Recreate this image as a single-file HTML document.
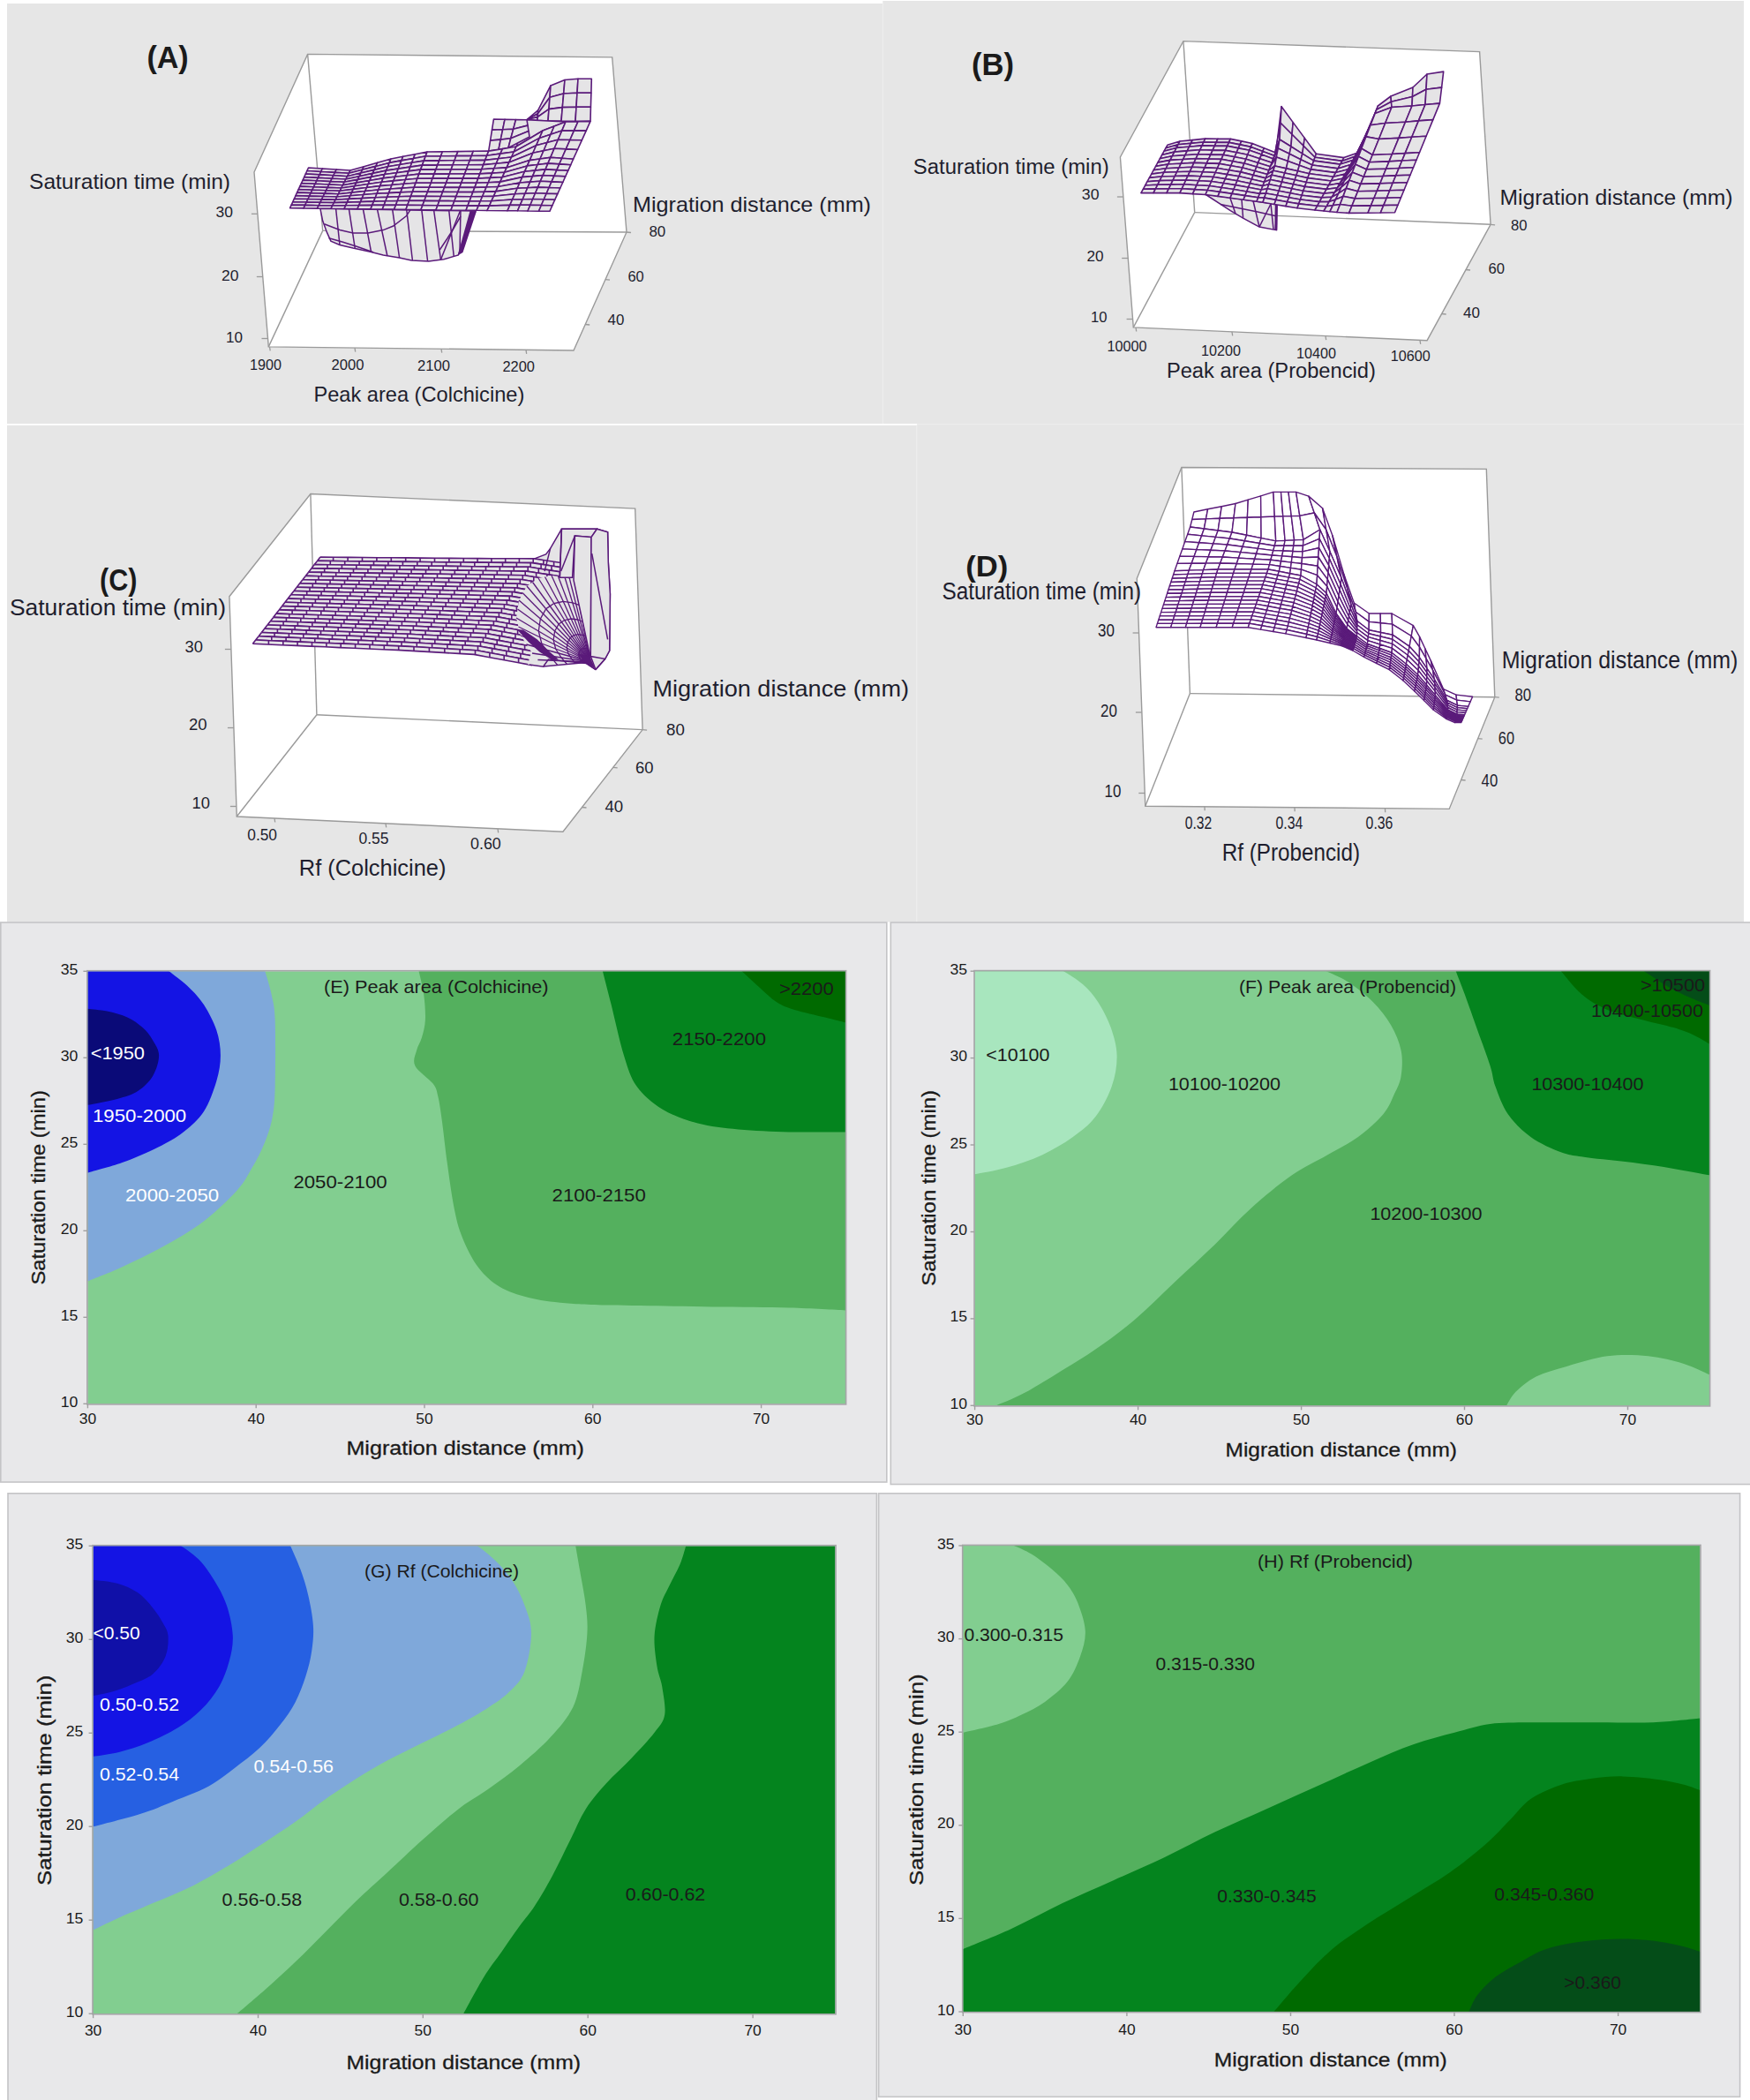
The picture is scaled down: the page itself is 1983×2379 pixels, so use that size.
<!DOCTYPE html><html><head><meta charset="utf-8"><title>Figure</title><style>html,body{margin:0;padding:0;background:#fff}svg{display:block}text{font-family:"Liberation Sans",sans-serif}</style></head><body><svg width="1983" height="2379" viewBox="0 0 1983 2379"><rect x="0" y="0" width="1983" height="2379" fill="#ffffff"/>
<rect x="8" y="4" width="993" height="476.5" fill="#e6e6e6"/>
<rect x="1001" y="1" width="975" height="480" fill="#e6e6e6"/>
<line x1="1000.5" y1="1" x2="1000.5" y2="480" stroke="#eeeeee" stroke-width="1"/>
<rect x="8" y="481.5" width="1031" height="563" fill="#e6e6e6"/>
<rect x="1039" y="481" width="937" height="563.5" fill="#e6e6e6"/>
<line x1="1038.8" y1="481" x2="1038.8" y2="1044" stroke="#eeeeee" stroke-width="1"/>
<line x1="8" y1="480.8" x2="1039" y2="480.8" stroke="#ffffff" stroke-width="1.6"/>
<line x1="1039" y1="480.6" x2="1976" y2="480.6" stroke="#eeeeee" stroke-width="1"/>
<polygon points="288,195 348.6,61.4 693.7,64.9 710,263 650,397 304.3,392.9" fill="#ffffff" stroke="#9a9a9a" stroke-width="1.4"/>
<line x1="348.6" y1="61.4" x2="365.7" y2="261.4" stroke="#9a9a9a" stroke-width="1.4"/>
<line x1="365.7" y1="261.4" x2="710" y2="263" stroke="#9a9a9a" stroke-width="1.4"/>
<line x1="365.7" y1="261.4" x2="304.3" y2="392.9" stroke="#9a9a9a" stroke-width="1.4"/>
<line x1="291.9" y1="242.3" x2="284.9" y2="242.3" stroke="#9a9a9a" stroke-width="1.3"/>
<line x1="297.8" y1="313.5" x2="290.8" y2="313.5" stroke="#9a9a9a" stroke-width="1.3"/>
<line x1="303.5" y1="383.5" x2="296.5" y2="383.5" stroke="#9a9a9a" stroke-width="1.3"/>
<line x1="305.5" y1="392.9" x2="306.2" y2="397.4" stroke="#9a9a9a" stroke-width="1.3"/>
<line x1="402" y1="394.1" x2="402.7" y2="398.6" stroke="#9a9a9a" stroke-width="1.3"/>
<line x1="500" y1="395.2" x2="500.7" y2="399.7" stroke="#9a9a9a" stroke-width="1.3"/>
<line x1="596" y1="396.4" x2="596.7" y2="400.9" stroke="#9a9a9a" stroke-width="1.3"/>
<line x1="710" y1="263" x2="715" y2="263.5" stroke="#9a9a9a" stroke-width="1.3"/>
<line x1="686" y1="316.6" x2="691" y2="317.1" stroke="#9a9a9a" stroke-width="1.3"/>
<line x1="663.2" y1="367.5" x2="668.2" y2="368" stroke="#9a9a9a" stroke-width="1.3"/>
<g fill="#e5e4e6" stroke="#5a1a7a" stroke-width="1.6" stroke-linejoin="round"><polygon points="597,135.7 609.5,128.7 609.7,124.9 597,135.7"/><polygon points="609.5,128.7 623,110.3 624,96.9 609.7,124.9"/><polygon points="623,110.3 638.7,106 640,90.5 624,96.9"/><polygon points="638.7,106 654,105.3 655,89.3 640,90.5"/><polygon points="654,105.3 669.9,105.3 670.3,89.2 655,89.3"/><polygon points="597,135.7 609.2,132.5 609.5,128.7 597,135.7"/><polygon points="609.2,132.5 622,123.6 623,110.3 609.5,128.7"/><polygon points="622,123.6 637.3,121.6 638.7,106 623,110.3"/><polygon points="637.3,121.6 653,121.2 654,105.3 638.7,106"/><polygon points="653,121.2 669.4,121.3 669.9,105.3 654,105.3"/><polygon points="597,135.7 609,136.3 609.2,132.5 597,135.7"/><polygon points="609,136.3 621,137 622,123.6 609.2,132.5"/><polygon points="621,137 636,137.1 637.3,121.6 622,123.6"/><polygon points="636,137.1 652,137.2 653,121.2 637.3,121.6"/><polygon points="652,137.2 669,137.4 669.4,121.3 653,121.2"/></g>
<polygon points="597,135.7 585,166 615,148 641,138 621,137" fill="#e5e4e6" stroke="#5a1a7a" stroke-width="1.5"/>
<g fill="#e5e4e6" stroke="#5a1a7a" stroke-width="1.6" stroke-linejoin="round"><polygon points="557.5,147.1 569.7,146.7 572,135.3 559.4,135.1"/><polygon points="569.7,146.7 581.7,146.2 584.5,135.5 572,135.3"/><polygon points="581.7,146.2 598,142.1 597,135.7 584.5,135.5"/><polygon points="555.6,159.1 567.3,158.1 569.7,146.7 557.5,147.1"/><polygon points="567.3,158.1 578.8,156.8 581.7,146.2 569.7,146.7"/><polygon points="578.8,156.8 599,148.6 598,142.1 581.7,146.2"/><polygon points="553.7,171.1 565,169.5 567.3,158.1 555.6,159.1"/><polygon points="565,169.5 576,167.5 578.8,156.8 567.3,158.1"/><polygon points="576,167.5 600,155 599,148.6 578.8,156.8"/></g>
<polygon points="362.9,236.3 365.7,250.3 370.3,262.9 374.9,273.1 385,277.5 400,281.1 420.6,285.5 434.3,289.1 452.6,292 466.3,294.9 485.7,296 502.9,293.7 519.4,289 531.4,257.1 538.9,239.1" fill="#e5e4e6" stroke="#5a1a7a" stroke-width="1.5"/>
<line x1="380.6" y1="236.6" x2="385" y2="277.5" stroke="#5a1a7a" stroke-width="1.5"/>
<line x1="395.4" y1="236.6" x2="402.3" y2="281.5" stroke="#5a1a7a" stroke-width="1.5"/>
<line x1="411.4" y1="236.6" x2="420.6" y2="285.5" stroke="#5a1a7a" stroke-width="1.5"/>
<line x1="427.4" y1="236.6" x2="438.9" y2="290" stroke="#5a1a7a" stroke-width="1.5"/>
<line x1="444.6" y1="236.6" x2="452.6" y2="292" stroke="#5a1a7a" stroke-width="1.5"/>
<line x1="460.6" y1="236.6" x2="467.4" y2="295" stroke="#5a1a7a" stroke-width="1.5"/>
<line x1="477.7" y1="236.6" x2="484.6" y2="296" stroke="#5a1a7a" stroke-width="1.5"/>
<line x1="491.4" y1="236.6" x2="499.4" y2="294.2" stroke="#5a1a7a" stroke-width="1.5"/>
<line x1="508.6" y1="237" x2="514.3" y2="291" stroke="#5a1a7a" stroke-width="1.5"/>
<line x1="522" y1="237.5" x2="499.4" y2="294.2" stroke="#5a1a7a" stroke-width="1.5"/>
<line x1="522" y1="237.5" x2="521" y2="284" stroke="#5a1a7a" stroke-width="1.5"/>
<polyline points="367.4,253.7 385,260.5 400,264 417,264 434.3,260.6 445.7,256 460.6,244.6 465,237.7" fill="none" stroke="#5a1a7a" stroke-width="1.5"/>
<polyline points="372.6,269.7 388.6,274.3 405,279.5 422.9,285.7" fill="none" stroke="#5a1a7a" stroke-width="1.5"/>
<polyline points="498.3,283 507,270 514.3,258.3 522,245" fill="none" stroke="#5a1a7a" stroke-width="1.5"/>
<polygon points="532.5,239 540,239.2 524.5,286 518.5,289.5" fill="#5a1a7a"/>
<g fill="#e5e4e6" stroke="#5a1a7a" stroke-width="1.6" stroke-linejoin="round"><polygon points="347.9,193.5 363.7,194.5 365.3,191 349.5,190"/><polygon points="363.7,194.5 379.5,195.4 381.2,192 365.3,191"/><polygon points="379.5,195.4 395.3,196.3 397,193 381.2,192"/><polygon points="395.3,196.3 410.6,192.3 412.3,188.7 397,193"/><polygon points="410.6,192.3 425.9,188.4 427.7,184.3 412.3,188.7"/><polygon points="425.9,188.4 441.2,184.4 443,180 427.7,184.3"/><polygon points="441.2,184.4 454.9,181.9 456.7,177.3 443,180"/><polygon points="454.9,181.9 468.5,179.5 470.3,174.7 456.7,177.3"/><polygon points="468.5,179.5 482.2,177 484,172 470.3,174.7"/><polygon points="482.2,177 499.5,176.8 501.4,171.8 484,172"/><polygon points="499.5,176.8 516.9,176.6 518.9,171.6 501.4,171.8"/><polygon points="516.9,176.6 534.3,176.5 536.3,171.3 518.9,171.6"/><polygon points="534.3,176.5 551.7,176.3 553.7,171.1 536.3,171.3"/><polygon points="551.7,176.3 567,174.1 569.4,168.6 553.7,171.1"/><polygon points="567,174.1 582.3,172 585,166 569.4,168.6"/><polygon points="582.3,172 611.3,156.4 615,148 585,166"/><polygon points="611.3,156.4 624,152.2 628,143 615,148"/><polygon points="624,152.2 636.7,148.1 641,138 628,143"/><polygon points="636.7,148.1 650.4,148.1 655,137.7 641,138"/><polygon points="650.4,148.1 664.2,148.1 669,137.4 655,137.7"/><polygon points="346.3,197 362.1,197.9 363.7,194.5 347.9,193.5"/><polygon points="362.1,197.9 377.8,198.8 379.5,195.4 363.7,194.5"/><polygon points="377.8,198.8 393.6,199.7 395.3,196.3 379.5,195.4"/><polygon points="393.6,199.7 408.9,196 410.6,192.3 395.3,196.3"/><polygon points="408.9,196 424.2,192.4 425.9,188.4 410.6,192.3"/><polygon points="424.2,192.4 439.5,188.7 441.2,184.4 425.9,188.4"/><polygon points="439.5,188.7 453.1,186.5 454.9,181.9 441.2,184.4"/><polygon points="453.1,186.5 466.7,184.3 468.5,179.5 454.9,181.9"/><polygon points="466.7,184.3 480.3,182.1 482.2,177 468.5,179.5"/><polygon points="480.3,182.1 497.7,181.9 499.5,176.8 482.2,177"/><polygon points="497.7,181.9 515,181.7 516.9,176.6 499.5,176.8"/><polygon points="515,181.7 532.4,181.6 534.3,176.5 516.9,176.6"/><polygon points="532.4,181.6 549.7,181.4 551.7,176.3 534.3,176.5"/><polygon points="549.7,181.4 564.6,179.7 567,174.1 551.7,176.3"/><polygon points="564.6,179.7 579.6,178 582.3,172 567,174.1"/><polygon points="579.6,178 607.6,164.8 611.3,156.4 582.3,172"/><polygon points="607.6,164.8 620,161.5 624,152.2 611.3,156.4"/><polygon points="620,161.5 632.4,158.2 636.7,148.1 624,152.2"/><polygon points="632.4,158.2 645.9,158.5 650.4,148.1 636.7,148.1"/><polygon points="645.9,158.5 659.3,158.8 664.2,148.1 650.4,148.1"/><polygon points="344.7,200.6 360.4,201.4 362.1,197.9 346.3,197"/><polygon points="360.4,201.4 376.2,202.2 377.8,198.8 362.1,197.9"/><polygon points="376.2,202.2 391.9,203 393.6,199.7 377.8,198.8"/><polygon points="391.9,203 407.2,199.7 408.9,196 393.6,199.7"/><polygon points="407.2,199.7 422.4,196.4 424.2,192.4 408.9,196"/><polygon points="422.4,196.4 437.7,193.1 439.5,188.7 424.2,192.4"/><polygon points="437.7,193.1 451.3,191.1 453.1,186.5 439.5,188.7"/><polygon points="451.3,191.1 464.9,189.1 466.7,184.3 453.1,186.5"/><polygon points="464.9,189.1 478.5,187.1 480.3,182.1 466.7,184.3"/><polygon points="478.5,187.1 495.8,187 497.7,181.9 480.3,182.1"/><polygon points="495.8,187 513.1,186.8 515,181.7 497.7,181.9"/><polygon points="513.1,186.8 530.4,186.7 532.4,181.6 515,181.7"/><polygon points="530.4,186.7 547.8,186.6 549.7,181.4 532.4,181.6"/><polygon points="547.8,186.6 562.3,185.3 564.6,179.7 549.7,181.4"/><polygon points="562.3,185.3 576.8,183.9 579.6,178 564.6,179.7"/><polygon points="576.8,183.9 603.9,173.2 607.6,164.8 579.6,178"/><polygon points="603.9,173.2 616,170.7 620,161.5 607.6,164.8"/><polygon points="616,170.7 628.1,168.3 632.4,158.2 620,161.5"/><polygon points="628.1,168.3 641.3,168.9 645.9,158.5 632.4,158.2"/><polygon points="641.3,168.9 654.5,169.5 659.3,158.8 645.9,158.5"/><polygon points="343.1,204.1 358.8,204.8 360.4,201.4 344.7,200.6"/><polygon points="358.8,204.8 374.5,205.6 376.2,202.2 360.4,201.4"/><polygon points="374.5,205.6 390.2,206.3 391.9,203 376.2,202.2"/><polygon points="390.2,206.3 405.5,203.4 407.2,199.7 391.9,203"/><polygon points="405.5,203.4 420.7,200.4 422.4,196.4 407.2,199.7"/><polygon points="420.7,200.4 435.9,197.5 437.7,193.1 422.4,196.4"/><polygon points="435.9,197.5 449.5,195.7 451.3,191.1 437.7,193.1"/><polygon points="449.5,195.7 463,193.9 464.9,189.1 451.3,191.1"/><polygon points="463,193.9 476.6,192.1 478.5,187.1 464.9,189.1"/><polygon points="476.6,192.1 493.9,192 495.8,187 478.5,187.1"/><polygon points="493.9,192 511.2,191.9 513.1,186.8 495.8,187"/><polygon points="511.2,191.9 528.5,191.9 530.4,186.7 513.1,186.8"/><polygon points="528.5,191.9 545.8,191.8 547.8,186.6 530.4,186.7"/><polygon points="545.8,191.8 559.9,190.8 562.3,185.3 547.8,186.6"/><polygon points="559.9,190.8 574.1,189.9 576.8,183.9 562.3,185.3"/><polygon points="574.1,189.9 600.2,181.6 603.9,173.2 576.8,183.9"/><polygon points="600.2,181.6 612,180 616,170.7 603.9,173.2"/><polygon points="612,180 623.8,178.4 628.1,168.3 616,170.7"/><polygon points="623.8,178.4 636.7,179.3 641.3,168.9 628.1,168.3"/><polygon points="636.7,179.3 649.6,180.2 654.5,169.5 641.3,168.9"/><polygon points="341.5,207.6 357.1,208.3 358.8,204.8 343.1,204.1"/><polygon points="357.1,208.3 372.8,209 374.5,205.6 358.8,204.8"/><polygon points="372.8,209 388.5,209.7 390.2,206.3 374.5,205.6"/><polygon points="388.5,209.7 403.7,207.1 405.5,203.4 390.2,206.3"/><polygon points="403.7,207.1 418.9,204.5 420.7,200.4 405.5,203.4"/><polygon points="418.9,204.5 434.1,201.9 435.9,197.5 420.7,200.4"/><polygon points="434.1,201.9 447.7,200.3 449.5,195.7 435.9,197.5"/><polygon points="447.7,200.3 461.2,198.7 463,193.9 449.5,195.7"/><polygon points="461.2,198.7 474.8,197.1 476.6,192.1 463,193.9"/><polygon points="474.8,197.1 492,197.1 493.9,192 476.6,192.1"/><polygon points="492,197.1 509.3,197 511.2,191.9 493.9,192"/><polygon points="509.3,197 526.5,197 528.5,191.9 511.2,191.9"/><polygon points="526.5,197 543.8,196.9 545.8,191.8 528.5,191.9"/><polygon points="543.8,196.9 557.7,196.1 559.9,190.8 545.8,191.8"/><polygon points="557.7,196.1 571.7,195.3 574.1,189.9 559.9,190.8"/><polygon points="571.7,195.3 597.4,187.9 600.2,181.6 574.1,189.9"/><polygon points="597.4,187.9 609.2,186.5 612,180 600.2,181.6"/><polygon points="609.2,186.5 620.9,185.1 623.8,178.4 612,180"/><polygon points="620.9,185.1 633.8,185.9 636.7,179.3 623.8,178.4"/><polygon points="633.8,185.9 646.7,186.8 649.6,180.2 636.7,179.3"/><polygon points="339.8,211.1 355.5,211.7 357.1,208.3 341.5,207.6"/><polygon points="355.5,211.7 371.2,212.4 372.8,209 357.1,208.3"/><polygon points="371.2,212.4 386.8,213 388.5,209.7 372.8,209"/><polygon points="386.8,213 402,210.7 403.7,207.1 388.5,209.7"/><polygon points="402,210.7 417.2,208.5 418.9,204.5 403.7,207.1"/><polygon points="417.2,208.5 432.4,206.2 434.1,201.9 418.9,204.5"/><polygon points="432.4,206.2 445.9,204.9 447.7,200.3 434.1,201.9"/><polygon points="445.9,204.9 459.4,203.5 461.2,198.7 447.7,200.3"/><polygon points="459.4,203.5 472.9,202.2 474.8,197.1 461.2,198.7"/><polygon points="472.9,202.2 490.1,202.1 492,197.1 474.8,197.1"/><polygon points="490.1,202.1 507.4,202.1 509.3,197 492,197.1"/><polygon points="507.4,202.1 524.6,202.1 526.5,197 509.3,197"/><polygon points="524.6,202.1 541.8,202.1 543.8,196.9 526.5,197"/><polygon points="541.8,202.1 555.5,201.4 557.7,196.1 543.8,196.9"/><polygon points="555.5,201.4 569.2,200.7 571.7,195.3 557.7,196.1"/><polygon points="569.2,200.7 594.6,194.3 597.4,187.9 571.7,195.3"/><polygon points="594.6,194.3 606.3,193.1 609.2,186.5 597.4,187.9"/><polygon points="606.3,193.1 618.1,191.9 620.9,185.1 609.2,186.5"/><polygon points="618.1,191.9 630.9,192.6 633.8,185.9 620.9,185.1"/><polygon points="630.9,192.6 643.7,193.3 646.7,186.8 633.8,185.9"/><polygon points="338.2,214.6 353.9,215.2 355.5,211.7 339.8,211.1"/><polygon points="353.9,215.2 369.5,215.8 371.2,212.4 355.5,211.7"/><polygon points="369.5,215.8 385.1,216.3 386.8,213 371.2,212.4"/><polygon points="385.1,216.3 400.3,214.4 402,210.7 386.8,213"/><polygon points="400.3,214.4 415.5,212.5 417.2,208.5 402,210.7"/><polygon points="415.5,212.5 430.6,210.6 432.4,206.2 417.2,208.5"/><polygon points="430.6,210.6 444.1,209.5 445.9,204.9 432.4,206.2"/><polygon points="444.1,209.5 457.6,208.3 459.4,203.5 445.9,204.9"/><polygon points="457.6,208.3 471.1,207.2 472.9,202.2 459.4,203.5"/><polygon points="471.1,207.2 488.3,207.2 490.1,202.1 472.9,202.2"/><polygon points="488.3,207.2 505.5,207.2 507.4,202.1 490.1,202.1"/><polygon points="505.5,207.2 522.7,207.2 524.6,202.1 507.4,202.1"/><polygon points="522.7,207.2 539.9,207.2 541.8,202.1 524.6,202.1"/><polygon points="539.9,207.2 553.3,206.7 555.5,201.4 541.8,202.1"/><polygon points="553.3,206.7 566.7,206.1 569.2,200.7 555.5,201.4"/><polygon points="566.7,206.1 591.8,200.6 594.6,194.3 569.2,200.7"/><polygon points="591.8,200.6 603.5,199.6 606.3,193.1 594.6,194.3"/><polygon points="603.5,199.6 615.2,198.6 618.1,191.9 606.3,193.1"/><polygon points="615.2,198.6 628,199.2 630.9,192.6 618.1,191.9"/><polygon points="628,199.2 640.7,199.9 643.7,193.3 630.9,192.6"/><polygon points="336.6,218.1 352.2,218.6 353.9,215.2 338.2,214.6"/><polygon points="352.2,218.6 367.9,219.1 369.5,215.8 353.9,215.2"/><polygon points="367.9,219.1 383.5,219.7 385.1,216.3 369.5,215.8"/><polygon points="383.5,219.7 398.6,218.1 400.3,214.4 385.1,216.3"/><polygon points="398.6,218.1 413.7,216.5 415.5,212.5 400.3,214.4"/><polygon points="413.7,216.5 428.8,215 430.6,210.6 415.5,212.5"/><polygon points="428.8,215 442.3,214 444.1,209.5 430.6,210.6"/><polygon points="442.3,214 455.8,213.1 457.6,208.3 444.1,209.5"/><polygon points="455.8,213.1 469.2,212.2 471.1,207.2 457.6,208.3"/><polygon points="469.2,212.2 486.4,212.2 488.3,207.2 471.1,207.2"/><polygon points="486.4,212.2 503.6,212.3 505.5,207.2 488.3,207.2"/><polygon points="503.6,212.3 520.7,212.4 522.7,207.2 505.5,207.2"/><polygon points="520.7,212.4 537.9,212.4 539.9,207.2 522.7,207.2"/><polygon points="537.9,212.4 551.1,212 553.3,206.7 539.9,207.2"/><polygon points="551.1,212 564.3,211.5 566.7,206.1 553.3,206.7"/><polygon points="564.3,211.5 589,207 591.8,200.6 566.7,206.1"/><polygon points="589,207 600.7,206.1 603.5,199.6 591.8,200.6"/><polygon points="600.7,206.1 612.3,205.3 615.2,198.6 603.5,199.6"/><polygon points="612.3,205.3 625,205.9 628,199.2 615.2,198.6"/><polygon points="625,205.9 637.8,206.5 640.7,199.9 628,199.2"/><polygon points="335,221.6 350.6,222.1 352.2,218.6 336.6,218.1"/><polygon points="350.6,222.1 366.2,222.5 367.9,219.1 352.2,218.6"/><polygon points="366.2,222.5 381.8,223 383.5,219.7 367.9,219.1"/><polygon points="381.8,223 396.9,221.8 398.6,218.1 383.5,219.7"/><polygon points="396.9,221.8 412,220.5 413.7,216.5 398.6,218.1"/><polygon points="412,220.5 427.1,219.3 428.8,215 413.7,216.5"/><polygon points="427.1,219.3 440.5,218.6 442.3,214 428.8,215"/><polygon points="440.5,218.6 453.9,217.9 455.8,213.1 442.3,214"/><polygon points="453.9,217.9 467.4,217.2 469.2,212.2 455.8,213.1"/><polygon points="467.4,217.2 484.5,217.3 486.4,212.2 469.2,212.2"/><polygon points="484.5,217.3 501.6,217.4 503.6,212.3 486.4,212.2"/><polygon points="501.6,217.4 518.8,217.5 520.7,212.4 503.6,212.3"/><polygon points="518.8,217.5 535.9,217.6 537.9,212.4 520.7,212.4"/><polygon points="535.9,217.6 548.9,217.2 551.1,212 537.9,212.4"/><polygon points="548.9,217.2 561.8,216.9 564.3,211.5 551.1,212"/><polygon points="561.8,216.9 586.2,213.3 589,207 564.3,211.5"/><polygon points="586.2,213.3 597.8,212.7 600.7,206.1 589,207"/><polygon points="597.8,212.7 609.5,212.1 612.3,205.3 600.7,206.1"/><polygon points="609.5,212.1 622.1,212.5 625,205.9 612.3,205.3"/><polygon points="622.1,212.5 634.8,213 637.8,206.5 625,205.9"/><polygon points="333.4,225.2 349,225.5 350.6,222.1 335,221.6"/><polygon points="349,225.5 364.5,225.9 366.2,222.5 350.6,222.1"/><polygon points="364.5,225.9 380.1,226.3 381.8,223 366.2,222.5"/><polygon points="380.1,226.3 395.2,225.4 396.9,221.8 381.8,223"/><polygon points="395.2,225.4 410.2,224.6 412,220.5 396.9,221.8"/><polygon points="410.2,224.6 425.3,223.7 427.1,219.3 412,220.5"/><polygon points="425.3,223.7 438.7,223.2 440.5,218.6 427.1,219.3"/><polygon points="438.7,223.2 452.1,222.7 453.9,217.9 440.5,218.6"/><polygon points="452.1,222.7 465.5,222.2 467.4,217.2 453.9,217.9"/><polygon points="465.5,222.2 482.6,222.4 484.5,217.3 467.4,217.2"/><polygon points="482.6,222.4 499.7,222.5 501.6,217.4 484.5,217.3"/><polygon points="499.7,222.5 516.8,222.6 518.8,217.5 501.6,217.4"/><polygon points="516.8,222.6 533.9,222.7 535.9,217.6 518.8,217.5"/><polygon points="533.9,222.7 546.6,222.5 548.9,217.2 535.9,217.6"/><polygon points="546.6,222.5 559.4,222.3 561.8,216.9 548.9,217.2"/><polygon points="559.4,222.3 583.4,219.7 586.2,213.3 561.8,216.9"/><polygon points="583.4,219.7 595,219.2 597.8,212.7 586.2,213.3"/><polygon points="595,219.2 606.6,218.8 609.5,212.1 597.8,212.7"/><polygon points="606.6,218.8 619.2,219.2 622.1,212.5 609.5,212.1"/><polygon points="619.2,219.2 631.8,219.6 634.8,213 622.1,212.5"/><polygon points="331.8,228.7 347.3,229 349,225.5 333.4,225.2"/><polygon points="347.3,229 362.9,229.3 364.5,225.9 349,225.5"/><polygon points="362.9,229.3 378.4,229.6 380.1,226.3 364.5,225.9"/><polygon points="378.4,229.6 393.4,229.1 395.2,225.4 380.1,226.3"/><polygon points="393.4,229.1 408.5,228.6 410.2,224.6 395.2,225.4"/><polygon points="408.5,228.6 423.5,228.1 425.3,223.7 410.2,224.6"/><polygon points="423.5,228.1 436.9,227.8 438.7,223.2 425.3,223.7"/><polygon points="436.9,227.8 450.3,227.5 452.1,222.7 438.7,223.2"/><polygon points="450.3,227.5 463.7,227.3 465.5,222.2 452.1,222.7"/><polygon points="463.7,227.3 480.8,227.4 482.6,222.4 465.5,222.2"/><polygon points="480.8,227.4 497.8,227.6 499.7,222.5 482.6,222.4"/><polygon points="497.8,227.6 514.9,227.7 516.8,222.6 499.7,222.5"/><polygon points="514.9,227.7 532,227.9 533.9,222.7 516.8,222.6"/><polygon points="532,227.9 544.4,227.8 546.6,222.5 533.9,222.7"/><polygon points="544.4,227.8 556.9,227.7 559.4,222.3 546.6,222.5"/><polygon points="556.9,227.7 580.6,226 583.4,219.7 559.4,222.3"/><polygon points="580.6,226 592.2,225.8 595,219.2 583.4,219.7"/><polygon points="592.2,225.8 603.7,225.5 606.6,218.8 595,219.2"/><polygon points="603.7,225.5 616.3,225.8 619.2,219.2 606.6,218.8"/><polygon points="616.3,225.8 628.8,226.2 631.8,219.6 619.2,219.2"/><polygon points="330.2,232.2 345.7,232.4 347.3,229 331.8,228.7"/><polygon points="345.7,232.4 361.2,232.7 362.9,229.3 347.3,229"/><polygon points="361.2,232.7 376.7,233 378.4,229.6 362.9,229.3"/><polygon points="376.7,233 391.7,232.8 393.4,229.1 378.4,229.6"/><polygon points="391.7,232.8 406.7,232.6 408.5,228.6 393.4,229.1"/><polygon points="406.7,232.6 421.8,232.4 423.5,228.1 408.5,228.6"/><polygon points="421.8,232.4 435.1,232.4 436.9,227.8 423.5,228.1"/><polygon points="435.1,232.4 448.5,232.3 450.3,227.5 436.9,227.8"/><polygon points="448.5,232.3 461.8,232.3 463.7,227.3 450.3,227.5"/><polygon points="461.8,232.3 478.9,232.5 480.8,227.4 463.7,227.3"/><polygon points="478.9,232.5 495.9,232.7 497.8,227.6 480.8,227.4"/><polygon points="495.9,232.7 512.9,232.9 514.9,227.7 497.8,227.6"/><polygon points="512.9,232.9 530,233 532,227.9 514.9,227.7"/><polygon points="530,233 542.2,233.1 544.4,227.8 532,227.9"/><polygon points="542.2,233.1 554.5,233.1 556.9,227.7 544.4,227.8"/><polygon points="554.5,233.1 577.8,232.4 580.6,226 556.9,227.7"/><polygon points="577.8,232.4 589.3,232.3 592.2,225.8 580.6,226"/><polygon points="589.3,232.3 600.9,232.3 603.7,225.5 592.2,225.8"/><polygon points="600.9,232.3 613.4,232.5 616.3,225.8 603.7,225.5"/><polygon points="613.4,232.5 625.9,232.7 628.8,226.2 616.3,225.8"/><polygon points="328.6,235.7 344.1,235.9 345.7,232.4 330.2,232.2"/><polygon points="344.1,235.9 359.5,236.1 361.2,232.7 345.7,232.4"/><polygon points="359.5,236.1 375,236.3 376.7,233 361.2,232.7"/><polygon points="375,236.3 390,236.5 391.7,232.8 376.7,233"/><polygon points="390,236.5 405,236.6 406.7,232.6 391.7,232.8"/><polygon points="405,236.6 420,236.8 421.8,232.4 406.7,232.6"/><polygon points="420,236.8 433.3,237 435.1,232.4 421.8,232.4"/><polygon points="433.3,237 446.7,237.1 448.5,232.3 435.1,232.4"/><polygon points="446.7,237.1 460,237.3 461.8,232.3 448.5,232.3"/><polygon points="460,237.3 477,237.5 478.9,232.5 461.8,232.3"/><polygon points="477,237.5 494,237.8 495.9,232.7 478.9,232.5"/><polygon points="494,237.8 511,238 512.9,232.9 495.9,232.7"/><polygon points="511,238 528,238.2 530,233 512.9,232.9"/><polygon points="528,238.2 540,238.3 542.2,233.1 530,233"/><polygon points="540,238.3 552,238.5 554.5,233.1 542.2,233.1"/><polygon points="552,238.5 575,238.7 577.8,232.4 554.5,233.1"/><polygon points="575,238.7 586.5,238.8 589.3,232.3 577.8,232.4"/><polygon points="586.5,238.8 598,239 600.9,232.3 589.3,232.3"/><polygon points="598,239 610.5,239.2 613.4,232.5 600.9,232.3"/><polygon points="610.5,239.2 622.9,239.3 625.9,232.7 613.4,232.5"/></g>
<text font-weight="bold" x="166.4" y="76.8" font-size="35.5" fill="#1a1a1a" textLength="47.3" lengthAdjust="spacingAndGlyphs">(A)</text>
<text x="33" y="213.7" font-size="23.4" fill="#1e1e2e" textLength="228" lengthAdjust="spacingAndGlyphs">Saturation time (min)</text>
<text x="244.6" y="246" font-size="16.6" fill="#1e1e2e" textLength="19.4" lengthAdjust="spacingAndGlyphs">30</text>
<text x="251" y="317.9" font-size="16.6" fill="#1e1e2e" textLength="19.5" lengthAdjust="spacingAndGlyphs">20</text>
<text x="256" y="387.6" font-size="16.6" fill="#1e1e2e" textLength="19" lengthAdjust="spacingAndGlyphs">10</text>
<text x="283" y="419" font-size="16.6" fill="#1e1e2e" textLength="36" lengthAdjust="spacingAndGlyphs">1900</text>
<text x="375.5" y="419.2" font-size="16.6" fill="#1e1e2e" textLength="37" lengthAdjust="spacingAndGlyphs">2000</text>
<text x="473" y="419.6" font-size="16.6" fill="#1e1e2e" textLength="37" lengthAdjust="spacingAndGlyphs">2100</text>
<text x="569.5" y="421.3" font-size="16.6" fill="#1e1e2e" textLength="36.5" lengthAdjust="spacingAndGlyphs">2200</text>
<text x="355.4" y="455.4" font-size="23.4" fill="#1e1e2e" textLength="238.9" lengthAdjust="spacingAndGlyphs">Peak area (Colchicine)</text>
<text x="717" y="240" font-size="23.4" fill="#1e1e2e" textLength="270" lengthAdjust="spacingAndGlyphs">Migration distance (mm)</text>
<text x="735.4" y="267.6" font-size="16.6" fill="#1e1e2e" textLength="18.9" lengthAdjust="spacingAndGlyphs">80</text>
<text x="711.4" y="319" font-size="16.6" fill="#1e1e2e" textLength="18.3" lengthAdjust="spacingAndGlyphs">60</text>
<text x="688.6" y="367.6" font-size="16.6" fill="#1e1e2e" textLength="18.8" lengthAdjust="spacingAndGlyphs">40</text>
<polygon points="1269.4,178 1340.9,46.6 1676.6,58.6 1689.1,254.3 1617.1,385.7 1284.3,370.9" fill="#ffffff" stroke="#9a9a9a" stroke-width="1.4"/>
<line x1="1340.9" y1="46.6" x2="1353.7" y2="240.6" stroke="#9a9a9a" stroke-width="1.4"/>
<line x1="1353.7" y1="240.6" x2="1689.1" y2="254.3" stroke="#9a9a9a" stroke-width="1.4"/>
<line x1="1353.7" y1="240.6" x2="1284.3" y2="370.9" stroke="#9a9a9a" stroke-width="1.4"/>
<line x1="1272.9" y1="223" x2="1265.9" y2="223" stroke="#9a9a9a" stroke-width="1.3"/>
<line x1="1278.2" y1="292.5" x2="1271.2" y2="292.5" stroke="#9a9a9a" stroke-width="1.3"/>
<line x1="1283.6" y1="361.5" x2="1276.6" y2="361.5" stroke="#9a9a9a" stroke-width="1.3"/>
<line x1="1287" y1="371" x2="1287.7" y2="375.5" stroke="#9a9a9a" stroke-width="1.3"/>
<line x1="1396" y1="375.9" x2="1396.7" y2="380.4" stroke="#9a9a9a" stroke-width="1.3"/>
<line x1="1502" y1="380.6" x2="1502.7" y2="385.1" stroke="#9a9a9a" stroke-width="1.3"/>
<line x1="1609" y1="385.3" x2="1609.7" y2="389.8" stroke="#9a9a9a" stroke-width="1.3"/>
<line x1="1689.1" y1="254.3" x2="1694.1" y2="254.8" stroke="#9a9a9a" stroke-width="1.3"/>
<line x1="1661" y1="305.5" x2="1666" y2="306" stroke="#9a9a9a" stroke-width="1.3"/>
<line x1="1633.7" y1="355.5" x2="1638.7" y2="356" stroke="#9a9a9a" stroke-width="1.3"/>
<polygon points="1365.7,220 1394.3,238.6 1408.6,247.1 1427,257.1 1446.4,260.7 1447,231.4" fill="#e5e4e6" stroke="#5a1a7a" stroke-width="1.5"/>
<line x1="1394" y1="224.5" x2="1400" y2="242" stroke="#5a1a7a" stroke-width="1.5"/>
<line x1="1407" y1="226" x2="1408.6" y2="247.1" stroke="#5a1a7a" stroke-width="1.5"/>
<line x1="1420" y1="227.5" x2="1427" y2="257.1" stroke="#5a1a7a" stroke-width="1.5"/>
<line x1="1440" y1="231" x2="1427" y2="257.1" stroke="#5a1a7a" stroke-width="1.5"/>
<line x1="1440" y1="231" x2="1443" y2="260" stroke="#5a1a7a" stroke-width="1.5"/>
<polyline points="1383,231.5 1405,236 1425,240 1447,245" fill="none" stroke="#5a1a7a" stroke-width="1.5"/>
<line x1="1446.3" y1="231.4" x2="1445.8" y2="260.7" stroke="#5a1a7a" stroke-width="3"/>
<g fill="#e5e4e6" stroke="#5a1a7a" stroke-width="1.6" stroke-linejoin="round"><polygon points="1321,167.7 1335.1,163.7 1337,160 1322.9,164.3"/><polygon points="1335.1,163.7 1349.5,162.4 1351.3,158.6 1337,160"/><polygon points="1349.5,162.4 1363.9,161 1365.7,157.1 1351.3,158.6"/><polygon points="1363.9,161 1378.2,161.2 1380,157.2 1365.7,157.1"/><polygon points="1378.2,161.2 1392.5,161.4 1394.3,157.4 1380,157.2"/><polygon points="1392.5,161.4 1405,163.9 1406.7,159.9 1394.3,157.4"/><polygon points="1405,163.9 1417.4,166.4 1419,162.5 1406.7,159.9"/><polygon points="1417.4,166.4 1430.9,171.4 1432.3,167.7 1419,162.5"/><polygon points="1430.9,171.4 1444.3,176.4 1445.7,172.9 1432.3,167.7"/><polygon points="1444.3,176.4 1451,139.3 1452.1,120.7 1445.7,172.9"/><polygon points="1451,139.3 1464,152.3 1465.2,138.6 1452.1,120.7"/><polygon points="1464,152.3 1477,165.3 1478.3,156.4 1465.2,138.6"/><polygon points="1477,165.3 1490,178.2 1491.4,174.3 1478.3,156.4"/><polygon points="1490,178.2 1520.8,182.4 1522.9,178.6 1491.4,174.3"/><polygon points="1520.8,182.4 1536.1,177.1 1538.6,172.9 1522.9,178.6"/><polygon points="1536.1,177.1 1548.5,151.2 1550,148 1538.6,172.9"/><polygon points="1548.5,151.2 1559.8,124.2 1561.4,120 1550,148"/><polygon points="1559.8,124.2 1576.5,115.2 1576,109 1561.4,120"/><polygon points="1576.5,115.2 1600.5,109.5 1601,99 1576,109"/><polygon points="1600.5,109.5 1616,101.2 1617,84 1601,99"/><polygon points="1616,101.2 1633.6,99.1 1635.7,81.1 1617,84"/><polygon points="1319.1,171.2 1333.2,167.4 1335.1,163.7 1321,167.7"/><polygon points="1333.2,167.4 1347.6,166.2 1349.5,162.4 1335.1,163.7"/><polygon points="1347.6,166.2 1362.1,164.9 1363.9,161 1349.5,162.4"/><polygon points="1362.1,164.9 1376.4,165.2 1378.2,161.2 1363.9,161"/><polygon points="1376.4,165.2 1390.7,165.4 1392.5,161.4 1378.2,161.2"/><polygon points="1390.7,165.4 1403.3,167.9 1405,163.9 1392.5,161.4"/><polygon points="1403.3,167.9 1415.8,170.3 1417.4,166.4 1405,163.9"/><polygon points="1415.8,170.3 1429.4,175.1 1430.9,171.4 1417.4,166.4"/><polygon points="1429.4,175.1 1442.9,179.9 1444.3,176.4 1430.9,171.4"/><polygon points="1442.9,179.9 1450,158 1451,139.3 1444.3,176.4"/><polygon points="1450,158 1462.9,166 1464,152.3 1451,139.3"/><polygon points="1462.9,166 1475.8,174.1 1477,165.3 1464,152.3"/><polygon points="1475.8,174.1 1488.7,182.1 1490,178.2 1477,165.3"/><polygon points="1488.7,182.1 1518.7,186.1 1520.8,182.4 1490,178.2"/><polygon points="1518.7,186.1 1533.7,181.3 1536.1,177.1 1520.8,182.4"/><polygon points="1533.7,181.3 1547,154.4 1548.5,151.2 1536.1,177.1"/><polygon points="1547,154.4 1558.2,128.4 1559.8,124.2 1548.5,151.2"/><polygon points="1558.2,128.4 1577,121.5 1576.5,115.2 1559.8,124.2"/><polygon points="1577,121.5 1600,120 1600.5,109.5 1576.5,115.2"/><polygon points="1600,120 1615,118.5 1616,101.2 1600.5,109.5"/><polygon points="1615,118.5 1631.4,117.1 1633.6,99.1 1616,101.2"/><polygon points="1316.7,175.5 1330.8,172.1 1333.2,167.4 1319.1,171.2"/><polygon points="1330.8,172.1 1345.3,170.9 1347.6,166.2 1333.2,167.4"/><polygon points="1345.3,170.9 1359.8,169.8 1362.1,164.9 1347.6,166.2"/><polygon points="1359.8,169.8 1374.1,170.1 1376.4,165.2 1362.1,164.9"/><polygon points="1374.1,170.1 1388.5,170.4 1390.7,165.4 1376.4,165.2"/><polygon points="1388.5,170.4 1401.2,172.8 1403.3,167.9 1390.7,165.4"/><polygon points="1401.2,172.8 1413.8,175.3 1415.8,170.3 1403.3,167.9"/><polygon points="1413.8,175.3 1427.5,179.8 1429.4,175.1 1415.8,170.3"/><polygon points="1427.5,179.8 1441.2,184.3 1442.9,179.9 1429.4,175.1"/><polygon points="1441.2,184.3 1448.2,168 1450,158 1442.9,179.9"/><polygon points="1448.2,168 1461.1,174.3 1462.9,166 1450,158"/><polygon points="1461.1,174.3 1474,180.7 1475.8,174.1 1462.9,166"/><polygon points="1474,180.7 1487,187 1488.7,182.1 1475.8,174.1"/><polygon points="1487,187 1516.1,190.9 1518.7,186.1 1488.7,182.1"/><polygon points="1516.1,190.9 1530.6,186.5 1533.7,181.3 1518.7,186.1"/><polygon points="1530.6,186.5 1542.3,164.5 1547,154.4 1533.7,181.3"/><polygon points="1542.3,164.5 1553,141.7 1558.2,128.4 1547,154.4"/><polygon points="1553,141.7 1569.7,139.5 1577,121.5 1558.2,128.4"/><polygon points="1569.7,139.5 1592.5,138.2 1600,120 1577,121.5"/><polygon points="1592.5,138.2 1607.4,136.9 1615,118.5 1600,120"/><polygon points="1607.4,136.9 1623.8,135.6 1631.4,117.1 1615,118.5"/><polygon points="1314.3,179.8 1328.4,176.7 1330.8,172.1 1316.7,175.5"/><polygon points="1328.4,176.7 1343,175.7 1345.3,170.9 1330.8,172.1"/><polygon points="1343,175.7 1357.5,174.7 1359.8,169.8 1345.3,170.9"/><polygon points="1357.5,174.7 1371.9,175.1 1374.1,170.1 1359.8,169.8"/><polygon points="1371.9,175.1 1386.2,175.4 1388.5,170.4 1374.1,170.1"/><polygon points="1386.2,175.4 1399,177.8 1401.2,172.8 1388.5,170.4"/><polygon points="1399,177.8 1411.9,180.2 1413.8,175.3 1401.2,172.8"/><polygon points="1411.9,180.2 1425.7,184.4 1427.5,179.8 1413.8,175.3"/><polygon points="1425.7,184.4 1439.5,188.7 1441.2,184.3 1427.5,179.8"/><polygon points="1439.5,188.7 1446.3,178 1448.2,168 1441.2,184.3"/><polygon points="1446.3,178 1459.3,182.6 1461.1,174.3 1448.2,168"/><polygon points="1459.3,182.6 1472.3,187.2 1474,180.7 1461.1,174.3"/><polygon points="1472.3,187.2 1485.3,191.9 1487,187 1474,180.7"/><polygon points="1485.3,191.9 1513.5,195.6 1516.1,190.9 1487,187"/><polygon points="1513.5,195.6 1527.6,191.8 1530.6,186.5 1516.1,190.9"/><polygon points="1527.6,191.8 1537.5,174.6 1542.3,164.5 1530.6,186.5"/><polygon points="1537.5,174.6 1547.9,154.9 1553,141.7 1542.3,164.5"/><polygon points="1547.9,154.9 1562.5,157.5 1569.7,139.5 1553,141.7"/><polygon points="1562.5,157.5 1585,156.4 1592.5,138.2 1569.7,139.5"/><polygon points="1585,156.4 1599.8,155.2 1607.4,136.9 1592.5,138.2"/><polygon points="1599.8,155.2 1616.1,154.2 1623.8,135.6 1607.4,136.9"/><polygon points="1311.9,184.1 1326,181.4 1328.4,176.7 1314.3,179.8"/><polygon points="1326,181.4 1340.6,180.5 1343,175.7 1328.4,176.7"/><polygon points="1340.6,180.5 1355.2,179.6 1357.5,174.7 1343,175.7"/><polygon points="1355.2,179.6 1369.6,180 1371.9,175.1 1357.5,174.7"/><polygon points="1369.6,180 1384,180.4 1386.2,175.4 1371.9,175.1"/><polygon points="1384,180.4 1396.9,182.7 1399,177.8 1386.2,175.4"/><polygon points="1396.9,182.7 1409.9,185.1 1411.9,180.2 1399,177.8"/><polygon points="1409.9,185.1 1423.8,189.1 1425.7,184.4 1411.9,180.2"/><polygon points="1423.8,189.1 1437.8,193.1 1439.5,188.7 1425.7,184.4"/><polygon points="1437.8,193.1 1444.5,188 1446.3,178 1439.5,188.7"/><polygon points="1444.5,188 1457.5,190.9 1459.3,182.6 1446.3,178"/><polygon points="1457.5,190.9 1470.6,193.8 1472.3,187.2 1459.3,182.6"/><polygon points="1470.6,193.8 1483.6,196.8 1485.3,191.9 1472.3,187.2"/><polygon points="1483.6,196.8 1510.9,200.3 1513.5,195.6 1485.3,191.9"/><polygon points="1510.9,200.3 1524.5,197 1527.6,191.8 1513.5,195.6"/><polygon points="1524.5,197 1532.8,184.7 1537.5,174.6 1527.6,191.8"/><polygon points="1532.8,184.7 1542.8,168.2 1547.9,154.9 1537.5,174.6"/><polygon points="1542.8,168.2 1555.2,175.5 1562.5,157.5 1547.9,154.9"/><polygon points="1555.2,175.5 1577.5,174.5 1585,156.4 1562.5,157.5"/><polygon points="1577.5,174.5 1592.2,173.6 1599.8,155.2 1585,156.4"/><polygon points="1592.2,173.6 1608.5,172.7 1616.1,154.2 1599.8,155.2"/><polygon points="1309.6,188.4 1323.7,186 1326,181.4 1311.9,184.1"/><polygon points="1323.7,186 1338.3,185.2 1340.6,180.5 1326,181.4"/><polygon points="1338.3,185.2 1352.9,184.4 1355.2,179.6 1340.6,180.5"/><polygon points="1352.9,184.4 1367.3,184.9 1369.6,180 1355.2,179.6"/><polygon points="1367.3,184.9 1381.7,185.4 1384,180.4 1369.6,180"/><polygon points="1381.7,185.4 1394.8,187.7 1396.9,182.7 1384,180.4"/><polygon points="1394.8,187.7 1407.9,190 1409.9,185.1 1396.9,182.7"/><polygon points="1407.9,190 1422,193.7 1423.8,189.1 1409.9,185.1"/><polygon points="1422,193.7 1436.1,197.5 1437.8,193.1 1423.8,189.1"/><polygon points="1436.1,197.5 1442.8,193.2 1444.5,188 1437.8,193.1"/><polygon points="1442.8,193.2 1455.8,196 1457.5,190.9 1444.5,188"/><polygon points="1455.8,196 1468.9,198.8 1470.6,193.8 1457.5,190.9"/><polygon points="1468.9,198.8 1481.9,201.6 1483.6,196.8 1470.6,193.8"/><polygon points="1481.9,201.6 1508.3,205 1510.9,200.3 1483.6,196.8"/><polygon points="1508.3,205 1521.4,202.3 1524.5,197 1510.9,200.3"/><polygon points="1521.4,202.3 1529.6,191.6 1532.8,184.7 1524.5,197"/><polygon points="1529.6,191.6 1539.4,177.2 1542.8,168.2 1532.8,184.7"/><polygon points="1539.4,177.2 1551.9,183.7 1555.2,175.5 1542.8,168.2"/><polygon points="1551.9,183.7 1574.1,182.9 1577.5,174.5 1555.2,175.5"/><polygon points="1574.1,182.9 1588.7,182 1592.2,173.6 1577.5,174.5"/><polygon points="1588.7,182 1605,181.2 1608.5,172.7 1592.2,173.6"/><polygon points="1307.2,192.7 1321.3,190.7 1323.7,186 1309.6,188.4"/><polygon points="1321.3,190.7 1336,190 1338.3,185.2 1323.7,186"/><polygon points="1336,190 1350.7,189.3 1352.9,184.4 1338.3,185.2"/><polygon points="1350.7,189.3 1365.1,189.9 1367.3,184.9 1352.9,184.4"/><polygon points="1365.1,189.9 1379.5,190.5 1381.7,185.4 1367.3,184.9"/><polygon points="1379.5,190.5 1392.7,192.7 1394.8,187.7 1381.7,185.4"/><polygon points="1392.7,192.7 1405.9,194.9 1407.9,190 1394.8,187.7"/><polygon points="1405.9,194.9 1420.1,198.4 1422,193.7 1407.9,190"/><polygon points="1420.1,198.4 1434.3,201.9 1436.1,197.5 1422,193.7"/><polygon points="1434.3,201.9 1441.1,198.3 1442.8,193.2 1436.1,197.5"/><polygon points="1441.1,198.3 1454.1,201.1 1455.8,196 1442.8,193.2"/><polygon points="1454.1,201.1 1467.2,203.8 1468.9,198.8 1455.8,196"/><polygon points="1467.2,203.8 1480.2,206.5 1481.9,201.6 1468.9,198.8"/><polygon points="1480.2,206.5 1505.7,209.7 1508.3,205 1481.9,201.6"/><polygon points="1505.7,209.7 1518.4,207.5 1521.4,202.3 1508.3,205"/><polygon points="1518.4,207.5 1526.3,198.4 1529.6,191.6 1521.4,202.3"/><polygon points="1526.3,198.4 1535.9,186.3 1539.4,177.2 1529.6,191.6"/><polygon points="1535.9,186.3 1548.6,191.9 1551.9,183.7 1539.4,177.2"/><polygon points="1548.6,191.9 1570.6,191.2 1574.1,182.9 1551.9,183.7"/><polygon points="1570.6,191.2 1585.2,190.5 1588.7,182 1574.1,182.9"/><polygon points="1585.2,190.5 1601.5,189.7 1605,181.2 1588.7,182"/><polygon points="1304.8,197.1 1318.9,195.3 1321.3,190.7 1307.2,192.7"/><polygon points="1318.9,195.3 1333.6,194.8 1336,190 1321.3,190.7"/><polygon points="1333.6,194.8 1348.4,194.2 1350.7,189.3 1336,190"/><polygon points="1348.4,194.2 1362.8,194.8 1365.1,189.9 1350.7,189.3"/><polygon points="1362.8,194.8 1377.2,195.5 1379.5,190.5 1365.1,189.9"/><polygon points="1377.2,195.5 1390.6,197.6 1392.7,192.7 1379.5,190.5"/><polygon points="1390.6,197.6 1403.9,199.8 1405.9,194.9 1392.7,192.7"/><polygon points="1403.9,199.8 1418.3,203 1420.1,198.4 1405.9,194.9"/><polygon points="1418.3,203 1432.6,206.3 1434.3,201.9 1420.1,198.4"/><polygon points="1432.6,206.3 1439.4,203.5 1441.1,198.3 1434.3,201.9"/><polygon points="1439.4,203.5 1452.5,206.1 1454.1,201.1 1441.1,198.3"/><polygon points="1452.5,206.1 1465.5,208.8 1467.2,203.8 1454.1,201.1"/><polygon points="1465.5,208.8 1478.5,211.4 1480.2,206.5 1467.2,203.8"/><polygon points="1478.5,211.4 1503.1,214.4 1505.7,209.7 1480.2,206.5"/><polygon points="1503.1,214.4 1515.3,212.8 1518.4,207.5 1505.7,209.7"/><polygon points="1515.3,212.8 1523.1,205.3 1526.3,198.4 1518.4,207.5"/><polygon points="1523.1,205.3 1532.4,195.3 1535.9,186.3 1526.3,198.4"/><polygon points="1532.4,195.3 1545.2,200.2 1548.6,191.9 1535.9,186.3"/><polygon points="1545.2,200.2 1567.2,199.5 1570.6,191.2 1548.6,191.9"/><polygon points="1567.2,199.5 1581.7,198.9 1585.2,190.5 1570.6,191.2"/><polygon points="1581.7,198.9 1598,198.2 1601.5,189.7 1585.2,190.5"/><polygon points="1302.4,201.4 1316.5,200 1318.9,195.3 1304.8,197.1"/><polygon points="1316.5,200 1331.3,199.5 1333.6,194.8 1318.9,195.3"/><polygon points="1331.3,199.5 1346.1,199.1 1348.4,194.2 1333.6,194.8"/><polygon points="1346.1,199.1 1360.5,199.8 1362.8,194.8 1348.4,194.2"/><polygon points="1360.5,199.8 1375,200.5 1377.2,195.5 1362.8,194.8"/><polygon points="1375,200.5 1388.5,202.6 1390.6,197.6 1377.2,195.5"/><polygon points="1388.5,202.6 1401.9,204.7 1403.9,199.8 1390.6,197.6"/><polygon points="1401.9,204.7 1416.4,207.7 1418.3,203 1403.9,199.8"/><polygon points="1416.4,207.7 1430.9,210.6 1432.6,206.3 1418.3,203"/><polygon points="1430.9,210.6 1437.8,208.7 1439.4,203.5 1432.6,206.3"/><polygon points="1437.8,208.7 1450.8,211.2 1452.5,206.1 1439.4,203.5"/><polygon points="1450.8,211.2 1463.8,213.7 1465.5,208.8 1452.5,206.1"/><polygon points="1463.8,213.7 1476.8,216.3 1478.5,211.4 1465.5,208.8"/><polygon points="1476.8,216.3 1500.4,219.1 1503.1,214.4 1478.5,211.4"/><polygon points="1500.4,219.1 1512.3,218 1515.3,212.8 1503.1,214.4"/><polygon points="1512.3,218 1519.9,212.2 1523.1,205.3 1515.3,212.8"/><polygon points="1519.9,212.2 1528.9,204.3 1532.4,195.3 1523.1,205.3"/><polygon points="1528.9,204.3 1541.9,208.4 1545.2,200.2 1532.4,195.3"/><polygon points="1541.9,208.4 1563.8,207.9 1567.2,199.5 1545.2,200.2"/><polygon points="1563.8,207.9 1578.2,207.3 1581.7,198.9 1567.2,199.5"/><polygon points="1578.2,207.3 1594.5,206.7 1598,198.2 1581.7,198.9"/><polygon points="1300,205.7 1314.1,204.6 1316.5,200 1302.4,201.4"/><polygon points="1314.1,204.6 1329,204.3 1331.3,199.5 1316.5,200"/><polygon points="1329,204.3 1343.8,204 1346.1,199.1 1331.3,199.5"/><polygon points="1343.8,204 1358.3,204.7 1360.5,199.8 1346.1,199.1"/><polygon points="1358.3,204.7 1372.7,205.5 1375,200.5 1360.5,199.8"/><polygon points="1372.7,205.5 1386.3,207.5 1388.5,202.6 1375,200.5"/><polygon points="1386.3,207.5 1400,209.6 1401.9,204.7 1388.5,202.6"/><polygon points="1400,209.6 1414.6,212.3 1416.4,207.7 1401.9,204.7"/><polygon points="1414.6,212.3 1429.2,215 1430.9,210.6 1416.4,207.7"/><polygon points="1429.2,215 1436.1,213.8 1437.8,208.7 1430.9,210.6"/><polygon points="1436.1,213.8 1449.1,216.3 1450.8,211.2 1437.8,208.7"/><polygon points="1449.1,216.3 1462.1,218.7 1463.8,213.7 1450.8,211.2"/><polygon points="1462.1,218.7 1475.1,221.2 1476.8,216.3 1463.8,213.7"/><polygon points="1475.1,221.2 1497.8,223.9 1500.4,219.1 1476.8,216.3"/><polygon points="1497.8,223.9 1509.2,223.3 1512.3,218 1500.4,219.1"/><polygon points="1509.2,223.3 1516.7,219.1 1519.9,212.2 1512.3,218"/><polygon points="1516.7,219.1 1525.4,213.4 1528.9,204.3 1519.9,212.2"/><polygon points="1525.4,213.4 1538.6,216.7 1541.9,208.4 1528.9,204.3"/><polygon points="1538.6,216.7 1560.3,216.2 1563.8,207.9 1541.9,208.4"/><polygon points="1560.3,216.2 1574.8,215.7 1578.2,207.3 1563.8,207.9"/><polygon points="1574.8,215.7 1591,215.2 1594.5,206.7 1578.2,207.3"/><polygon points="1297.7,210 1311.8,209.3 1314.1,204.6 1300,205.7"/><polygon points="1311.8,209.3 1326.7,209.1 1329,204.3 1314.1,204.6"/><polygon points="1326.7,209.1 1341.6,208.8 1343.8,204 1329,204.3"/><polygon points="1341.6,208.8 1356,209.7 1358.3,204.7 1343.8,204"/><polygon points="1356,209.7 1370.5,210.5 1372.7,205.5 1358.3,204.7"/><polygon points="1370.5,210.5 1384.2,212.5 1386.3,207.5 1372.7,205.5"/><polygon points="1384.2,212.5 1398,214.5 1400,209.6 1386.3,207.5"/><polygon points="1398,214.5 1412.7,217 1414.6,212.3 1400,209.6"/><polygon points="1412.7,217 1427.4,219.4 1429.2,215 1414.6,212.3"/><polygon points="1427.4,219.4 1434.4,219 1436.1,213.8 1429.2,215"/><polygon points="1434.4,219 1447.4,221.3 1449.1,216.3 1436.1,213.8"/><polygon points="1447.4,221.3 1460.4,223.7 1462.1,218.7 1449.1,216.3"/><polygon points="1460.4,223.7 1473.4,226 1475.1,221.2 1462.1,218.7"/><polygon points="1473.4,226 1495.2,228.6 1497.8,223.9 1475.1,221.2"/><polygon points="1495.2,228.6 1506.1,228.5 1509.2,223.3 1497.8,223.9"/><polygon points="1506.1,228.5 1513.5,225.9 1516.7,219.1 1509.2,223.3"/><polygon points="1513.5,225.9 1522,222.4 1525.4,213.4 1516.7,219.1"/><polygon points="1522,222.4 1535.3,224.9 1538.6,216.7 1525.4,213.4"/><polygon points="1535.3,224.9 1556.9,224.5 1560.3,216.2 1538.6,216.7"/><polygon points="1556.9,224.5 1571.3,224.2 1574.8,215.7 1560.3,216.2"/><polygon points="1571.3,224.2 1587.5,223.7 1591,215.2 1574.8,215.7"/><polygon points="1295.3,214.3 1309.4,213.9 1311.8,209.3 1297.7,210"/><polygon points="1309.4,213.9 1324.3,213.8 1326.7,209.1 1311.8,209.3"/><polygon points="1324.3,213.8 1339.3,213.7 1341.6,208.8 1326.7,209.1"/><polygon points="1339.3,213.7 1353.8,214.6 1356,209.7 1341.6,208.8"/><polygon points="1353.8,214.6 1368.2,215.5 1370.5,210.5 1356,209.7"/><polygon points="1368.2,215.5 1382.1,217.4 1384.2,212.5 1370.5,210.5"/><polygon points="1382.1,217.4 1396,219.4 1398,214.5 1384.2,212.5"/><polygon points="1396,219.4 1410.9,221.6 1412.7,217 1398,214.5"/><polygon points="1410.9,221.6 1425.7,223.8 1427.4,219.4 1412.7,217"/><polygon points="1425.7,223.8 1432.7,224.1 1434.4,219 1427.4,219.4"/><polygon points="1432.7,224.1 1445.7,226.4 1447.4,221.3 1434.4,219"/><polygon points="1445.7,226.4 1458.7,228.7 1460.4,223.7 1447.4,221.3"/><polygon points="1458.7,228.7 1471.7,230.9 1473.4,226 1460.4,223.7"/><polygon points="1471.7,230.9 1492.6,233.3 1495.2,228.6 1473.4,226"/><polygon points="1492.6,233.3 1503.1,233.8 1506.1,228.5 1495.2,228.6"/><polygon points="1503.1,233.8 1510.2,232.8 1513.5,225.9 1506.1,228.5"/><polygon points="1510.2,232.8 1518.5,231.5 1522,222.4 1513.5,225.9"/><polygon points="1518.5,231.5 1531.9,233.2 1535.3,224.9 1522,222.4"/><polygon points="1531.9,233.2 1553.4,232.9 1556.9,224.5 1535.3,224.9"/><polygon points="1553.4,232.9 1567.8,232.6 1571.3,224.2 1556.9,224.5"/><polygon points="1567.8,232.6 1584,232.2 1587.5,223.7 1571.3,224.2"/><polygon points="1292.9,218.6 1307,218.6 1309.4,213.9 1295.3,214.3"/><polygon points="1307,218.6 1322,218.6 1324.3,213.8 1309.4,213.9"/><polygon points="1322,218.6 1337,218.6 1339.3,213.7 1324.3,213.8"/><polygon points="1337,218.6 1351.5,219.6 1353.8,214.6 1339.3,213.7"/><polygon points="1351.5,219.6 1366,220.5 1368.2,215.5 1353.8,214.6"/><polygon points="1366,220.5 1380,222.4 1382.1,217.4 1368.2,215.5"/><polygon points="1380,222.4 1394,224.3 1396,219.4 1382.1,217.4"/><polygon points="1394,224.3 1409,226.2 1410.9,221.6 1396,219.4"/><polygon points="1409,226.2 1424,228.2 1425.7,223.8 1410.9,221.6"/><polygon points="1424,228.2 1431,229.3 1432.7,224.1 1425.7,223.8"/><polygon points="1431,229.3 1444,231.5 1445.7,226.4 1432.7,224.1"/><polygon points="1444,231.5 1457,233.6 1458.7,228.7 1445.7,226.4"/><polygon points="1457,233.6 1470,235.8 1471.7,230.9 1458.7,228.7"/><polygon points="1470,235.8 1490,238 1492.6,233.3 1471.7,230.9"/><polygon points="1490,238 1500,239 1503.1,233.8 1492.6,233.3"/><polygon points="1500,239 1507,239.7 1510.2,232.8 1503.1,233.8"/><polygon points="1507,239.7 1515,240.5 1518.5,231.5 1510.2,232.8"/><polygon points="1515,240.5 1528.6,241.4 1531.9,233.2 1518.5,231.5"/><polygon points="1528.6,241.4 1550,241.2 1553.4,232.9 1531.9,233.2"/><polygon points="1550,241.2 1564.3,241 1567.8,232.6 1553.4,232.9"/><polygon points="1564.3,241 1580.5,240.7 1584,232.2 1567.8,232.6"/></g>
<text font-weight="bold" x="1101" y="85.4" font-size="35.5" fill="#1a1a1a" textLength="48" lengthAdjust="spacingAndGlyphs">(B)</text>
<text x="1034.8" y="196.6" font-size="23" fill="#1e1e2e" textLength="221.9" lengthAdjust="spacingAndGlyphs">Saturation time (min)</text>
<text x="1225.8" y="226.4" font-size="16.6" fill="#1e1e2e" textLength="19.7" lengthAdjust="spacingAndGlyphs">30</text>
<text x="1231.4" y="296" font-size="16.6" fill="#1e1e2e" textLength="19.1" lengthAdjust="spacingAndGlyphs">20</text>
<text x="1236" y="365" font-size="16.6" fill="#1e1e2e" textLength="18.5" lengthAdjust="spacingAndGlyphs">10</text>
<text x="1254.4" y="397.7" font-size="16.6" fill="#1e1e2e" textLength="45" lengthAdjust="spacingAndGlyphs">10000</text>
<text x="1361" y="402.7" font-size="16.6" fill="#1e1e2e" textLength="45" lengthAdjust="spacingAndGlyphs">10200</text>
<text x="1469" y="405.5" font-size="16.6" fill="#1e1e2e" textLength="45" lengthAdjust="spacingAndGlyphs">10400</text>
<text x="1575.7" y="409" font-size="16.6" fill="#1e1e2e" textLength="45" lengthAdjust="spacingAndGlyphs">10600</text>
<text x="1321.9" y="428" font-size="23" fill="#1e1e2e" textLength="237" lengthAdjust="spacingAndGlyphs">Peak area (Probencid)</text>
<text x="1699.5" y="232" font-size="23" fill="#1e1e2e" textLength="264" lengthAdjust="spacingAndGlyphs">Migration distance (mm)</text>
<text x="1712" y="261.2" font-size="16.6" fill="#1e1e2e" textLength="18.5" lengthAdjust="spacingAndGlyphs">80</text>
<text x="1686.4" y="310" font-size="16.6" fill="#1e1e2e" textLength="18.5" lengthAdjust="spacingAndGlyphs">60</text>
<text x="1658" y="359.5" font-size="16.6" fill="#1e1e2e" textLength="19" lengthAdjust="spacingAndGlyphs">40</text>
<polygon points="259.9,675.8 351.9,559.5 719.7,576.1 728.1,826.6 637.9,942.3 268.3,925" fill="#ffffff" stroke="#9a9a9a" stroke-width="1.4"/>
<line x1="351.9" y1="559.5" x2="358.9" y2="809.7" stroke="#9a9a9a" stroke-width="1.4"/>
<line x1="358.9" y1="809.7" x2="728.1" y2="826.6" stroke="#9a9a9a" stroke-width="1.4"/>
<line x1="358.9" y1="809.7" x2="268.3" y2="925" stroke="#9a9a9a" stroke-width="1.4"/>
<line x1="261.9" y1="735.5" x2="254.9" y2="735.5" stroke="#9a9a9a" stroke-width="1.3"/>
<line x1="264.9" y1="824.5" x2="257.9" y2="824.5" stroke="#9a9a9a" stroke-width="1.3"/>
<line x1="267.9" y1="913.5" x2="260.9" y2="913.5" stroke="#9a9a9a" stroke-width="1.3"/>
<line x1="311" y1="927" x2="311.7" y2="931.5" stroke="#9a9a9a" stroke-width="1.3"/>
<line x1="437" y1="932.9" x2="437.7" y2="937.4" stroke="#9a9a9a" stroke-width="1.3"/>
<line x1="564" y1="938.8" x2="564.7" y2="943.3" stroke="#9a9a9a" stroke-width="1.3"/>
<line x1="728.1" y1="826.6" x2="733.1" y2="827.1" stroke="#9a9a9a" stroke-width="1.3"/>
<line x1="694.7" y1="869.4" x2="699.7" y2="869.9" stroke="#9a9a9a" stroke-width="1.3"/>
<line x1="659.5" y1="914.5" x2="664.5" y2="915" stroke="#9a9a9a" stroke-width="1.3"/>
<polygon points="605.7,632.9 618.6,627.9 623.6,621.4 636.4,599.3 676.4,599.3 688.6,602.9 689.3,637.1 691.4,672.9 690.7,737.1 685.7,746.4 675,758.6 664.3,751.4 642.9,708.6 628.6,665.7" fill="#e5e4e6" stroke="#5a1a7a" stroke-width="1.5"/>
<g fill="#e5e4e6" stroke="#5a1a7a" stroke-width="1.6" stroke-linejoin="round"><polygon points="359.6,635.4 376,635.5 392.4,635.7 408.8,635.9 425.2,636 441.6,636.2 458,636.4 474.4,636.5 490.8,636.7 507.2,636.9 523.7,637 539.5,637.1 555.3,637.3 571.1,637.4 586.9,637.5 602.7,637.6 614.5,639.4 626.3,641.3 638.1,643.1 649.9,644.9 652,640 640.4,638.2 628.9,636.5 617.3,634.7 605.7,632.9 590,632.8 574.2,632.7 558.5,632.7 542.7,632.6 527,632.5 510.6,632.4 494.2,632.2 477.8,632.1 461.4,631.9 444.9,631.8 428.5,631.7 412.1,631.5 395.7,631.4 379.3,631.2 362.9,631.1" stroke="none"/><polyline points="359.6,635.4 376,635.5 392.4,635.7 408.8,635.9 425.2,636 441.6,636.2 458,636.4 474.4,636.5 490.8,636.7 507.2,636.9 523.7,637 539.5,637.1 555.3,637.3 571.1,637.4 586.9,637.5 602.7,637.6 614.5,639.4 626.3,641.3 638.1,643.1 649.9,644.9" fill="none"/><polyline points="362.9,631.1 379.3,631.2 395.7,631.4 412.1,631.5 428.5,631.7 444.9,631.8 461.4,631.9 477.8,632.1 494.2,632.2 510.6,632.4 527,632.5 542.7,632.6 558.5,632.7 574.2,632.7 590,632.8 605.7,632.9 617.3,634.7 628.9,636.5 640.4,638.2 652,640" fill="none"/><path d="M359.6 635.4L362.9 631.1M377.6 635.5L377.6 631.2M394.1 635.7L394.1 631.4M410.5 635.9L410.5 631.5M426.9 636L426.9 631.7M443.3 636.2L443.3 631.8M459.7 636.4L459.7 631.9M476.1 636.5L476.1 632.1M492.5 636.7L492.5 632.2M508.9 636.9L508.9 632.4M525.3 637L525.3 632.5M541.1 637.1L541.1 632.6M556.9 637.3L556.9 632.7M572.7 637.4L572.7 632.7M588.4 637.5L588.4 632.8M604.2 637.6L604.2 632.9M615.9 639.4L615.9 634.7M627.6 641.3L627.6 636.5M639.3 643.1L639.3 638.2M649.9 644.9L652 640" fill="none"/><polygon points="356.2,639.6 372.7,639.8 389.1,640 405.5,640.2 421.9,640.4 438.3,640.6 454.7,640.8 471.1,641 487.5,641.2 503.9,641.3 520.3,641.5 536.2,641.7 552.1,641.9 568,642 583.8,642.2 599.7,642.3 611.7,644.2 623.7,646.1 635.7,648 647.7,649.9 649.9,644.9 638.1,643.1 626.3,641.3 614.5,639.4 602.7,637.6 586.9,637.5 571.1,637.4 555.3,637.3 539.5,637.1 523.7,637 507.2,636.9 490.8,636.7 474.4,636.5 458,636.4 441.6,636.2 425.2,636 408.8,635.9 392.4,635.7 376,635.5 359.6,635.4" stroke="none"/><polyline points="356.2,639.6 372.7,639.8 389.1,640 405.5,640.2 421.9,640.4 438.3,640.6 454.7,640.8 471.1,641 487.5,641.2 503.9,641.3 520.3,641.5 536.2,641.7 552.1,641.9 568,642 583.8,642.2 599.7,642.3 611.7,644.2 623.7,646.1 635.7,648 647.7,649.9" fill="none"/><polyline points="359.6,635.4 376,635.5 392.4,635.7 408.8,635.9 425.2,636 441.6,636.2 458,636.4 474.4,636.5 490.8,636.7 507.2,636.9 523.7,637 539.5,637.1 555.3,637.3 571.1,637.4 586.9,637.5 602.7,637.6 614.5,639.4 626.3,641.3 638.1,643.1 649.9,644.9" fill="none"/><path d="M356.2 639.6L359.6 635.4M374.3 639.8L374.3 635.5M390.7 640L390.7 635.7M407.1 640.2L407.1 635.9M423.5 640.4L423.5 636M439.9 640.6L439.9 636.2M456.4 640.8L456.4 636.4M472.8 641L472.8 636.5M489.2 641.2L489.2 636.7M505.6 641.3L505.6 636.9M522 641.5L522 637M537.8 641.7L537.8 637.1M553.7 641.9L553.7 637.3M569.5 642L569.5 637.4M585.4 642.2L585.4 637.5M601.2 642.3L601.2 637.6M613.1 644.2L613.1 639.4M625 646.1L625 641.3M636.9 648L636.9 643.1M647.7 649.9L649.9 644.9" fill="none"/><polygon points="352.9,643.9 369.3,644.1 385.7,644.3 402.1,644.6 418.5,644.8 434.9,645 451.3,645.2 467.7,645.4 484.1,645.6 500.6,645.8 517,646.1 532.9,646.3 548.9,646.5 564.8,646.7 580.8,646.9 596.7,647.1 609,649 621.2,650.9 633.4,652.9 645.6,654.8 647.7,649.9 635.7,648 623.7,646.1 611.7,644.2 599.7,642.3 583.8,642.2 568,642 552.1,641.9 536.2,641.7 520.3,641.5 503.9,641.3 487.5,641.2 471.1,641 454.7,640.8 438.3,640.6 421.9,640.4 405.5,640.2 389.1,640 372.7,639.8 356.2,639.6" stroke="none"/><polyline points="352.9,643.9 369.3,644.1 385.7,644.3 402.1,644.6 418.5,644.8 434.9,645 451.3,645.2 467.7,645.4 484.1,645.6 500.6,645.8 517,646.1 532.9,646.3 548.9,646.5 564.8,646.7 580.8,646.9 596.7,647.1 609,649 621.2,650.9 633.4,652.9 645.6,654.8" fill="none"/><polyline points="356.2,639.6 372.7,639.8 389.1,640 405.5,640.2 421.9,640.4 438.3,640.6 454.7,640.8 471.1,641 487.5,641.2 503.9,641.3 520.3,641.5 536.2,641.7 552.1,641.9 568,642 583.8,642.2 599.7,642.3 611.7,644.2 623.7,646.1 635.7,648 647.7,649.9" fill="none"/><path d="M352.9 643.9L356.2 639.6M371 644.1L371 639.8M387.4 644.3L387.4 640M403.8 644.6L403.8 640.2M420.2 644.8L420.2 640.4M436.6 645L436.6 640.6M453 645.2L453 640.8M469.4 645.4L469.4 641M485.8 645.6L485.8 641.2M502.2 645.8L502.2 641.3M518.6 646.1L518.6 641.5M534.6 646.3L534.6 641.7M550.5 646.5L550.5 641.9M566.4 646.7L566.4 642M582.3 646.9L582.3 642.2M598.2 647.1L598.2 642.3M610.3 649L610.3 644.2M622.4 650.9L622.4 646.1M634.6 652.9L634.6 648M645.6 654.8L647.7 649.9" fill="none"/><polygon points="349.6,648.2 366,648.4 382.4,648.7 398.8,648.9 415.2,649.1 431.6,649.4 448,649.6 464.4,649.9 480.8,650.1 497.2,650.3 513.6,650.6 529.6,650.8 545.7,651 561.7,651.3 577.7,651.5 593.8,651.8 606.2,653.8 618.6,655.8 631,657.8 643.5,659.8 645.6,654.8 633.4,652.9 621.2,650.9 609,649 596.7,647.1 580.8,646.9 564.8,646.7 548.9,646.5 532.9,646.3 517,646.1 500.6,645.8 484.1,645.6 467.7,645.4 451.3,645.2 434.9,645 418.5,644.8 402.1,644.6 385.7,644.3 369.3,644.1 352.9,643.9" stroke="none"/><polyline points="349.6,648.2 366,648.4 382.4,648.7 398.8,648.9 415.2,649.1 431.6,649.4 448,649.6 464.4,649.9 480.8,650.1 497.2,650.3 513.6,650.6 529.6,650.8 545.7,651 561.7,651.3 577.7,651.5 593.8,651.8 606.2,653.8 618.6,655.8 631,657.8 643.5,659.8" fill="none"/><polyline points="352.9,643.9 369.3,644.1 385.7,644.3 402.1,644.6 418.5,644.8 434.9,645 451.3,645.2 467.7,645.4 484.1,645.6 500.6,645.8 517,646.1 532.9,646.3 548.9,646.5 564.8,646.7 580.8,646.9 596.7,647.1 609,649 621.2,650.9 633.4,652.9 645.6,654.8" fill="none"/><path d="M349.6 648.2L352.9 643.9M367.7 648.4L367.7 644.1M384.1 648.7L384.1 644.3M400.5 648.9L400.5 644.6M416.9 649.1L416.9 644.8M433.3 649.4L433.3 645M449.7 649.6L449.7 645.2M466.1 649.9L466.1 645.4M482.5 650.1L482.5 645.6M498.9 650.3L498.9 645.8M515.3 650.6L515.3 646.1M531.3 650.8L531.3 646.3M547.3 651L547.3 646.5M563.3 651.3L563.3 646.7M579.3 651.5L579.3 646.9M595.2 651.8L595.2 647.1M607.6 653.8L607.6 649M619.9 655.8L619.9 650.9M632.2 657.8L632.2 652.9M643.5 659.8L645.6 654.8" fill="none"/><polygon points="346.3,652.4 362.7,652.7 379.1,653 395.5,653.2 411.9,653.5 428.3,653.8 444.7,654 461.1,654.3 477.5,654.6 493.9,654.8 510.3,655.1 526.4,655.4 542.5,655.6 558.6,655.9 574.7,656.2 590.8,656.5 603.4,658.5 616,660.6 628.7,662.6 641.3,664.7 643.5,659.8 631,657.8 618.6,655.8 606.2,653.8 593.8,651.8 577.7,651.5 561.7,651.3 545.7,651 529.6,650.8 513.6,650.6 497.2,650.3 480.8,650.1 464.4,649.9 448,649.6 431.6,649.4 415.2,649.1 398.8,648.9 382.4,648.7 366,648.4 349.6,648.2" stroke="none"/><polyline points="346.3,652.4 362.7,652.7 379.1,653 395.5,653.2 411.9,653.5 428.3,653.8 444.7,654 461.1,654.3 477.5,654.6 493.9,654.8 510.3,655.1 526.4,655.4 542.5,655.6 558.6,655.9 574.7,656.2 590.8,656.5 603.4,658.5 616,660.6 628.7,662.6 641.3,664.7" fill="none"/><polyline points="349.6,648.2 366,648.4 382.4,648.7 398.8,648.9 415.2,649.1 431.6,649.4 448,649.6 464.4,649.9 480.8,650.1 497.2,650.3 513.6,650.6 529.6,650.8 545.7,651 561.7,651.3 577.7,651.5 593.8,651.8 606.2,653.8 618.6,655.8 631,657.8 643.5,659.8" fill="none"/><path d="M346.3 652.4L349.6 648.2M364.3 652.7L364.3 648.4M380.7 653L380.7 648.7M397.1 653.2L397.1 648.9M413.5 653.5L413.5 649.1M429.9 653.8L429.9 649.4M446.3 654L446.3 649.6M462.7 654.3L462.7 649.9M479.1 654.6L479.1 650.1M495.5 654.8L495.5 650.3M511.9 655.1L511.9 650.6M528 655.4L528 650.8M544.1 655.6L544.1 651M560.1 655.9L560.1 651.3M576.2 656.2L576.2 651.5M592.3 656.5L592.3 651.8M604.8 658.5L604.8 653.8M617.3 660.6L617.3 655.8M629.9 662.6L629.9 657.8M641.3 664.7L643.5 659.8" fill="none"/><polygon points="342.9,656.7 359.3,657 375.7,657.3 392.1,657.6 408.5,657.9 424.9,658.2 441.3,658.4 457.7,658.7 474.1,659 490.5,659.3 506.9,659.6 523.1,659.9 539.3,660.2 555.4,660.6 571.6,660.9 587.8,661.2 600.6,663.3 613.5,665.4 626.3,667.5 639.2,669.6 641.3,664.7 628.7,662.6 616,660.6 603.4,658.5 590.8,656.5 574.7,656.2 558.6,655.9 542.5,655.6 526.4,655.4 510.3,655.1 493.9,654.8 477.5,654.6 461.1,654.3 444.7,654 428.3,653.8 411.9,653.5 395.5,653.2 379.1,653 362.7,652.7 346.3,652.4" stroke="none"/><polyline points="342.9,656.7 359.3,657 375.7,657.3 392.1,657.6 408.5,657.9 424.9,658.2 441.3,658.4 457.7,658.7 474.1,659 490.5,659.3 506.9,659.6 523.1,659.9 539.3,660.2 555.4,660.6 571.6,660.9 587.8,661.2 600.6,663.3 613.5,665.4 626.3,667.5 639.2,669.6" fill="none"/><polyline points="346.3,652.4 362.7,652.7 379.1,653 395.5,653.2 411.9,653.5 428.3,653.8 444.7,654 461.1,654.3 477.5,654.6 493.9,654.8 510.3,655.1 526.4,655.4 542.5,655.6 558.6,655.9 574.7,656.2 590.8,656.5 603.4,658.5 616,660.6 628.7,662.6 641.3,664.7" fill="none"/><path d="M342.9 656.7L346.3 652.4M361 657L361 652.7M377.4 657.3L377.4 653M393.8 657.6L393.8 653.2M410.2 657.9L410.2 653.5M426.6 658.2L426.6 653.8M443 658.4L443 654M459.4 658.7L459.4 654.3M475.8 659L475.8 654.6M492.2 659.3L492.2 654.8M508.6 659.6L508.6 655.1M524.7 659.9L524.7 655.4M540.9 660.2L540.9 655.6M557 660.6L557 655.9M573.1 660.9L573.1 656.2M589.3 661.2L589.3 656.5M602 663.3L602 658.5M614.8 665.4L614.8 660.6M627.5 667.5L627.5 662.6M639.2 669.6L641.3 664.7" fill="none"/><polygon points="339.6,661 356,661.3 372.4,661.6 388.8,661.9 405.2,662.2 421.6,662.6 438,662.9 454.4,663.2 470.8,663.5 487.2,663.8 503.6,664.1 519.8,664.5 536.1,664.8 552.3,665.2 568.5,665.6 584.8,665.9 597.9,668.1 610.9,670.2 624,672.4 637.1,674.6 639.2,669.6 626.3,667.5 613.5,665.4 600.6,663.3 587.8,661.2 571.6,660.9 555.4,660.6 539.3,660.2 523.1,659.9 506.9,659.6 490.5,659.3 474.1,659 457.7,658.7 441.3,658.4 424.9,658.2 408.5,657.9 392.1,657.6 375.7,657.3 359.3,657 342.9,656.7" stroke="none"/><polyline points="339.6,661 356,661.3 372.4,661.6 388.8,661.9 405.2,662.2 421.6,662.6 438,662.9 454.4,663.2 470.8,663.5 487.2,663.8 503.6,664.1 519.8,664.5 536.1,664.8 552.3,665.2 568.5,665.6 584.8,665.9 597.9,668.1 610.9,670.2 624,672.4 637.1,674.6" fill="none"/><polyline points="342.9,656.7 359.3,657 375.7,657.3 392.1,657.6 408.5,657.9 424.9,658.2 441.3,658.4 457.7,658.7 474.1,659 490.5,659.3 506.9,659.6 523.1,659.9 539.3,660.2 555.4,660.6 571.6,660.9 587.8,661.2 600.6,663.3 613.5,665.4 626.3,667.5 639.2,669.6" fill="none"/><path d="M339.6 661L342.9 656.7M357.7 661.3L357.7 657M374.1 661.6L374.1 657.3M390.5 661.9L390.5 657.6M406.9 662.2L406.9 657.9M423.3 662.6L423.3 658.2M439.7 662.9L439.7 658.4M456.1 663.2L456.1 658.7M472.4 663.5L472.4 659M488.8 663.8L488.8 659.3M505.2 664.1L505.2 659.6M521.4 664.5L521.4 659.9M537.7 664.8L537.7 660.2M553.9 665.2L553.9 660.6M570.1 665.6L570.1 660.9M586.3 665.9L586.3 661.2M599.2 668.1L599.2 663.3M612.2 670.2L612.2 665.4M625.2 672.4L625.2 667.5M637.1 674.6L639.2 669.6" fill="none"/><polygon points="336.3,665.3 352.7,665.6 369.1,665.9 385.5,666.3 401.9,666.6 418.3,666.9 434.6,667.3 451,667.6 467.4,668 483.8,668.3 500.2,668.6 516.5,669 532.9,669.4 549.2,669.8 565.5,670.2 581.8,670.6 595.1,672.9 608.4,675.1 621.6,677.3 634.9,679.5 637.1,674.6 624,672.4 610.9,670.2 597.9,668.1 584.8,665.9 568.5,665.6 552.3,665.2 536.1,664.8 519.8,664.5 503.6,664.1 487.2,663.8 470.8,663.5 454.4,663.2 438,662.9 421.6,662.6 405.2,662.2 388.8,661.9 372.4,661.6 356,661.3 339.6,661" stroke="none"/><polyline points="336.3,665.3 352.7,665.6 369.1,665.9 385.5,666.3 401.9,666.6 418.3,666.9 434.6,667.3 451,667.6 467.4,668 483.8,668.3 500.2,668.6 516.5,669 532.9,669.4 549.2,669.8 565.5,670.2 581.8,670.6 595.1,672.9 608.4,675.1 621.6,677.3 634.9,679.5" fill="none"/><polyline points="339.6,661 356,661.3 372.4,661.6 388.8,661.9 405.2,662.2 421.6,662.6 438,662.9 454.4,663.2 470.8,663.5 487.2,663.8 503.6,664.1 519.8,664.5 536.1,664.8 552.3,665.2 568.5,665.6 584.8,665.9 597.9,668.1 610.9,670.2 624,672.4 637.1,674.6" fill="none"/><path d="M336.3 665.3L339.6 661M354.3 665.6L354.3 661.3M370.7 665.9L370.7 661.6M387.1 666.3L387.1 661.9M403.5 666.6L403.5 662.2M419.9 666.9L419.9 662.6M436.3 667.3L436.3 662.9M452.7 667.6L452.7 663.2M469.1 668L469.1 663.5M485.5 668.3L485.5 663.8M501.9 668.6L501.9 664.1M518.2 669L518.2 664.5M534.5 669.4L534.5 664.8M550.7 669.8L550.7 665.2M567 670.2L567 665.6M583.3 670.6L583.3 665.9M596.5 672.9L596.5 668.1M609.6 675.1L609.6 670.2M622.8 677.3L622.8 672.4M634.9 679.5L637.1 674.6" fill="none"/><polygon points="333,669.5 349.4,669.9 365.7,670.3 382.1,670.6 398.5,671 414.9,671.3 431.3,671.7 447.7,672.1 464.1,672.4 480.5,672.8 496.9,673.2 513.3,673.6 529.6,674 546,674.5 562.4,674.9 578.8,675.4 592.3,677.6 605.8,679.9 619.3,682.2 632.8,684.5 634.9,679.5 621.6,677.3 608.4,675.1 595.1,672.9 581.8,670.6 565.5,670.2 549.2,669.8 532.9,669.4 516.5,669 500.2,668.6 483.8,668.3 467.4,668 451,667.6 434.6,667.3 418.3,666.9 401.9,666.6 385.5,666.3 369.1,665.9 352.7,665.6 336.3,665.3" stroke="none"/><polyline points="333,669.5 349.4,669.9 365.7,670.3 382.1,670.6 398.5,671 414.9,671.3 431.3,671.7 447.7,672.1 464.1,672.4 480.5,672.8 496.9,673.2 513.3,673.6 529.6,674 546,674.5 562.4,674.9 578.8,675.4 592.3,677.6 605.8,679.9 619.3,682.2 632.8,684.5" fill="none"/><polyline points="336.3,665.3 352.7,665.6 369.1,665.9 385.5,666.3 401.9,666.6 418.3,666.9 434.6,667.3 451,667.6 467.4,668 483.8,668.3 500.2,668.6 516.5,669 532.9,669.4 549.2,669.8 565.5,670.2 581.8,670.6 595.1,672.9 608.4,675.1 621.6,677.3 634.9,679.5" fill="none"/><path d="M333 669.5L336.3 665.3M351 669.9L351 665.6M367.4 670.3L367.4 665.9M383.8 670.6L383.8 666.3M400.2 671L400.2 666.6M416.6 671.3L416.6 666.9M433 671.7L433 667.3M449.4 672.1L449.4 667.6M465.8 672.4L465.8 668M482.2 672.8L482.2 668.3M498.5 673.2L498.5 668.6M514.9 673.6L514.9 669M531.3 674L531.3 669.4M547.6 674.5L547.6 669.8M564 674.9L564 670.2M580.3 675.4L580.3 670.6M593.7 677.6L593.7 672.9M607.1 679.9L607.1 675.1M620.5 682.2L620.5 677.3M632.8 684.5L634.9 679.5" fill="none"/><polygon points="329.6,673.8 346,674.2 362.4,674.6 378.8,675 395.2,675.3 411.6,675.7 428,676.1 444.4,676.5 460.7,676.9 477.1,677.3 493.5,677.7 510,678.2 526.4,678.6 542.9,679.1 559.4,679.6 575.8,680.1 589.5,682.4 603.2,684.7 616.9,687.1 630.7,689.4 632.8,684.5 619.3,682.2 605.8,679.9 592.3,677.6 578.8,675.4 562.4,674.9 546,674.5 529.6,674 513.3,673.6 496.9,673.2 480.5,672.8 464.1,672.4 447.7,672.1 431.3,671.7 414.9,671.3 398.5,671 382.1,670.6 365.7,670.3 349.4,669.9 333,669.5" stroke="none"/><polyline points="329.6,673.8 346,674.2 362.4,674.6 378.8,675 395.2,675.3 411.6,675.7 428,676.1 444.4,676.5 460.7,676.9 477.1,677.3 493.5,677.7 510,678.2 526.4,678.6 542.9,679.1 559.4,679.6 575.8,680.1 589.5,682.4 603.2,684.7 616.9,687.1 630.7,689.4" fill="none"/><polyline points="333,669.5 349.4,669.9 365.7,670.3 382.1,670.6 398.5,671 414.9,671.3 431.3,671.7 447.7,672.1 464.1,672.4 480.5,672.8 496.9,673.2 513.3,673.6 529.6,674 546,674.5 562.4,674.9 578.8,675.4 592.3,677.6 605.8,679.9 619.3,682.2 632.8,684.5" fill="none"/><path d="M329.6 673.8L333 669.5M347.7 674.2L347.7 669.9M364.1 674.6L364.1 670.3M380.5 675L380.5 670.6M396.9 675.3L396.9 671M413.2 675.7L413.2 671.3M429.6 676.1L429.6 671.7M446 676.5L446 672.1M462.4 676.9L462.4 672.4M478.8 677.3L478.8 672.8M495.2 677.7L495.2 673.2M511.6 678.2L511.6 673.6M528 678.6L528 674M544.5 679.1L544.5 674.5M560.9 679.6L560.9 674.9M577.3 680.1L577.3 675.4M590.9 682.4L590.9 677.6M604.5 684.7L604.5 679.9M618.1 687.1L618.1 682.2M630.7 689.4L632.8 684.5" fill="none"/><polygon points="326.3,678.1 342.7,678.5 359.1,678.9 375.5,679.3 391.9,679.7 408.2,680.1 424.6,680.5 441,681 457.4,681.4 473.8,681.8 490.2,682.2 506.7,682.7 523.2,683.2 539.8,683.8 556.3,684.3 572.8,684.8 586.8,687.2 600.7,689.6 614.6,691.9 628.5,694.3 630.7,689.4 616.9,687.1 603.2,684.7 589.5,682.4 575.8,680.1 559.4,679.6 542.9,679.1 526.4,678.6 510,678.2 493.5,677.7 477.1,677.3 460.7,676.9 444.4,676.5 428,676.1 411.6,675.7 395.2,675.3 378.8,675 362.4,674.6 346,674.2 329.6,673.8" stroke="none"/><polyline points="326.3,678.1 342.7,678.5 359.1,678.9 375.5,679.3 391.9,679.7 408.2,680.1 424.6,680.5 441,681 457.4,681.4 473.8,681.8 490.2,682.2 506.7,682.7 523.2,683.2 539.8,683.8 556.3,684.3 572.8,684.8 586.8,687.2 600.7,689.6 614.6,691.9 628.5,694.3" fill="none"/><polyline points="329.6,673.8 346,674.2 362.4,674.6 378.8,675 395.2,675.3 411.6,675.7 428,676.1 444.4,676.5 460.7,676.9 477.1,677.3 493.5,677.7 510,678.2 526.4,678.6 542.9,679.1 559.4,679.6 575.8,680.1 589.5,682.4 603.2,684.7 616.9,687.1 630.7,689.4" fill="none"/><path d="M326.3 678.1L329.6 673.8M344.4 678.5L344.4 674.2M360.8 678.9L360.8 674.6M377.1 679.3L377.1 675M393.5 679.7L393.5 675.3M409.9 680.1L409.9 675.7M426.3 680.5L426.3 676.1M442.7 681L442.7 676.5M459.1 681.4L459.1 676.9M475.5 681.8L475.5 677.3M491.8 682.2L491.8 677.7M508.3 682.7L508.3 678.2M524.8 683.2L524.8 678.6M541.3 683.8L541.3 679.1M557.8 684.3L557.8 679.6M574.3 684.8L574.3 680.1M588.1 687.2L588.1 682.4M602 689.6L602 684.7M615.8 691.9L615.8 687.1M628.5 694.3L630.7 689.4" fill="none"/><polygon points="323,682.3 339.4,682.8 355.8,683.2 372.1,683.6 388.5,684.1 404.9,684.5 421.3,685 437.7,685.4 454.1,685.8 470.4,686.3 486.8,686.7 503.4,687.3 520,687.8 536.6,688.4 553.3,688.9 569.9,689.5 584,691.9 598.1,694.4 612.3,696.8 626.4,699.3 628.5,694.3 614.6,691.9 600.7,689.6 586.8,687.2 572.8,684.8 556.3,684.3 539.8,683.8 523.2,683.2 506.7,682.7 490.2,682.2 473.8,681.8 457.4,681.4 441,681 424.6,680.5 408.2,680.1 391.9,679.7 375.5,679.3 359.1,678.9 342.7,678.5 326.3,678.1" stroke="none"/><polyline points="323,682.3 339.4,682.8 355.8,683.2 372.1,683.6 388.5,684.1 404.9,684.5 421.3,685 437.7,685.4 454.1,685.8 470.4,686.3 486.8,686.7 503.4,687.3 520,687.8 536.6,688.4 553.3,688.9 569.9,689.5 584,691.9 598.1,694.4 612.3,696.8 626.4,699.3" fill="none"/><polyline points="326.3,678.1 342.7,678.5 359.1,678.9 375.5,679.3 391.9,679.7 408.2,680.1 424.6,680.5 441,681 457.4,681.4 473.8,681.8 490.2,682.2 506.7,682.7 523.2,683.2 539.8,683.8 556.3,684.3 572.8,684.8 586.8,687.2 600.7,689.6 614.6,691.9 628.5,694.3" fill="none"/><path d="M323 682.3L326.3 678.1M341 682.8L341 678.5M357.4 683.2L357.4 678.9M373.8 683.6L373.8 679.3M390.2 684.1L390.2 679.7M406.6 684.5L406.6 680.1M423 685L423 680.5M439.3 685.4L439.3 681M455.7 685.8L455.7 681.4M472.1 686.3L472.1 681.8M488.5 686.7L488.5 682.2M505.1 687.3L505.1 682.7M521.6 687.8L521.6 683.2M538.2 688.4L538.2 683.8M554.8 688.9L554.8 684.3M571.4 689.5L571.4 684.8M585.4 691.9L585.4 687.2M599.4 694.4L599.4 689.6M613.4 696.8L613.4 691.9M626.4 699.3L628.5 694.3" fill="none"/><polygon points="319.7,686.6 336,687.1 352.4,687.5 368.8,688 385.2,688.5 401.6,688.9 418,689.4 434.3,689.8 450.7,690.3 467.1,690.8 483.5,691.2 500.2,691.8 516.8,692.4 533.5,693 550.2,693.6 566.9,694.2 581.2,696.7 595.6,699.2 609.9,701.7 624.2,704.2 626.4,699.3 612.3,696.8 598.1,694.4 584,691.9 569.9,689.5 553.3,688.9 536.6,688.4 520,687.8 503.4,687.3 486.8,686.7 470.4,686.3 454.1,685.8 437.7,685.4 421.3,685 404.9,684.5 388.5,684.1 372.1,683.6 355.8,683.2 339.4,682.8 323,682.3" stroke="none"/><polyline points="319.7,686.6 336,687.1 352.4,687.5 368.8,688 385.2,688.5 401.6,688.9 418,689.4 434.3,689.8 450.7,690.3 467.1,690.8 483.5,691.2 500.2,691.8 516.8,692.4 533.5,693 550.2,693.6 566.9,694.2 581.2,696.7 595.6,699.2 609.9,701.7 624.2,704.2" fill="none"/><polyline points="323,682.3 339.4,682.8 355.8,683.2 372.1,683.6 388.5,684.1 404.9,684.5 421.3,685 437.7,685.4 454.1,685.8 470.4,686.3 486.8,686.7 503.4,687.3 520,687.8 536.6,688.4 553.3,688.9 569.9,689.5 584,691.9 598.1,694.4 612.3,696.8 626.4,699.3" fill="none"/><path d="M319.7 686.6L323 682.3M337.7 687.1L337.7 682.8M354.1 687.5L354.1 683.2M370.5 688L370.5 683.6M386.9 688.5L386.9 684.1M403.2 688.9L403.2 684.5M419.6 689.4L419.6 685M436 689.8L436 685.4M452.4 690.3L452.4 685.8M468.8 690.8L468.8 686.3M485.2 691.2L485.2 686.7M501.8 691.8L501.8 687.3M518.4 692.4L518.4 687.8M535.1 693L535.1 688.4M551.7 693.6L551.7 688.9M568.4 694.2L568.4 689.5M582.6 696.7L582.6 691.9M596.8 699.2L596.8 694.4M611.1 701.7L611.1 696.8M624.2 704.2L626.4 699.3" fill="none"/><polygon points="316.3,690.9 332.7,691.4 349.1,691.8 365.5,692.3 381.9,692.8 398.2,693.3 414.6,693.8 431,694.3 447.4,694.8 463.8,695.3 480.1,695.7 496.9,696.4 513.6,697 530.4,697.7 547.1,698.3 563.9,698.9 578.4,701.5 593,704 607.6,706.6 622.1,709.1 624.2,704.2 609.9,701.7 595.6,699.2 581.2,696.7 566.9,694.2 550.2,693.6 533.5,693 516.8,692.4 500.2,691.8 483.5,691.2 467.1,690.8 450.7,690.3 434.3,689.8 418,689.4 401.6,688.9 385.2,688.5 368.8,688 352.4,687.5 336,687.1 319.7,686.6" stroke="none"/><polyline points="316.3,690.9 332.7,691.4 349.1,691.8 365.5,692.3 381.9,692.8 398.2,693.3 414.6,693.8 431,694.3 447.4,694.8 463.8,695.3 480.1,695.7 496.9,696.4 513.6,697 530.4,697.7 547.1,698.3 563.9,698.9 578.4,701.5 593,704 607.6,706.6 622.1,709.1" fill="none"/><polyline points="319.7,686.6 336,687.1 352.4,687.5 368.8,688 385.2,688.5 401.6,688.9 418,689.4 434.3,689.8 450.7,690.3 467.1,690.8 483.5,691.2 500.2,691.8 516.8,692.4 533.5,693 550.2,693.6 566.9,694.2 581.2,696.7 595.6,699.2 609.9,701.7 624.2,704.2" fill="none"/><path d="M316.3 690.9L319.7 686.6M334.4 691.4L334.4 687.1M350.8 691.8L350.8 687.5M367.1 692.3L367.1 688M383.5 692.8L383.5 688.5M399.9 693.3L399.9 688.9M416.3 693.8L416.3 689.4M432.7 694.3L432.7 689.8M449 694.8L449 690.3M465.4 695.3L465.4 690.8M481.8 695.7L481.8 691.2M498.5 696.4L498.5 691.8M515.2 697L515.2 692.4M531.9 697.7L531.9 693M548.7 698.3L548.7 693.6M565.4 698.9L565.4 694.2M579.8 701.5L579.8 696.7M594.3 704L594.3 699.2M608.7 706.6L608.7 701.7M622.1 709.1L624.2 704.2" fill="none"/><polygon points="313,695.1 329.4,695.7 345.8,696.2 362.1,696.7 378.5,697.2 394.9,697.7 411.3,698.2 427.7,698.7 444,699.2 460.4,699.7 476.8,700.3 493.6,700.9 510.4,701.6 527.3,702.3 544.1,703 560.9,703.7 575.7,706.3 590.4,708.9 605.2,711.5 620,714.1 622.1,709.1 607.6,706.6 593,704 578.4,701.5 563.9,698.9 547.1,698.3 530.4,697.7 513.6,697 496.9,696.4 480.1,695.7 463.8,695.3 447.4,694.8 431,694.3 414.6,693.8 398.2,693.3 381.9,692.8 365.5,692.3 349.1,691.8 332.7,691.4 316.3,690.9" stroke="none"/><polyline points="313,695.1 329.4,695.7 345.8,696.2 362.1,696.7 378.5,697.2 394.9,697.7 411.3,698.2 427.7,698.7 444,699.2 460.4,699.7 476.8,700.3 493.6,700.9 510.4,701.6 527.3,702.3 544.1,703 560.9,703.7 575.7,706.3 590.4,708.9 605.2,711.5 620,714.1" fill="none"/><polyline points="316.3,690.9 332.7,691.4 349.1,691.8 365.5,692.3 381.9,692.8 398.2,693.3 414.6,693.8 431,694.3 447.4,694.8 463.8,695.3 480.1,695.7 496.9,696.4 513.6,697 530.4,697.7 547.1,698.3 563.9,698.9 578.4,701.5 593,704 607.6,706.6 622.1,709.1" fill="none"/><path d="M313 695.1L316.3 690.9M331.1 695.7L331.1 691.4M347.4 696.2L347.4 691.8M363.8 696.7L363.8 692.3M380.2 697.2L380.2 692.8M396.6 697.7L396.6 693.3M412.9 698.2L412.9 693.8M429.3 698.7L429.3 694.3M445.7 699.2L445.7 694.8M462.1 699.7L462.1 695.3M478.5 700.3L478.5 695.7M495.2 700.9L495.2 696.4M512 701.6L512 697M528.8 702.3L528.8 697.7M545.6 703L545.6 698.3M562.4 703.7L562.4 698.9M577.1 706.3L577.1 701.5M591.7 708.9L591.7 704M606.4 711.5L606.4 706.6M620 714.1L622.1 709.1" fill="none"/><polygon points="309.7,699.4 326.1,699.9 342.4,700.5 358.8,701 375.2,701.6 391.6,702.1 407.9,702.6 424.3,703.2 440.7,703.7 457.1,704.2 473.4,704.8 490.3,705.5 507.2,706.2 524.1,706.9 541,707.7 557.9,708.4 572.9,711 587.9,713.7 602.9,716.4 617.8,719 620,714.1 605.2,711.5 590.4,708.9 575.7,706.3 560.9,703.7 544.1,703 527.3,702.3 510.4,701.6 493.6,700.9 476.8,700.3 460.4,699.7 444,699.2 427.7,698.7 411.3,698.2 394.9,697.7 378.5,697.2 362.1,696.7 345.8,696.2 329.4,695.7 313,695.1" stroke="none"/><polyline points="309.7,699.4 326.1,699.9 342.4,700.5 358.8,701 375.2,701.6 391.6,702.1 407.9,702.6 424.3,703.2 440.7,703.7 457.1,704.2 473.4,704.8 490.3,705.5 507.2,706.2 524.1,706.9 541,707.7 557.9,708.4 572.9,711 587.9,713.7 602.9,716.4 617.8,719" fill="none"/><polyline points="313,695.1 329.4,695.7 345.8,696.2 362.1,696.7 378.5,697.2 394.9,697.7 411.3,698.2 427.7,698.7 444,699.2 460.4,699.7 476.8,700.3 493.6,700.9 510.4,701.6 527.3,702.3 544.1,703 560.9,703.7 575.7,706.3 590.4,708.9 605.2,711.5 620,714.1" fill="none"/><path d="M309.7 699.4L313 695.1M327.7 699.9L327.7 695.7M344.1 700.5L344.1 696.2M360.5 701L360.5 696.7M376.9 701.6L376.9 697.2M393.2 702.1L393.2 697.7M409.6 702.6L409.6 698.2M426 703.2L426 698.7M442.4 703.7L442.4 699.2M458.7 704.2L458.7 699.7M475.1 704.8L475.1 700.3M492 705.5L492 700.9M508.8 706.2L508.8 701.6M525.7 706.9L525.7 702.3M542.5 707.7L542.5 703M559.4 708.4L559.4 703.7M574.3 711L574.3 706.3M589.2 713.7L589.2 708.9M604 716.4L604 711.5M617.8 719L620 714.1" fill="none"/><polygon points="306.4,703.7 322.7,704.2 339.1,704.8 355.5,705.4 371.8,705.9 388.2,706.5 404.6,707.1 421,707.6 437.3,708.2 453.7,708.7 470.1,709.3 487.1,710.1 504,710.8 521,711.6 538,712.3 554.9,713.1 570.1,715.8 585.3,718.5 600.5,721.2 615.7,724 617.8,719 602.9,716.4 587.9,713.7 572.9,711 557.9,708.4 541,707.7 524.1,706.9 507.2,706.2 490.3,705.5 473.4,704.8 457.1,704.2 440.7,703.7 424.3,703.2 407.9,702.6 391.6,702.1 375.2,701.6 358.8,701 342.4,700.5 326.1,699.9 309.7,699.4" stroke="none"/><polyline points="306.4,703.7 322.7,704.2 339.1,704.8 355.5,705.4 371.8,705.9 388.2,706.5 404.6,707.1 421,707.6 437.3,708.2 453.7,708.7 470.1,709.3 487.1,710.1 504,710.8 521,711.6 538,712.3 554.9,713.1 570.1,715.8 585.3,718.5 600.5,721.2 615.7,724" fill="none"/><polyline points="309.7,699.4 326.1,699.9 342.4,700.5 358.8,701 375.2,701.6 391.6,702.1 407.9,702.6 424.3,703.2 440.7,703.7 457.1,704.2 473.4,704.8 490.3,705.5 507.2,706.2 524.1,706.9 541,707.7 557.9,708.4 572.9,711 587.9,713.7 602.9,716.4 617.8,719" fill="none"/><path d="M306.4 703.7L309.7 699.4M324.4 704.2L324.4 699.9M340.8 704.8L340.8 700.5M357.1 705.4L357.1 701M373.5 705.9L373.5 701.6M389.9 706.5L389.9 702.1M406.3 707.1L406.3 702.6M422.6 707.6L422.6 703.2M439 708.2L439 703.7M455.4 708.7L455.4 704.2M471.8 709.3L471.8 704.8M488.7 710.1L488.7 705.5M505.6 710.8L505.6 706.2M522.6 711.6L522.6 706.9M539.5 712.3L539.5 707.7M556.4 713.1L556.4 708.4M571.5 715.8L571.5 711M586.6 718.5L586.6 713.7M601.7 721.2L601.7 716.4M615.7 724L617.8 719" fill="none"/><polygon points="303,708 319.4,708.5 335.8,709.1 352.1,709.7 368.5,710.3 384.9,710.9 401.3,711.5 417.6,712.1 434,712.6 450.4,713.2 466.7,713.8 483.8,714.6 500.8,715.4 517.9,716.2 534.9,717 551.9,717.8 567.3,720.6 582.8,723.4 598.2,726.1 613.6,728.9 615.7,724 600.5,721.2 585.3,718.5 570.1,715.8 554.9,713.1 538,712.3 521,711.6 504,710.8 487.1,710.1 470.1,709.3 453.7,708.7 437.3,708.2 421,707.6 404.6,707.1 388.2,706.5 371.8,705.9 355.5,705.4 339.1,704.8 322.7,704.2 306.4,703.7" stroke="none"/><polyline points="303,708 319.4,708.5 335.8,709.1 352.1,709.7 368.5,710.3 384.9,710.9 401.3,711.5 417.6,712.1 434,712.6 450.4,713.2 466.7,713.8 483.8,714.6 500.8,715.4 517.9,716.2 534.9,717 551.9,717.8 567.3,720.6 582.8,723.4 598.2,726.1 613.6,728.9" fill="none"/><polyline points="306.4,703.7 322.7,704.2 339.1,704.8 355.5,705.4 371.8,705.9 388.2,706.5 404.6,707.1 421,707.6 437.3,708.2 453.7,708.7 470.1,709.3 487.1,710.1 504,710.8 521,711.6 538,712.3 554.9,713.1 570.1,715.8 585.3,718.5 600.5,721.2 615.7,724" fill="none"/><path d="M303 708L306.4 703.7M321.1 708.5L321.1 704.2M337.4 709.1L337.4 704.8M353.8 709.7L353.8 705.4M370.2 710.3L370.2 705.9M386.6 710.9L386.6 706.5M402.9 711.5L402.9 707.1M419.3 712.1L419.3 707.6M435.7 712.6L435.7 708.2M452 713.2L452 708.7M468.4 713.8L468.4 709.3M485.4 714.6L485.4 710.1M502.4 715.4L502.4 710.8M519.4 716.2L519.4 711.6M536.4 717L536.4 712.3M553.4 717.8L553.4 713.1M568.7 720.6L568.7 715.8M584 723.4L584 718.5M599.3 726.1L599.3 721.2M613.6 728.9L615.7 724" fill="none"/><polygon points="299.7,712.2 316.1,712.8 332.4,713.4 348.8,714.1 365.2,714.7 381.5,715.3 397.9,715.9 414.3,716.5 430.7,717.1 447,717.7 463.4,718.3 480.5,719.2 497.6,720 514.7,720.9 531.8,721.7 548.9,722.5 564.6,725.4 580.2,728.2 595.8,731 611.4,733.8 613.6,728.9 598.2,726.1 582.8,723.4 567.3,720.6 551.9,717.8 534.9,717 517.9,716.2 500.8,715.4 483.8,714.6 466.7,713.8 450.4,713.2 434,712.6 417.6,712.1 401.3,711.5 384.9,710.9 368.5,710.3 352.1,709.7 335.8,709.1 319.4,708.5 303,708" stroke="none"/><polyline points="299.7,712.2 316.1,712.8 332.4,713.4 348.8,714.1 365.2,714.7 381.5,715.3 397.9,715.9 414.3,716.5 430.7,717.1 447,717.7 463.4,718.3 480.5,719.2 497.6,720 514.7,720.9 531.8,721.7 548.9,722.5 564.6,725.4 580.2,728.2 595.8,731 611.4,733.8" fill="none"/><polyline points="303,708 319.4,708.5 335.8,709.1 352.1,709.7 368.5,710.3 384.9,710.9 401.3,711.5 417.6,712.1 434,712.6 450.4,713.2 466.7,713.8 483.8,714.6 500.8,715.4 517.9,716.2 534.9,717 551.9,717.8 567.3,720.6 582.8,723.4 598.2,726.1 613.6,728.9" fill="none"/><path d="M299.7 712.2L303 708M317.7 712.8L317.7 708.5M334.1 713.4L334.1 709.1M350.5 714.1L350.5 709.7M366.8 714.7L366.8 710.3M383.2 715.3L383.2 710.9M399.6 715.9L399.6 711.5M416 716.5L416 712.1M432.3 717.1L432.3 712.6M448.7 717.7L448.7 713.2M465.1 718.3L465.1 713.8M482.1 719.2L482.1 714.6M499.2 720L499.2 715.4M516.3 720.9L516.3 716.2M533.4 721.7L533.4 717M550.4 722.5L550.4 717.8M566 725.4L566 720.6M581.5 728.2L581.5 723.4M597 731L597 726.1M611.4 733.8L613.6 728.9" fill="none"/><polygon points="296.4,716.5 312.7,717.1 329.1,717.8 345.5,718.4 361.8,719 378.2,719.7 394.6,720.3 410.9,720.9 427.3,721.6 443.7,722.2 460,722.8 477.2,723.7 494.4,724.6 511.6,725.5 528.8,726.4 546,727.2 561.8,730.1 577.6,733 593.5,735.9 609.3,738.8 611.4,733.8 595.8,731 580.2,728.2 564.6,725.4 548.9,722.5 531.8,721.7 514.7,720.9 497.6,720 480.5,719.2 463.4,718.3 447,717.7 430.7,717.1 414.3,716.5 397.9,715.9 381.5,715.3 365.2,714.7 348.8,714.1 332.4,713.4 316.1,712.8 299.7,712.2" stroke="none"/><polyline points="296.4,716.5 312.7,717.1 329.1,717.8 345.5,718.4 361.8,719 378.2,719.7 394.6,720.3 410.9,720.9 427.3,721.6 443.7,722.2 460,722.8 477.2,723.7 494.4,724.6 511.6,725.5 528.8,726.4 546,727.2 561.8,730.1 577.6,733 593.5,735.9 609.3,738.8" fill="none"/><polyline points="299.7,712.2 316.1,712.8 332.4,713.4 348.8,714.1 365.2,714.7 381.5,715.3 397.9,715.9 414.3,716.5 430.7,717.1 447,717.7 463.4,718.3 480.5,719.2 497.6,720 514.7,720.9 531.8,721.7 548.9,722.5 564.6,725.4 580.2,728.2 595.8,731 611.4,733.8" fill="none"/><path d="M296.4 716.5L299.7 712.2M314.4 717.1L314.4 712.8M330.8 717.8L330.8 713.4M347.1 718.4L347.1 714.1M363.5 719L363.5 714.7M379.9 719.7L379.9 715.3M396.2 720.3L396.2 715.9M412.6 720.9L412.6 716.5M429 721.6L429 717.1M445.3 722.2L445.3 717.7M461.7 722.8L461.7 718.3M478.9 723.7L478.9 719.2M496 724.6L496 720M513.2 725.5L513.2 720.9M530.3 726.4L530.3 721.7M547.5 727.2L547.5 722.5M563.2 730.1L563.2 725.4M578.9 733L578.9 728.2M594.6 735.9L594.6 731M609.3 738.8L611.4 733.8" fill="none"/><polygon points="293.1,720.8 309.4,721.4 325.8,722.1 342.1,722.7 358.5,723.4 374.9,724.1 391.2,724.7 407.6,725.4 424,726 440.3,726.7 456.7,727.4 474,728.3 491.2,729.2 508.5,730.1 525.7,731 543,732 559,734.9 575.1,737.8 591.1,740.8 607.2,743.7 609.3,738.8 593.5,735.9 577.6,733 561.8,730.1 546,727.2 528.8,726.4 511.6,725.5 494.4,724.6 477.2,723.7 460,722.8 443.7,722.2 427.3,721.6 410.9,720.9 394.6,720.3 378.2,719.7 361.8,719 345.5,718.4 329.1,717.8 312.7,717.1 296.4,716.5" stroke="none"/><polyline points="293.1,720.8 309.4,721.4 325.8,722.1 342.1,722.7 358.5,723.4 374.9,724.1 391.2,724.7 407.6,725.4 424,726 440.3,726.7 456.7,727.4 474,728.3 491.2,729.2 508.5,730.1 525.7,731 543,732 559,734.9 575.1,737.8 591.1,740.8 607.2,743.7" fill="none"/><polyline points="296.4,716.5 312.7,717.1 329.1,717.8 345.5,718.4 361.8,719 378.2,719.7 394.6,720.3 410.9,720.9 427.3,721.6 443.7,722.2 460,722.8 477.2,723.7 494.4,724.6 511.6,725.5 528.8,726.4 546,727.2 561.8,730.1 577.6,733 593.5,735.9 609.3,738.8" fill="none"/><path d="M293.1 720.8L296.4 716.5M311.1 721.4L311.1 717.1M327.4 722.1L327.4 717.8M343.8 722.7L343.8 718.4M360.2 723.4L360.2 719M376.5 724.1L376.5 719.7M392.9 724.7L392.9 720.3M409.3 725.4L409.3 720.9M425.6 726L425.6 721.6M442 726.7L442 722.2M458.4 727.4L458.4 722.8M475.6 728.3L475.6 723.7M492.8 729.2L492.8 724.6M510 730.1L510 725.5M527.2 731L527.2 726.4M544.5 732L544.5 727.2M560.4 734.9L560.4 730.1M576.4 737.8L576.4 733M592.3 740.8L592.3 735.9M607.2 743.7L609.3 738.8" fill="none"/><polygon points="289.7,725 306.1,725.7 322.5,726.4 338.8,727.1 355.2,727.8 371.5,728.5 387.9,729.1 404.3,729.8 420.6,730.5 437,731.2 453.3,731.9 470.7,732.8 488,733.8 505.3,734.8 522.7,735.7 540,736.7 556.2,739.7 572.5,742.7 588.8,745.7 605,748.7 607.2,743.7 591.1,740.8 575.1,737.8 559,734.9 543,732 525.7,731 508.5,730.1 491.2,729.2 474,728.3 456.7,727.4 440.3,726.7 424,726 407.6,725.4 391.2,724.7 374.9,724.1 358.5,723.4 342.1,722.7 325.8,722.1 309.4,721.4 293.1,720.8" stroke="none"/><polyline points="289.7,725 306.1,725.7 322.5,726.4 338.8,727.1 355.2,727.8 371.5,728.5 387.9,729.1 404.3,729.8 420.6,730.5 437,731.2 453.3,731.9 470.7,732.8 488,733.8 505.3,734.8 522.7,735.7 540,736.7 556.2,739.7 572.5,742.7 588.8,745.7 605,748.7" fill="none"/><polyline points="293.1,720.8 309.4,721.4 325.8,722.1 342.1,722.7 358.5,723.4 374.9,724.1 391.2,724.7 407.6,725.4 424,726 440.3,726.7 456.7,727.4 474,728.3 491.2,729.2 508.5,730.1 525.7,731 543,732 559,734.9 575.1,737.8 591.1,740.8 607.2,743.7" fill="none"/><path d="M289.7 725L293.1 720.8M307.8 725.7L307.8 721.4M324.1 726.4L324.1 722.1M340.5 727.1L340.5 722.7M356.8 727.8L356.8 723.4M373.2 728.5L373.2 724.1M389.6 729.1L389.6 724.7M405.9 729.8L405.9 725.4M422.3 730.5L422.3 726M438.7 731.2L438.7 726.7M455 731.9L455 727.4M472.3 732.8L472.3 728.3M489.6 733.8L489.6 729.2M506.9 734.8L506.9 730.1M524.2 735.7L524.2 731M541.5 736.7L541.5 732M557.6 739.7L557.6 734.9M573.8 742.7L573.8 737.8M589.9 745.7L589.9 740.8M605 748.7L607.2 743.7" fill="none"/><polygon points="286.4,729.3 302.8,730 319.1,730.7 335.5,731.4 351.8,732.1 368.2,732.8 384.6,733.6 400.9,734.3 417.3,735 433.6,735.7 450,736.4 467.4,737.4 484.8,738.4 502.2,739.4 519.6,740.4 537,741.4 553.5,744.5 570,747.5 586.4,750.5 602.9,753.6 605,748.7 588.8,745.7 572.5,742.7 556.2,739.7 540,736.7 522.7,735.7 505.3,734.8 488,733.8 470.7,732.8 453.3,731.9 437,731.2 420.6,730.5 404.3,729.8 387.9,729.1 371.5,728.5 355.2,727.8 338.8,727.1 322.5,726.4 306.1,725.7 289.7,725" stroke="none"/><polyline points="286.4,729.3 302.8,730 319.1,730.7 335.5,731.4 351.8,732.1 368.2,732.8 384.6,733.6 400.9,734.3 417.3,735 433.6,735.7 450,736.4 467.4,737.4 484.8,738.4 502.2,739.4 519.6,740.4 537,741.4 553.5,744.5 570,747.5 586.4,750.5 602.9,753.6" fill="none"/><polyline points="289.7,725 306.1,725.7 322.5,726.4 338.8,727.1 355.2,727.8 371.5,728.5 387.9,729.1 404.3,729.8 420.6,730.5 437,731.2 453.3,731.9 470.7,732.8 488,733.8 505.3,734.8 522.7,735.7 540,736.7 556.2,739.7 572.5,742.7 588.8,745.7 605,748.7" fill="none"/><path d="M286.4 729.3L289.7 725M304.4 730L304.4 725.7M320.8 730.7L320.8 726.4M337.1 731.4L337.1 727.1M353.5 732.1L353.5 727.8M369.9 732.8L369.9 728.5M386.2 733.6L386.2 729.1M402.6 734.3L402.6 729.8M419 735L419 730.5M435.3 735.7L435.3 731.2M451.7 736.4L451.7 731.9M469 737.4L469 732.8M486.4 738.4L486.4 733.8M503.8 739.4L503.8 734.8M521.1 740.4L521.1 735.7M538.5 741.4L538.5 736.7M554.9 744.5L554.9 739.7M571.2 747.5L571.2 742.7M587.6 750.5L587.6 745.7M602.9 753.6L605 748.7" fill="none"/></g>
<polygon points="598,752.6 615.7,755.3 621.4,747.1 603,736" fill="#e5e4e6"/>
<polyline points="600,753.1 615.7,755.3 621.4,747.1" fill="none" stroke="#5a1a7a" stroke-width="1.5"/>
<polygon points="669.3,750 615.7,755 603,740 590,720 585,700 588,680 597,664 610,655 625,652 640,654 651,658" fill="#e5e4e6"/>
<line x1="669.3" y1="750" x2="615.7" y2="755" stroke="#5a1a7a" stroke-width="1.3"/>
<line x1="669.3" y1="750" x2="609.4" y2="747.5" stroke="#5a1a7a" stroke-width="1.3"/>
<line x1="669.3" y1="750" x2="603" y2="740" stroke="#5a1a7a" stroke-width="1.3"/>
<line x1="669.3" y1="750" x2="596.5" y2="730" stroke="#5a1a7a" stroke-width="1.3"/>
<line x1="669.3" y1="750" x2="590" y2="720" stroke="#5a1a7a" stroke-width="1.3"/>
<line x1="669.3" y1="750" x2="587.5" y2="710" stroke="#5a1a7a" stroke-width="1.3"/>
<line x1="669.3" y1="750" x2="585" y2="700" stroke="#5a1a7a" stroke-width="1.3"/>
<line x1="669.3" y1="750" x2="586.5" y2="690" stroke="#5a1a7a" stroke-width="1.3"/>
<line x1="669.3" y1="750" x2="588" y2="680" stroke="#5a1a7a" stroke-width="1.3"/>
<line x1="669.3" y1="750" x2="592.5" y2="672" stroke="#5a1a7a" stroke-width="1.3"/>
<line x1="669.3" y1="750" x2="597" y2="664" stroke="#5a1a7a" stroke-width="1.3"/>
<line x1="669.3" y1="750" x2="603.5" y2="659.5" stroke="#5a1a7a" stroke-width="1.3"/>
<line x1="669.3" y1="750" x2="610" y2="655" stroke="#5a1a7a" stroke-width="1.3"/>
<line x1="669.3" y1="750" x2="617.5" y2="653.5" stroke="#5a1a7a" stroke-width="1.3"/>
<line x1="669.3" y1="750" x2="625" y2="652" stroke="#5a1a7a" stroke-width="1.3"/>
<line x1="669.3" y1="750" x2="632.5" y2="653" stroke="#5a1a7a" stroke-width="1.3"/>
<line x1="669.3" y1="750" x2="640" y2="654" stroke="#5a1a7a" stroke-width="1.3"/>
<line x1="669.3" y1="750" x2="645.5" y2="656" stroke="#5a1a7a" stroke-width="1.3"/>
<line x1="669.3" y1="750" x2="651" y2="658" stroke="#5a1a7a" stroke-width="1.3"/>
<polyline points="631.8,753.5 627.3,748.2 622.9,743 618.3,736 613.8,729 612,722 610.3,715 611.3,708 612.4,701 615.5,695.4 618.7,689.8 623.2,686.6 627.8,683.5 633,682.5 638.3,681.4 643.5,682.1 648.8,682.8 652.6,684.2 656.5,685.6" fill="none" stroke="#5a1a7a" stroke-width="1.3"/>
<polyline points="642.5,752.5 639.3,748.8 636.1,745 632.9,740 629.6,735 628.4,730 627.1,725 627.9,720 628.6,715 630.9,711 633.1,707 636.4,704.8 639.6,702.5 643.4,701.8 647.1,701 650.9,701.5 654.6,702 657.4,703 660.1,704" fill="none" stroke="#5a1a7a" stroke-width="1.3"/>
<polyline points="652.1,751.6 650.1,749.2 648.1,746.8 646,743.6 643.9,740.4 643.1,737.2 642.3,734 642.8,730.8 643.3,727.6 644.7,725 646.2,722.5 648.2,721 650.3,719.6 652.7,719.1 655.1,718.6 657.5,719 659.9,719.3 661.7,719.9 663.4,720.6" fill="none" stroke="#5a1a7a" stroke-width="1.3"/>
<polyline points="660.7,750.8 659.7,749.6 658.7,748.4 657.6,746.8 656.6,745.2 656.2,743.6 655.8,742 656,740.4 656.3,738.8 657,737.5 657.7,736.2 658.8,735.5 659.8,734.8 661,734.6 662.2,734.3 663.4,734.5 664.6,734.6 665.5,735 666.4,735.3" fill="none" stroke="#5a1a7a" stroke-width="1.3"/>
<polygon points="585.7,712.9 592.9,713.6 608.6,724.3 622.9,738.6 632.9,747.1 624.3,747.1 611.4,738.6 598.6,727.1" fill="#5a1a7a"/>
<polygon points="654.3,740 668.6,744.3 674.3,757.1 664.3,751.4" fill="#5a1a7a"/>
<polyline points="615.7,755 621.4,747.1 642.9,749.3 664.3,751.4 675,758.6" fill="none" stroke="#5a1a7a" stroke-width="1.5"/>
<polygon points="636.4,599.3 676.4,599.3 670,608.6 651.4,607.1 648.6,654.3 634.3,654.3" fill="#e5e4e6" stroke="#5a1a7a" stroke-width="1.5"/>
<polygon points="651.4,607.1 670,608.6 669.3,743.6 668.6,742.9 650,657.1" fill="#e5e4e6" stroke="#5a1a7a" stroke-width="1.5"/>
<polygon points="676.4,599.3 688.6,602.9 689.3,637.1 691.4,672.9 690.7,737.1 685.7,746.4 669.3,743.6 670,608.6" fill="#e5e4e6" stroke="#5a1a7a" stroke-width="1.5"/>
<line x1="670.7" y1="627.1" x2="688.6" y2="724.3" stroke="#5a1a7a" stroke-width="1.5"/>
<line x1="651.4" y1="607.1" x2="635.7" y2="647.1" stroke="#5a1a7a" stroke-width="1.5"/>
<line x1="636.4" y1="599.3" x2="634.3" y2="654.3" stroke="#5a1a7a" stroke-width="1.5"/>
<line x1="623.6" y1="621.4" x2="617.1" y2="647.1" stroke="#5a1a7a" stroke-width="1.5"/>
<line x1="685.7" y1="746.4" x2="675" y2="758.6" stroke="#5a1a7a" stroke-width="1.5"/>
<line x1="669.3" y1="743.6" x2="675" y2="758.6" stroke="#5a1a7a" stroke-width="1.5"/>
<text font-weight="bold" x="113" y="669.2" font-size="35.5" fill="#1a1a1a" textLength="42.4" lengthAdjust="spacingAndGlyphs">(C)</text>
<text x="11" y="697.4" font-size="25" fill="#1e1e2e" textLength="245" lengthAdjust="spacingAndGlyphs">Saturation time (min)</text>
<text x="209.6" y="738.8" font-size="18.2" fill="#1e1e2e" textLength="20.4" lengthAdjust="spacingAndGlyphs">30</text>
<text x="214" y="827" font-size="18.2" fill="#1e1e2e" textLength="20.6" lengthAdjust="spacingAndGlyphs">20</text>
<text x="217.6" y="915.6" font-size="18.2" fill="#1e1e2e" textLength="20.4" lengthAdjust="spacingAndGlyphs">10</text>
<text x="280.3" y="951.8" font-size="18.2" fill="#1e1e2e" textLength="33.7" lengthAdjust="spacingAndGlyphs">0.50</text>
<text x="406.5" y="956" font-size="18.2" fill="#1e1e2e" textLength="34" lengthAdjust="spacingAndGlyphs">0.55</text>
<text x="533" y="962.4" font-size="18.2" fill="#1e1e2e" textLength="34.8" lengthAdjust="spacingAndGlyphs">0.60</text>
<text x="338.8" y="991.5" font-size="25" fill="#1e1e2e" textLength="166.6" lengthAdjust="spacingAndGlyphs">Rf (Colchicine)</text>
<text x="739.4" y="788.6" font-size="25" fill="#1e1e2e" textLength="290.6" lengthAdjust="spacingAndGlyphs">Migration distance (mm)</text>
<text x="755" y="833" font-size="18.2" fill="#1e1e2e" textLength="20.8" lengthAdjust="spacingAndGlyphs">80</text>
<text x="720" y="876" font-size="18.2" fill="#1e1e2e" textLength="20.5" lengthAdjust="spacingAndGlyphs">60</text>
<text x="685.5" y="919.8" font-size="18.2" fill="#1e1e2e" textLength="20.7" lengthAdjust="spacingAndGlyphs">40</text>
<polygon points="1288.3,655.2 1338.9,529.5 1684.3,531.4 1693.8,789.7 1642.2,916.4 1297.8,913.2" fill="#ffffff" stroke="#9a9a9a" stroke-width="1.4"/>
<line x1="1338.9" y1="529.5" x2="1348.4" y2="785.6" stroke="#9a9a9a" stroke-width="1.4"/>
<line x1="1348.4" y1="785.6" x2="1693.8" y2="789.7" stroke="#9a9a9a" stroke-width="1.4"/>
<line x1="1348.4" y1="785.6" x2="1297.8" y2="913.2" stroke="#9a9a9a" stroke-width="1.4"/>
<line x1="1290.6" y1="717" x2="1283.6" y2="717" stroke="#9a9a9a" stroke-width="1.3"/>
<line x1="1293.9" y1="807" x2="1286.9" y2="807" stroke="#9a9a9a" stroke-width="1.3"/>
<line x1="1297.3" y1="898.5" x2="1290.3" y2="898.5" stroke="#9a9a9a" stroke-width="1.3"/>
<line x1="1365" y1="913.8" x2="1365.2" y2="918.3" stroke="#9a9a9a" stroke-width="1.3"/>
<line x1="1467" y1="914.8" x2="1467.2" y2="919.3" stroke="#9a9a9a" stroke-width="1.3"/>
<line x1="1569.5" y1="915.7" x2="1569.7" y2="920.2" stroke="#9a9a9a" stroke-width="1.3"/>
<line x1="1693.8" y1="789.7" x2="1698.8" y2="790.2" stroke="#9a9a9a" stroke-width="1.3"/>
<line x1="1674.7" y1="836.6" x2="1679.7" y2="837.1" stroke="#9a9a9a" stroke-width="1.3"/>
<line x1="1655.6" y1="883.5" x2="1660.6" y2="884" stroke="#9a9a9a" stroke-width="1.3"/>
<g fill="#ffffff" stroke="#5a1a7a" stroke-width="1.4" stroke-linejoin="round"><polygon points="1536.1,693.3 1551.3,704.4 1551.4,695 1534.3,683"/><polygon points="1551.3,704.4 1564.4,705.7 1564.2,695 1551.4,695"/><polygon points="1564.4,705.7 1577.6,707.1 1577.1,695 1564.2,695"/><polygon points="1577.6,707.1 1599.2,720.5 1601.4,708.6 1577.1,695"/><polygon points="1599.2,720.5 1608.5,733.1 1608.6,721.4 1601.4,708.6"/><polygon points="1608.5,733.1 1616,746.1 1615,735 1608.6,721.4"/><polygon points="1616,746.1 1623.5,759.2 1621.4,748.6 1615,735"/><polygon points="1623.5,759.2 1637.8,787.1 1635.7,780.7 1621.4,748.6"/><polygon points="1637.8,787.1 1650.7,793.1 1650,787.1 1635.7,780.7"/><polygon points="1650.7,793.1 1666.1,794.9 1668.6,789.3 1650,787.1"/><polygon points="1537.8,703.5 1551.2,713.7 1551.3,704.4 1536.1,693.3"/><polygon points="1551.2,713.7 1564.6,716.5 1564.4,705.7 1551.3,704.4"/><polygon points="1564.6,716.5 1578,719.2 1577.6,707.1 1564.4,705.7"/><polygon points="1578,719.2 1597.1,732.3 1599.2,720.5 1577.6,707.1"/><polygon points="1597.1,732.3 1608.4,744.8 1608.5,733.1 1599.2,720.5"/><polygon points="1608.4,744.8 1617,757.3 1616,746.1 1608.5,733.1"/><polygon points="1617,757.3 1625.5,769.8 1623.5,759.2 1616,746.1"/><polygon points="1625.5,769.8 1639.8,793.5 1637.8,787.1 1623.5,759.2"/><polygon points="1639.8,793.5 1651.5,799.1 1650.7,793.1 1637.8,787.1"/><polygon points="1651.5,799.1 1663.7,800.4 1666.1,794.9 1650.7,793.1"/><polygon points="1537.7,707.8 1550.8,717.7 1551.2,713.7 1537.8,703.5"/><polygon points="1550.8,717.7 1564.3,721 1564.6,716.5 1551.2,713.7"/><polygon points="1564.3,721 1577.8,724.3 1578,719.2 1564.6,716.5"/><polygon points="1577.8,724.3 1596.2,737.3 1597.1,732.3 1578,719.2"/><polygon points="1596.2,737.3 1608,749.7 1608.4,744.8 1597.1,732.3"/><polygon points="1608,749.7 1616.9,762 1617,757.3 1608.4,744.8"/><polygon points="1616.9,762 1625.7,774.2 1625.5,769.8 1617,757.3"/><polygon points="1625.7,774.2 1640,796.2 1639.8,793.5 1625.5,769.8"/><polygon points="1640,796.2 1651.4,801.6 1651.5,799.1 1639.8,793.5"/><polygon points="1651.4,801.6 1662.7,802.8 1663.7,800.4 1651.5,799.1"/><polygon points="1537.6,712.2 1550.3,721.6 1550.8,717.7 1537.7,707.8"/><polygon points="1550.3,721.6 1564,725.5 1564.3,721 1550.8,717.7"/><polygon points="1564,725.5 1577.6,729.3 1577.8,724.3 1564.3,721"/><polygon points="1577.6,729.3 1595.2,742.3 1596.2,737.3 1577.8,724.3"/><polygon points="1595.2,742.3 1607.5,754.6 1608,749.7 1596.2,737.3"/><polygon points="1607.5,754.6 1616.7,766.6 1616.9,762 1608,749.7"/><polygon points="1616.7,766.6 1626,778.7 1625.7,774.2 1616.9,762"/><polygon points="1626,778.7 1640.3,798.8 1640,796.2 1625.7,774.2"/><polygon points="1640.3,798.8 1651.2,804.1 1651.4,801.6 1640,796.2"/><polygon points="1651.2,804.1 1661.6,805.1 1662.7,802.8 1651.4,801.6"/><polygon points="1537.5,716.5 1549.9,725.6 1550.3,721.6 1537.6,712.2"/><polygon points="1549.9,725.6 1563.6,730 1564,725.5 1550.3,721.6"/><polygon points="1563.6,730 1577.4,734.4 1577.6,729.3 1564,725.5"/><polygon points="1577.4,734.4 1594.3,747.3 1595.2,742.3 1577.6,729.3"/><polygon points="1594.3,747.3 1607.1,759.5 1607.5,754.6 1595.2,742.3"/><polygon points="1607.1,759.5 1616.6,771.3 1616.7,766.6 1607.5,754.6"/><polygon points="1616.6,771.3 1626.2,783.1 1626,778.7 1616.7,766.6"/><polygon points="1626.2,783.1 1640.5,801.5 1640.3,798.8 1626,778.7"/><polygon points="1640.5,801.5 1651.1,806.6 1651.2,804.1 1640.3,798.8"/><polygon points="1651.1,806.6 1660.6,807.5 1661.6,805.1 1651.2,804.1"/><polygon points="1537.4,720.8 1549.4,729.5 1549.9,725.6 1537.5,716.5"/><polygon points="1549.4,729.5 1563.3,734.5 1563.6,730 1549.9,725.6"/><polygon points="1563.3,734.5 1577.1,739.5 1577.4,734.4 1563.6,730"/><polygon points="1577.1,739.5 1593.4,752.3 1594.3,747.3 1577.4,734.4"/><polygon points="1593.4,752.3 1606.6,764.4 1607.1,759.5 1594.3,747.3"/><polygon points="1606.6,764.4 1616.5,776 1616.6,771.3 1607.1,759.5"/><polygon points="1616.5,776 1626.4,787.6 1626.2,783.1 1616.6,771.3"/><polygon points="1626.4,787.6 1640.7,804.2 1640.5,801.5 1626.2,783.1"/><polygon points="1640.7,804.2 1651,809.1 1651.1,806.6 1640.5,801.5"/><polygon points="1651,809.1 1659.6,809.8 1660.6,807.5 1651.1,806.6"/><polygon points="1536.8,723.1 1548.9,731.6 1549.4,729.5 1537.4,720.8"/><polygon points="1548.9,731.6 1562.8,736.9 1563.3,734.5 1549.4,729.5"/><polygon points="1562.8,736.9 1576.7,742.2 1577.1,739.5 1563.3,734.5"/><polygon points="1576.7,742.2 1592.9,755 1593.4,752.3 1577.1,739.5"/><polygon points="1592.9,755 1606.1,767.1 1606.6,764.4 1593.4,752.3"/><polygon points="1606.1,767.1 1616.1,778.5 1616.5,776 1606.6,764.4"/><polygon points="1616.1,778.5 1626.1,790 1626.4,787.6 1616.5,776"/><polygon points="1626.1,790 1640.4,805.7 1640.7,804.2 1626.4,787.6"/><polygon points="1640.4,805.7 1650.7,810.5 1651,809.1 1640.7,804.2"/><polygon points="1650.7,810.5 1659,811.1 1659.6,809.8 1651,809.1"/><polygon points="1536.1,725.4 1548.4,733.7 1548.9,731.6 1536.8,723.1"/><polygon points="1548.4,733.7 1562.3,739.4 1562.8,736.9 1548.9,731.6"/><polygon points="1562.3,739.4 1576.3,745 1576.7,742.2 1562.8,736.9"/><polygon points="1576.3,745 1592.4,757.6 1592.9,755 1576.7,742.2"/><polygon points="1592.4,757.6 1605.6,769.7 1606.1,767.1 1592.9,755"/><polygon points="1605.6,769.7 1615.7,781 1616.1,778.5 1606.1,767.1"/><polygon points="1615.7,781 1625.8,792.4 1626.1,790 1616.1,778.5"/><polygon points="1625.8,792.4 1640.1,807.1 1640.4,805.7 1626.1,790"/><polygon points="1640.1,807.1 1650.3,811.9 1650.7,810.5 1640.4,805.7"/><polygon points="1650.3,811.9 1658.5,812.3 1659,811.1 1650.7,810.5"/><polygon points="1535.5,727.7 1547.8,735.8 1548.4,733.7 1536.1,725.4"/><polygon points="1547.8,735.8 1561.9,741.8 1562.3,739.4 1548.4,733.7"/><polygon points="1561.9,741.8 1575.9,747.7 1576.3,745 1562.3,739.4"/><polygon points="1575.9,747.7 1592,760.3 1592.4,757.6 1576.3,745"/><polygon points="1592,760.3 1605,772.4 1605.6,769.7 1592.4,757.6"/><polygon points="1605,772.4 1615.3,783.6 1615.7,781 1605.6,769.7"/><polygon points="1615.3,783.6 1625.5,794.8 1625.8,792.4 1615.7,781"/><polygon points="1625.5,794.8 1639.8,808.5 1640.1,807.1 1625.8,792.4"/><polygon points="1639.8,808.5 1650,813.2 1650.3,811.9 1640.1,807.1"/><polygon points="1650,813.2 1657.9,813.6 1658.5,812.3 1650.3,811.9"/><polygon points="1534.9,730.1 1547.3,738 1547.8,735.8 1535.5,727.7"/><polygon points="1547.3,738 1561.4,744.2 1561.9,741.8 1547.8,735.8"/><polygon points="1561.4,744.2 1575.5,750.4 1575.9,747.7 1561.9,741.8"/><polygon points="1575.5,750.4 1591.5,763 1592,760.3 1575.9,747.7"/><polygon points="1591.5,763 1604.5,775 1605,772.4 1592,760.3"/><polygon points="1604.5,775 1614.9,786.1 1615.3,783.6 1605,772.4"/><polygon points="1614.9,786.1 1625.2,797.1 1625.5,794.8 1615.3,783.6"/><polygon points="1625.2,797.1 1639.5,810 1639.8,808.5 1625.5,794.8"/><polygon points="1639.5,810 1649.6,814.5 1650,813.2 1639.8,808.5"/><polygon points="1649.6,814.5 1657.4,814.8 1657.9,813.6 1650,813.2"/><polygon points="1534.3,732.4 1546.8,740.1 1547.3,738 1534.9,730.1"/><polygon points="1546.8,740.1 1560.9,746.6 1561.4,744.2 1547.3,738"/><polygon points="1560.9,746.6 1575.1,753.1 1575.5,750.4 1561.4,744.2"/><polygon points="1575.1,753.1 1591,765.7 1591.5,763 1575.5,750.4"/><polygon points="1591,765.7 1604,777.6 1604.5,775 1591.5,763"/><polygon points="1604,777.6 1614.4,788.6 1614.9,786.1 1604.5,775"/><polygon points="1614.4,788.6 1624.9,799.5 1625.2,797.1 1614.9,786.1"/><polygon points="1624.9,799.5 1639.2,811.4 1639.5,810 1625.2,797.1"/><polygon points="1639.2,811.4 1649.3,815.9 1649.6,814.5 1639.5,810"/><polygon points="1649.3,815.9 1656.8,816.1 1657.4,814.8 1649.6,814.5"/><polygon points="1533.6,734.7 1546.2,742.2 1546.8,740.1 1534.3,732.4"/><polygon points="1546.2,742.2 1560.5,749 1560.9,746.6 1546.8,740.1"/><polygon points="1560.5,749 1574.7,755.9 1575.1,753.1 1560.9,746.6"/><polygon points="1574.7,755.9 1590.5,768.3 1591,765.7 1575.1,753.1"/><polygon points="1590.5,768.3 1603.4,780.3 1604,777.6 1591,765.7"/><polygon points="1603.4,780.3 1614,791.1 1614.4,788.6 1604,777.6"/><polygon points="1614,791.1 1624.6,801.9 1624.9,799.5 1614.4,788.6"/><polygon points="1624.6,801.9 1638.9,812.9 1639.2,811.4 1624.9,799.5"/><polygon points="1638.9,812.9 1648.9,817.2 1649.3,815.9 1639.2,811.4"/><polygon points="1648.9,817.2 1656.3,817.3 1656.8,816.1 1649.3,815.9"/><polygon points="1533,737 1545.7,744.3 1546.2,742.2 1533.6,734.7"/><polygon points="1545.7,744.3 1560,751.5 1560.5,749 1546.2,742.2"/><polygon points="1560,751.5 1574.3,758.6 1574.7,755.9 1560.5,749"/><polygon points="1574.3,758.6 1590,771 1590.5,768.3 1574.7,755.9"/><polygon points="1590,771 1602.9,782.9 1603.4,780.3 1590.5,768.3"/><polygon points="1602.9,782.9 1613.6,793.6 1614,791.1 1603.4,780.3"/><polygon points="1613.6,793.6 1624.3,804.3 1624.6,801.9 1614,791.1"/><polygon points="1624.3,804.3 1638.6,814.3 1638.9,812.9 1624.6,801.9"/><polygon points="1638.6,814.3 1648.6,818.6 1648.9,817.2 1638.9,812.9"/><polygon points="1648.6,818.6 1655.7,818.6 1656.3,817.3 1648.9,817.2"/></g>
<g fill="#ffffff" stroke="#5a1a7a" stroke-width="1.4" stroke-linejoin="round"><polygon points="1350.8,588.5 1366.5,587.9 1368.6,576.8 1352.9,580"/><polygon points="1366.5,587.9 1382.2,587.3 1384.3,573.7 1368.6,576.8"/><polygon points="1382.2,587.3 1398,586.8 1400,570.5 1384.3,573.7"/><polygon points="1398,586.8 1413.4,586.2 1414.3,566.1 1400,570.5"/><polygon points="1413.4,586.2 1428.9,585.7 1428.6,561.8 1414.3,566.1"/><polygon points="1428.9,585.7 1444.3,585.1 1442.9,557.4 1428.6,561.8"/><polygon points="1444.3,585.1 1453.8,584.9 1451.5,557.4 1442.9,557.4"/><polygon points="1453.8,584.9 1463.3,584.6 1460,557.4 1451.5,557.4"/><polygon points="1463.3,584.6 1472.8,584.4 1468.6,557.4 1460,557.4"/><polygon points="1472.8,584.4 1489.3,581 1482.9,562.1 1468.6,557.4"/><polygon points="1489.3,581 1502.8,600.4 1498.6,575.7 1482.9,562.1"/><polygon points="1502.8,600.4 1515,631 1510,607 1498.6,575.7"/><polygon points="1515,631 1527,668 1523,651 1510,607"/><polygon points="1527,668 1536.1,693.3 1534.3,683 1523,651"/><polygon points="1348.6,597 1364.4,599 1366.5,587.9 1350.8,588.5"/><polygon points="1364.4,599 1380.2,601 1382.2,587.3 1366.5,587.9"/><polygon points="1380.2,601 1396,603 1398,586.8 1382.2,587.3"/><polygon points="1396,603 1412.6,606.3 1413.4,586.2 1398,586.8"/><polygon points="1412.6,606.3 1429.1,609.6 1428.9,585.7 1413.4,586.2"/><polygon points="1429.1,609.6 1445.7,612.9 1444.3,585.1 1428.9,585.7"/><polygon points="1445.7,612.9 1456.1,612.4 1453.8,584.9 1444.3,585.1"/><polygon points="1456.1,612.4 1466.6,611.9 1463.3,584.6 1453.8,584.9"/><polygon points="1466.6,611.9 1477,611.4 1472.8,584.4 1463.3,584.6"/><polygon points="1477,611.4 1495.7,600 1489.3,581 1472.8,584.4"/><polygon points="1495.7,600 1507,625 1502.8,600.4 1489.3,581"/><polygon points="1507,625 1520,655 1515,631 1502.8,600.4"/><polygon points="1520,655 1531,685 1527,668 1515,631"/><polygon points="1531,685 1537.8,703.5 1536.1,693.3 1527,668"/><polygon points="1345.7,605.3 1361.6,606.9 1364.4,599 1348.6,597"/><polygon points="1361.6,606.9 1377.4,608.4 1380.2,601 1364.4,599"/><polygon points="1377.4,608.4 1393.3,610 1396,603 1380.2,601"/><polygon points="1393.3,610 1410.3,612.8 1412.6,606.3 1396,603"/><polygon points="1410.3,612.8 1427.3,615.5 1429.1,609.6 1412.6,606.3"/><polygon points="1427.3,615.5 1444.2,618.2 1445.7,612.9 1429.1,609.6"/><polygon points="1444.2,618.2 1455,618.2 1456.1,612.4 1445.7,612.9"/><polygon points="1455,618.2 1465.8,618.2 1466.6,611.9 1456.1,612.4"/><polygon points="1465.8,618.2 1476.5,618.2 1477,611.4 1466.6,611.9"/><polygon points="1476.5,618.2 1495.1,610.3 1495.7,600 1477,611.4"/><polygon points="1495.1,610.3 1506.3,632.8 1507,625 1495.7,600"/><polygon points="1506.3,632.8 1519,661.7 1520,655 1507,625"/><polygon points="1519,661.7 1530.2,689.5 1531,685 1520,655"/><polygon points="1530.2,689.5 1537.7,706.4 1537.8,703.5 1531,685"/><polygon points="1342.7,613.6 1358.7,614.7 1361.6,606.9 1345.7,605.3"/><polygon points="1358.7,614.7 1374.7,615.9 1377.4,608.4 1361.6,606.9"/><polygon points="1374.7,615.9 1390.7,617 1393.3,610 1377.4,608.4"/><polygon points="1390.7,617 1408,619.2 1410.3,612.8 1393.3,610"/><polygon points="1408,619.2 1425.4,621.4 1427.3,615.5 1410.3,612.8"/><polygon points="1425.4,621.4 1442.8,623.6 1444.2,618.2 1427.3,615.5"/><polygon points="1442.8,623.6 1453.9,624 1455,618.2 1444.2,618.2"/><polygon points="1453.9,624 1464.9,624.5 1465.8,618.2 1455,618.2"/><polygon points="1464.9,624.5 1476,624.9 1476.5,618.2 1465.8,618.2"/><polygon points="1476,624.9 1494.5,620.7 1495.1,610.3 1476.5,618.2"/><polygon points="1494.5,620.7 1505.7,640.7 1506.3,632.8 1495.1,610.3"/><polygon points="1505.7,640.7 1518,668.3 1519,661.7 1506.3,632.8"/><polygon points="1518,668.3 1529.3,694 1530.2,689.5 1519,661.7"/><polygon points="1529.3,694 1537.7,709.3 1537.7,706.4 1530.2,689.5"/><polygon points="1339.8,621.9 1355.9,622.6 1358.7,614.7 1342.7,613.6"/><polygon points="1355.9,622.6 1371.9,623.3 1374.7,615.9 1358.7,614.7"/><polygon points="1371.9,623.3 1388,624 1390.7,617 1374.7,615.9"/><polygon points="1388,624 1405.8,625.6 1408,619.2 1390.7,617"/><polygon points="1405.8,625.6 1423.6,627.3 1425.4,621.4 1408,619.2"/><polygon points="1423.6,627.3 1441.3,629 1442.8,623.6 1425.4,621.4"/><polygon points="1441.3,629 1452.7,629.9 1453.9,624 1442.8,623.6"/><polygon points="1452.7,629.9 1464.1,630.8 1464.9,624.5 1453.9,624"/><polygon points="1464.1,630.8 1475.5,631.7 1476,624.9 1464.9,624.5"/><polygon points="1475.5,631.7 1493.8,631 1494.5,620.7 1476,624.9"/><polygon points="1493.8,631 1505,648.5 1505.7,640.7 1494.5,620.7"/><polygon points="1505,648.5 1517,675 1518,668.3 1505.7,640.7"/><polygon points="1517,675 1528.5,698.5 1529.3,694 1518,668.3"/><polygon points="1528.5,698.5 1537.6,712.2 1537.7,709.3 1529.3,694"/><polygon points="1336.9,630.1 1353,630.4 1355.9,622.6 1339.8,621.9"/><polygon points="1353,630.4 1369.2,630.7 1371.9,623.3 1355.9,622.6"/><polygon points="1369.2,630.7 1385.3,631 1388,624 1371.9,623.3"/><polygon points="1385.3,631 1403.5,632.1 1405.8,625.6 1388,624"/><polygon points="1403.5,632.1 1421.7,633.2 1423.6,627.3 1405.8,625.6"/><polygon points="1421.7,633.2 1439.9,634.3 1441.3,629 1423.6,627.3"/><polygon points="1439.9,634.3 1451.6,635.7 1452.7,629.9 1441.3,629"/><polygon points="1451.6,635.7 1463.3,637.1 1464.1,630.8 1452.7,629.9"/><polygon points="1463.3,637.1 1475,638.5 1475.5,631.7 1464.1,630.8"/><polygon points="1475,638.5 1493.2,641.3 1493.8,631 1475.5,631.7"/><polygon points="1493.2,641.3 1504.3,656.3 1505,648.5 1493.8,631"/><polygon points="1504.3,656.3 1516,681.7 1517,675 1505,648.5"/><polygon points="1516,681.7 1527.7,703 1528.5,698.5 1517,675"/><polygon points="1527.7,703 1537.5,715 1537.6,712.2 1528.5,698.5"/><polygon points="1333.9,638.4 1350.2,638.3 1353,630.4 1336.9,630.1"/><polygon points="1350.2,638.3 1366.4,638.1 1369.2,630.7 1353,630.4"/><polygon points="1366.4,638.1 1382.7,638 1385.3,631 1369.2,630.7"/><polygon points="1382.7,638 1401.3,638.5 1403.5,632.1 1385.3,631"/><polygon points="1401.3,638.5 1419.9,639.1 1421.7,633.2 1403.5,632.1"/><polygon points="1419.9,639.1 1438.5,639.6 1439.9,634.3 1421.7,633.2"/><polygon points="1438.5,639.6 1450.5,641.5 1451.6,635.7 1439.9,634.3"/><polygon points="1450.5,641.5 1462.5,643.4 1463.3,637.1 1451.6,635.7"/><polygon points="1462.5,643.4 1474.5,645.2 1475,638.5 1463.3,637.1"/><polygon points="1474.5,645.2 1492.6,651.7 1493.2,641.3 1475,638.5"/><polygon points="1492.6,651.7 1503.7,664.2 1504.3,656.3 1493.2,641.3"/><polygon points="1503.7,664.2 1515,688.3 1516,681.7 1504.3,656.3"/><polygon points="1515,688.3 1526.8,707.5 1527.7,703 1516,681.7"/><polygon points="1526.8,707.5 1537.5,717.9 1537.5,715 1527.7,703"/><polygon points="1331,646.7 1347.3,646.1 1350.2,638.3 1333.9,638.4"/><polygon points="1347.3,646.1 1363.7,645.6 1366.4,638.1 1350.2,638.3"/><polygon points="1363.7,645.6 1380,645 1382.7,638 1366.4,638.1"/><polygon points="1380,645 1399,645 1401.3,638.5 1382.7,638"/><polygon points="1399,645 1418,645 1419.9,639.1 1401.3,638.5"/><polygon points="1418,645 1437,645 1438.5,639.6 1419.9,639.1"/><polygon points="1437,645 1449.3,647.3 1450.5,641.5 1438.5,639.6"/><polygon points="1449.3,647.3 1461.7,649.7 1462.5,643.4 1450.5,641.5"/><polygon points="1461.7,649.7 1474,652 1474.5,645.2 1462.5,643.4"/><polygon points="1474,652 1492,662 1492.6,651.7 1474.5,645.2"/><polygon points="1492,662 1503,672 1503.7,664.2 1492.6,651.7"/><polygon points="1503,672 1514,695 1515,688.3 1503.7,664.2"/><polygon points="1514,695 1526,712 1526.8,707.5 1515,688.3"/><polygon points="1526,712 1537.4,720.8 1537.5,717.9 1526.8,707.5"/><polygon points="1329.6,651 1346,650.4 1347.3,646.1 1331,646.7"/><polygon points="1346,650.4 1362.3,649.9 1363.7,645.6 1347.3,646.1"/><polygon points="1362.3,649.9 1378.7,649.4 1380,645 1363.7,645.6"/><polygon points="1378.7,649.4 1397.6,649.4 1399,645 1380,645"/><polygon points="1397.6,649.4 1416.5,649.4 1418,645 1399,645"/><polygon points="1416.5,649.4 1435.5,649.4 1437,645 1418,645"/><polygon points="1435.5,649.4 1447.9,651.7 1449.3,647.3 1437,645"/><polygon points="1447.9,651.7 1460.4,654.1 1461.7,649.7 1449.3,647.3"/><polygon points="1460.4,654.1 1472.9,656.4 1474,652 1461.7,649.7"/><polygon points="1472.9,656.4 1491.2,666 1492,662 1474,652"/><polygon points="1491.2,666 1502.3,675.5 1503,672 1492,662"/><polygon points="1502.3,675.5 1513.5,697.2 1514,695 1503,672"/><polygon points="1513.5,697.2 1525.6,713.3 1526,712 1514,695"/><polygon points="1525.6,713.3 1537.1,721.9 1537.4,720.8 1526,712"/><polygon points="1328.2,655.2 1344.6,654.7 1346,650.4 1329.6,651"/><polygon points="1344.6,654.7 1361,654.3 1362.3,649.9 1346,650.4"/><polygon points="1361,654.3 1377.3,653.8 1378.7,649.4 1362.3,649.9"/><polygon points="1377.3,653.8 1396.2,653.8 1397.6,649.4 1378.7,649.4"/><polygon points="1396.2,653.8 1415.1,653.8 1416.5,649.4 1397.6,649.4"/><polygon points="1415.1,653.8 1434,653.8 1435.5,649.4 1416.5,649.4"/><polygon points="1434,653.8 1446.6,656.1 1447.9,651.7 1435.5,649.4"/><polygon points="1446.6,656.1 1459.1,658.4 1460.4,654.1 1447.9,651.7"/><polygon points="1459.1,658.4 1471.7,660.8 1472.9,656.4 1460.4,654.1"/><polygon points="1471.7,660.8 1490.4,670.1 1491.2,666 1472.9,656.4"/><polygon points="1490.4,670.1 1501.5,679.1 1502.3,675.5 1491.2,666"/><polygon points="1501.5,679.1 1513.1,699.5 1513.5,697.2 1502.3,675.5"/><polygon points="1513.1,699.5 1525.2,714.6 1525.6,713.3 1513.5,697.2"/><polygon points="1525.2,714.6 1536.8,723 1537.1,721.9 1525.6,713.3"/><polygon points="1326.8,659.5 1343.2,659 1344.6,654.7 1328.2,655.2"/><polygon points="1343.2,659 1359.6,658.6 1361,654.3 1344.6,654.7"/><polygon points="1359.6,658.6 1376,658.1 1377.3,653.8 1361,654.3"/><polygon points="1376,658.1 1394.8,658.1 1396.2,653.8 1377.3,653.8"/><polygon points="1394.8,658.1 1413.6,658.1 1415.1,653.8 1396.2,653.8"/><polygon points="1413.6,658.1 1432.5,658.1 1434,653.8 1415.1,653.8"/><polygon points="1432.5,658.1 1445.2,660.5 1446.6,656.1 1434,653.8"/><polygon points="1445.2,660.5 1457.9,662.8 1459.1,658.4 1446.6,656.1"/><polygon points="1457.9,662.8 1470.6,665.2 1471.7,660.8 1459.1,658.4"/><polygon points="1470.6,665.2 1489.6,674.1 1490.4,670.1 1471.7,660.8"/><polygon points="1489.6,674.1 1500.8,682.6 1501.5,679.1 1490.4,670.1"/><polygon points="1500.8,682.6 1512.6,701.7 1513.1,699.5 1501.5,679.1"/><polygon points="1512.6,701.7 1524.8,715.9 1525.2,714.6 1513.1,699.5"/><polygon points="1524.8,715.9 1536.5,724 1536.8,723 1525.2,714.6"/><polygon points="1325.4,663.8 1341.8,663.4 1343.2,659 1326.8,659.5"/><polygon points="1341.8,663.4 1358.2,662.9 1359.6,658.6 1343.2,659"/><polygon points="1358.2,662.9 1374.7,662.5 1376,658.1 1359.6,658.6"/><polygon points="1374.7,662.5 1393.4,662.5 1394.8,658.1 1376,658.1"/><polygon points="1393.4,662.5 1412.2,662.5 1413.6,658.1 1394.8,658.1"/><polygon points="1412.2,662.5 1430.9,662.5 1432.5,658.1 1413.6,658.1"/><polygon points="1430.9,662.5 1443.8,664.9 1445.2,660.5 1432.5,658.1"/><polygon points="1443.8,664.9 1456.6,667.2 1457.9,662.8 1445.2,660.5"/><polygon points="1456.6,667.2 1469.5,669.6 1470.6,665.2 1457.9,662.8"/><polygon points="1469.5,669.6 1488.8,678.1 1489.6,674.1 1470.6,665.2"/><polygon points="1488.8,678.1 1500.1,686.1 1500.8,682.6 1489.6,674.1"/><polygon points="1500.1,686.1 1512.1,703.9 1512.6,701.7 1500.8,682.6"/><polygon points="1512.1,703.9 1524.4,717.2 1524.8,715.9 1512.6,701.7"/><polygon points="1524.4,717.2 1536.2,725.1 1536.5,724 1524.8,715.9"/><polygon points="1324,668 1340.4,667.7 1341.8,663.4 1325.4,663.8"/><polygon points="1340.4,667.7 1356.9,667.3 1358.2,662.9 1341.8,663.4"/><polygon points="1356.9,667.3 1373.3,666.9 1374.7,662.5 1358.2,662.9"/><polygon points="1373.3,666.9 1392,666.9 1393.4,662.5 1374.7,662.5"/><polygon points="1392,666.9 1410.7,666.9 1412.2,662.5 1393.4,662.5"/><polygon points="1410.7,666.9 1429.4,666.9 1430.9,662.5 1412.2,662.5"/><polygon points="1429.4,666.9 1442.4,669.3 1443.8,664.9 1430.9,662.5"/><polygon points="1442.4,669.3 1455.4,671.6 1456.6,667.2 1443.8,664.9"/><polygon points="1455.4,671.6 1468.3,674 1469.5,669.6 1456.6,667.2"/><polygon points="1468.3,674 1488,682.2 1488.8,678.1 1469.5,669.6"/><polygon points="1488,682.2 1499.3,689.7 1500.1,686.1 1488.8,678.1"/><polygon points="1499.3,689.7 1511.7,706.2 1512.1,703.9 1500.1,686.1"/><polygon points="1511.7,706.2 1524,718.5 1524.4,717.2 1512.1,703.9"/><polygon points="1524,718.5 1535.9,726.2 1536.2,725.1 1524.4,717.2"/><polygon points="1322.6,672.3 1339.1,672 1340.4,667.7 1324,668"/><polygon points="1339.1,672 1355.5,671.6 1356.9,667.3 1340.4,667.7"/><polygon points="1355.5,671.6 1372,671.3 1373.3,666.9 1356.9,667.3"/><polygon points="1372,671.3 1390.6,671.3 1392,666.9 1373.3,666.9"/><polygon points="1390.6,671.3 1409.3,671.3 1410.7,666.9 1392,666.9"/><polygon points="1409.3,671.3 1427.9,671.3 1429.4,666.9 1410.7,666.9"/><polygon points="1427.9,671.3 1441,673.6 1442.4,669.3 1429.4,666.9"/><polygon points="1441,673.6 1454.1,676 1455.4,671.6 1442.4,669.3"/><polygon points="1454.1,676 1467.2,678.4 1468.3,674 1455.4,671.6"/><polygon points="1467.2,678.4 1487.2,686.2 1488,682.2 1468.3,674"/><polygon points="1487.2,686.2 1498.6,693.2 1499.3,689.7 1488,682.2"/><polygon points="1498.6,693.2 1511.2,708.4 1511.7,706.2 1499.3,689.7"/><polygon points="1511.2,708.4 1523.6,719.8 1524,718.5 1511.7,706.2"/><polygon points="1523.6,719.8 1535.6,727.3 1535.9,726.2 1524,718.5"/><polygon points="1321.2,676.6 1337.7,676.3 1339.1,672 1322.6,672.3"/><polygon points="1337.7,676.3 1354.2,676 1355.5,671.6 1339.1,672"/><polygon points="1354.2,676 1370.7,675.7 1372,671.3 1355.5,671.6"/><polygon points="1370.7,675.7 1389.2,675.7 1390.6,671.3 1372,671.3"/><polygon points="1389.2,675.7 1407.8,675.7 1409.3,671.3 1390.6,671.3"/><polygon points="1407.8,675.7 1426.4,675.7 1427.9,671.3 1409.3,671.3"/><polygon points="1426.4,675.7 1439.6,678 1441,673.6 1427.9,671.3"/><polygon points="1439.6,678 1452.8,680.4 1454.1,676 1441,673.6"/><polygon points="1452.8,680.4 1466.1,682.8 1467.2,678.4 1454.1,676"/><polygon points="1466.1,682.8 1486.4,690.2 1487.2,686.2 1467.2,678.4"/><polygon points="1486.4,690.2 1497.9,696.7 1498.6,693.2 1487.2,686.2"/><polygon points="1497.9,696.7 1510.7,710.6 1511.2,708.4 1498.6,693.2"/><polygon points="1510.7,710.6 1523.2,721.1 1523.6,719.8 1511.2,708.4"/><polygon points="1523.2,721.1 1535.3,728.4 1535.6,727.3 1523.6,719.8"/><polygon points="1319.8,680.8 1336.3,680.6 1337.7,676.3 1321.2,676.6"/><polygon points="1336.3,680.6 1352.8,680.3 1354.2,676 1337.7,676.3"/><polygon points="1352.8,680.3 1369.3,680 1370.7,675.7 1354.2,676"/><polygon points="1369.3,680 1387.9,680 1389.2,675.7 1370.7,675.7"/><polygon points="1387.9,680 1406.4,680 1407.8,675.7 1389.2,675.7"/><polygon points="1406.4,680 1424.9,680 1426.4,675.7 1407.8,675.7"/><polygon points="1424.9,680 1438.2,682.4 1439.6,678 1426.4,675.7"/><polygon points="1438.2,682.4 1451.6,684.8 1452.8,680.4 1439.6,678"/><polygon points="1451.6,684.8 1464.9,687.1 1466.1,682.8 1452.8,680.4"/><polygon points="1464.9,687.1 1485.6,694.3 1486.4,690.2 1466.1,682.8"/><polygon points="1485.6,694.3 1497.1,700.3 1497.9,696.7 1486.4,690.2"/><polygon points="1497.1,700.3 1510.3,712.9 1510.7,710.6 1497.9,696.7"/><polygon points="1510.3,712.9 1522.8,722.4 1523.2,721.1 1510.7,710.6"/><polygon points="1522.8,722.4 1535,729.4 1535.3,728.4 1523.2,721.1"/><polygon points="1318.4,685.1 1334.9,684.9 1336.3,680.6 1319.8,680.8"/><polygon points="1334.9,684.9 1351.5,684.6 1352.8,680.3 1336.3,680.6"/><polygon points="1351.5,684.6 1368,684.4 1369.3,680 1352.8,680.3"/><polygon points="1368,684.4 1386.5,684.4 1387.9,680 1369.3,680"/><polygon points="1386.5,684.4 1404.9,684.4 1406.4,680 1387.9,680"/><polygon points="1404.9,684.4 1423.4,684.4 1424.9,680 1406.4,680"/><polygon points="1423.4,684.4 1436.9,686.8 1438.2,682.4 1424.9,680"/><polygon points="1436.9,686.8 1450.3,689.2 1451.6,684.8 1438.2,682.4"/><polygon points="1450.3,689.2 1463.8,691.5 1464.9,687.1 1451.6,684.8"/><polygon points="1463.8,691.5 1484.8,698.3 1485.6,694.3 1464.9,687.1"/><polygon points="1484.8,698.3 1496.4,703.8 1497.1,700.3 1485.6,694.3"/><polygon points="1496.4,703.8 1509.8,715.1 1510.3,712.9 1497.1,700.3"/><polygon points="1509.8,715.1 1522.4,723.7 1522.8,722.4 1510.3,712.9"/><polygon points="1522.4,723.7 1534.8,730.5 1535,729.4 1522.8,722.4"/><polygon points="1317,689.4 1333.6,689.2 1334.9,684.9 1318.4,685.1"/><polygon points="1333.6,689.2 1350.1,689 1351.5,684.6 1334.9,684.9"/><polygon points="1350.1,689 1366.7,688.8 1368,684.4 1351.5,684.6"/><polygon points="1366.7,688.8 1385.1,688.8 1386.5,684.4 1368,684.4"/><polygon points="1385.1,688.8 1403.5,688.8 1404.9,684.4 1386.5,684.4"/><polygon points="1403.5,688.8 1421.9,688.8 1423.4,684.4 1404.9,684.4"/><polygon points="1421.9,688.8 1435.5,691.2 1436.9,686.8 1423.4,684.4"/><polygon points="1435.5,691.2 1449.1,693.6 1450.3,689.2 1436.9,686.8"/><polygon points="1449.1,693.6 1462.7,695.9 1463.8,691.5 1450.3,689.2"/><polygon points="1462.7,695.9 1484,702.3 1484.8,698.3 1463.8,691.5"/><polygon points="1484,702.3 1495.7,707.3 1496.4,703.8 1484.8,698.3"/><polygon points="1495.7,707.3 1509.3,717.3 1509.8,715.1 1496.4,703.8"/><polygon points="1509.3,717.3 1522,725 1522.4,723.7 1509.8,715.1"/><polygon points="1522,725 1534.5,731.6 1534.8,730.5 1522.4,723.7"/><polygon points="1315.6,693.6 1332.2,693.5 1333.6,689.2 1317,689.4"/><polygon points="1332.2,693.5 1348.8,693.3 1350.1,689 1333.6,689.2"/><polygon points="1348.8,693.3 1365.3,693.2 1366.7,688.8 1350.1,689"/><polygon points="1365.3,693.2 1383.7,693.2 1385.1,688.8 1366.7,688.8"/><polygon points="1383.7,693.2 1402,693.2 1403.5,688.8 1385.1,688.8"/><polygon points="1402,693.2 1420.4,693.2 1421.9,688.8 1403.5,688.8"/><polygon points="1420.4,693.2 1434.1,695.6 1435.5,691.2 1421.9,688.8"/><polygon points="1434.1,695.6 1447.8,697.9 1449.1,693.6 1435.5,691.2"/><polygon points="1447.8,697.9 1461.5,700.3 1462.7,695.9 1449.1,693.6"/><polygon points="1461.5,700.3 1483.2,706.4 1484,702.3 1462.7,695.9"/><polygon points="1483.2,706.4 1494.9,710.9 1495.7,707.3 1484,702.3"/><polygon points="1494.9,710.9 1508.9,719.6 1509.3,717.3 1495.7,707.3"/><polygon points="1508.9,719.6 1521.6,726.3 1522,725 1509.3,717.3"/><polygon points="1521.6,726.3 1534.2,732.7 1534.5,731.6 1522,725"/><polygon points="1314.2,697.9 1330.8,697.8 1332.2,693.5 1315.6,693.6"/><polygon points="1330.8,697.8 1347.4,697.7 1348.8,693.3 1332.2,693.5"/><polygon points="1347.4,697.7 1364,697.6 1365.3,693.2 1348.8,693.3"/><polygon points="1364,697.6 1382.3,697.6 1383.7,693.2 1365.3,693.2"/><polygon points="1382.3,697.6 1400.6,697.6 1402,693.2 1383.7,693.2"/><polygon points="1400.6,697.6 1418.8,697.6 1420.4,693.2 1402,693.2"/><polygon points="1418.8,697.6 1432.7,699.9 1434.1,695.6 1420.4,693.2"/><polygon points="1432.7,699.9 1446.5,702.3 1447.8,697.9 1434.1,695.6"/><polygon points="1446.5,702.3 1460.4,704.7 1461.5,700.3 1447.8,697.9"/><polygon points="1460.4,704.7 1482.4,710.4 1483.2,706.4 1461.5,700.3"/><polygon points="1482.4,710.4 1494.2,714.4 1494.9,710.9 1483.2,706.4"/><polygon points="1494.2,714.4 1508.4,721.8 1508.9,719.6 1494.9,710.9"/><polygon points="1508.4,721.8 1521.2,727.6 1521.6,726.3 1508.9,719.6"/><polygon points="1521.2,727.6 1533.9,733.8 1534.2,732.7 1521.6,726.3"/><polygon points="1312.8,702.2 1329.4,702.1 1330.8,697.8 1314.2,697.9"/><polygon points="1329.4,702.1 1346,702 1347.4,697.7 1330.8,697.8"/><polygon points="1346,702 1362.7,701.9 1364,697.6 1347.4,697.7"/><polygon points="1362.7,701.9 1380.9,701.9 1382.3,697.6 1364,697.6"/><polygon points="1380.9,701.9 1399.1,701.9 1400.6,697.6 1382.3,697.6"/><polygon points="1399.1,701.9 1417.3,701.9 1418.8,697.6 1400.6,697.6"/><polygon points="1417.3,701.9 1431.3,704.3 1432.7,699.9 1418.8,697.6"/><polygon points="1431.3,704.3 1445.3,706.7 1446.5,702.3 1432.7,699.9"/><polygon points="1445.3,706.7 1459.3,709.1 1460.4,704.7 1446.5,702.3"/><polygon points="1459.3,709.1 1481.6,714.4 1482.4,710.4 1460.4,704.7"/><polygon points="1481.6,714.4 1493.5,717.9 1494.2,714.4 1482.4,710.4"/><polygon points="1493.5,717.9 1507.9,724 1508.4,721.8 1494.2,714.4"/><polygon points="1507.9,724 1520.8,728.9 1521.2,727.6 1508.4,721.8"/><polygon points="1520.8,728.9 1533.6,734.8 1533.9,733.8 1521.2,727.6"/><polygon points="1311.4,706.4 1328,706.4 1329.4,702.1 1312.8,702.2"/><polygon points="1328,706.4 1344.7,706.4 1346,702 1329.4,702.1"/><polygon points="1344.7,706.4 1361.3,706.3 1362.7,701.9 1346,702"/><polygon points="1361.3,706.3 1379.5,706.3 1380.9,701.9 1362.7,701.9"/><polygon points="1379.5,706.3 1397.7,706.3 1399.1,701.9 1380.9,701.9"/><polygon points="1397.7,706.3 1415.8,706.3 1417.3,701.9 1399.1,701.9"/><polygon points="1415.8,706.3 1429.9,708.7 1431.3,704.3 1417.3,701.9"/><polygon points="1429.9,708.7 1444,711.1 1445.3,706.7 1431.3,704.3"/><polygon points="1444,711.1 1458.1,713.5 1459.3,709.1 1445.3,706.7"/><polygon points="1458.1,713.5 1480.8,718.5 1481.6,714.4 1459.3,709.1"/><polygon points="1480.8,718.5 1492.7,721.5 1493.5,717.9 1481.6,714.4"/><polygon points="1492.7,721.5 1507.5,726.3 1507.9,724 1493.5,717.9"/><polygon points="1507.5,726.3 1520.4,730.2 1520.8,728.9 1507.9,724"/><polygon points="1520.4,730.2 1533.3,735.9 1533.6,734.8 1520.8,728.9"/><polygon points="1310,710.7 1326.7,710.7 1328,706.4 1311.4,706.4"/><polygon points="1326.7,710.7 1343.3,710.7 1344.7,706.4 1328,706.4"/><polygon points="1343.3,710.7 1360,710.7 1361.3,706.3 1344.7,706.4"/><polygon points="1360,710.7 1378.1,710.7 1379.5,706.3 1361.3,706.3"/><polygon points="1378.1,710.7 1396.2,710.7 1397.7,706.3 1379.5,706.3"/><polygon points="1396.2,710.7 1414.3,710.7 1415.8,706.3 1397.7,706.3"/><polygon points="1414.3,710.7 1428.5,713.1 1429.9,708.7 1415.8,706.3"/><polygon points="1428.5,713.1 1442.8,715.5 1444,711.1 1429.9,708.7"/><polygon points="1442.8,715.5 1457,717.9 1458.1,713.5 1444,711.1"/><polygon points="1457,717.9 1480,722.5 1480.8,718.5 1458.1,713.5"/><polygon points="1480,722.5 1492,725 1492.7,721.5 1480.8,718.5"/><polygon points="1492,725 1507,728.5 1507.5,726.3 1492.7,721.5"/><polygon points="1507,728.5 1520,731.5 1520.4,730.2 1507.5,726.3"/><polygon points="1520,731.5 1533,737 1533.3,735.9 1520.4,730.2"/></g>
<text font-weight="bold" x="1094.3" y="652.8" font-size="33.5" fill="#1a1a1a" textLength="48" lengthAdjust="spacingAndGlyphs">(D)</text>
<text x="1067.5" y="678.6" font-size="27" fill="#1e1e2e" textLength="225.5" lengthAdjust="spacingAndGlyphs">Saturation time (min)</text>
<text x="1244" y="721.1" font-size="21" fill="#1e1e2e" textLength="18.9" lengthAdjust="spacingAndGlyphs">30</text>
<text x="1247" y="811.7" font-size="21" fill="#1e1e2e" textLength="18.9" lengthAdjust="spacingAndGlyphs">20</text>
<text x="1251.6" y="902.9" font-size="21" fill="#1e1e2e" textLength="18.8" lengthAdjust="spacingAndGlyphs">10</text>
<text x="1342.7" y="939.3" font-size="21" fill="#1e1e2e" textLength="30.5" lengthAdjust="spacingAndGlyphs">0.32</text>
<text x="1445.5" y="939.3" font-size="21" fill="#1e1e2e" textLength="30.8" lengthAdjust="spacingAndGlyphs">0.34</text>
<text x="1547.6" y="939.3" font-size="21" fill="#1e1e2e" textLength="30.8" lengthAdjust="spacingAndGlyphs">0.36</text>
<text x="1384.7" y="975" font-size="27" fill="#1e1e2e" textLength="156.3" lengthAdjust="spacingAndGlyphs">Rf (Probencid)</text>
<text x="1701.7" y="757.2" font-size="27" fill="#1e1e2e" textLength="267.6" lengthAdjust="spacingAndGlyphs">Migration distance (mm)</text>
<text x="1716.4" y="794.2" font-size="21" fill="#1e1e2e" textLength="18.6" lengthAdjust="spacingAndGlyphs">80</text>
<text x="1697.8" y="842.6" font-size="21" fill="#1e1e2e" textLength="18.2" lengthAdjust="spacingAndGlyphs">60</text>
<text x="1678.6" y="890.6" font-size="21" fill="#1e1e2e" textLength="18.6" lengthAdjust="spacingAndGlyphs">40</text>
<rect x="0.8" y="1045" width="1004" height="634" fill="#e8e8ea" stroke="#c4c4c6" stroke-width="1.6"/>
<clipPath id="cp99"><rect x="99.4" y="1100.3" width="858.6" height="490"/></clipPath>
<rect x="99.4" y="1100.3" width="858.6" height="490" fill="#82ce90"/>
<g clip-path="url(#cp99)">
<path d="M86.6 1086.2L300.1 1099.4C301.4 1104 305.7 1117.2 307.6 1126.6C309.5 1135.9 311 1138.1 311.7 1155.4C312.3 1172.7 312.1 1212.2 311.7 1230.5C311.2 1248.7 310.7 1254.5 308.8 1265.1C306.8 1275.7 304 1284.3 300.1 1293.9C296.3 1303.6 291 1313.7 285.7 1322.8C280.4 1331.9 277.5 1338.7 268.4 1348.8C259.2 1358.9 244.8 1372.8 230.9 1383.4C216.9 1394 200.1 1403.6 184.7 1412.3C169.3 1420.9 152.7 1428.8 138.5 1435.3C124.3 1441.9 105.8 1448.8 99.3 1451.5L86.6 1455.5Z" fill="#7fa8da"/>
<path d="M86.6 1086.2L190.5 1099.4C194.3 1102.5 206.8 1111.5 213.5 1117.9C220.3 1124.4 225.6 1129.9 230.9 1138.1C236.1 1146.3 242.1 1157.4 245.3 1167C248.5 1176.6 249.9 1186.2 249.9 1195.8C249.9 1205.4 248.5 1214.1 245.3 1224.7C242.1 1235.3 237.1 1249.7 230.9 1259.3C224.6 1268.9 216.4 1275.7 207.8 1282.4C199.1 1289.1 190.5 1293.9 178.9 1299.7C167.4 1305.5 151.8 1312.2 138.5 1317C125.2 1321.8 105.8 1326.6 99.3 1328.6L86.6 1331.5Z" fill="#1414e4"/>
<path d="M86.6 1142.7L99.3 1142.7C102.9 1143.2 113.7 1144 121.2 1145.6C128.7 1147.3 137.6 1149.5 144.3 1152.5C151 1155.6 156.8 1159.8 161.6 1164.1C166.4 1168.4 170.1 1173.2 173.1 1178.5C176.2 1183.8 180.1 1189.1 180.1 1195.8C180.1 1202.6 177.2 1212.2 173.1 1218.9C169.1 1225.6 162.6 1231.9 155.8 1236.2C149.1 1240.6 142.2 1242.3 132.7 1244.9C123.3 1247.5 104.8 1250.7 99.3 1251.8L86.6 1251.8Z" fill="#0a0a78"/>
<path d="M474.4 1086.2L474.4 1099.4C475.4 1104 478.9 1117.2 480.2 1126.6C481.4 1135.9 482.3 1147.3 481.9 1155.4C481.5 1163.6 479.5 1169.9 477.9 1175.6C476.2 1181.4 473.3 1184.8 472.1 1190.1C470.8 1195.3 467.3 1201.1 470.4 1207.4C473.4 1213.6 486.2 1221.8 490.6 1227.6C494.9 1233.3 494.6 1234.8 496.3 1242C498.1 1249.2 499.2 1258.3 501 1270.9C502.7 1283.4 504.6 1301.6 506.7 1317C508.8 1332.4 511.1 1349.7 513.6 1363.2C516.2 1376.7 518 1386.3 522.3 1397.8C526.6 1409.4 532.9 1422.8 539.6 1432.5C546.4 1442.1 553.6 1449.5 562.7 1455.5C571.8 1461.6 582.4 1465.4 594.4 1468.8C606.5 1472.2 618.5 1474.1 634.8 1475.7C651.2 1477.4 663.7 1477.9 692.6 1478.6C721.4 1479.4 774.3 1479.9 808 1480.4C841.7 1480.8 869.5 1480.8 894.6 1481.5C919.6 1482.2 947.5 1483.9 958 1484.4L981.1 1485L981.1 1086.2Z" fill="#54b05e"/>
<path d="M682.7 1086.2L682.7 1099.4C684.4 1105.9 688.5 1122 692.6 1138.1C696.6 1154.2 702.2 1180.4 707 1195.8C711.8 1211.2 714.2 1220.4 721.4 1230.5C728.6 1240.6 738.7 1249.4 750.3 1256.4C761.8 1263.4 776.2 1268.7 790.7 1272.6C805.1 1276.4 819.5 1277.9 836.8 1279.5C854.2 1281.1 874.4 1281.9 894.6 1282.4C914.8 1282.9 947.5 1282.4 958 1282.4L981.1 1282.4L981.1 1086.2Z" fill="#04841e"/>
<path d="M839.7 1086.2L839.7 1099.4C843.1 1102.5 853.2 1111.9 859.9 1117.9C866.7 1123.9 873.4 1130.9 880.1 1135.2C886.9 1139.6 891.2 1141 900.3 1143.9C909.5 1146.8 925.3 1150.1 935 1152.5C944.6 1154.9 954.2 1157.4 958 1158.3L981.1 1159.5L981.1 1086.2Z" fill="#006a00"/>
</g>
<rect x="98.8" y="1099.7" width="859.8" height="491.2" fill="none" stroke="#a6a6a8" stroke-width="1.6"/>
<line x1="99.4" y1="1590.8" x2="99.4" y2="1595.3" stroke="#a0a0a0" stroke-width="1.4"/>
<text x="89.7" y="1613.4" font-size="17.2" fill="#1a1a1a" textLength="19.4" lengthAdjust="spacingAndGlyphs">30</text>
<line x1="290.2" y1="1590.8" x2="290.2" y2="1595.3" stroke="#a0a0a0" stroke-width="1.4"/>
<text x="280.5" y="1613.4" font-size="17.2" fill="#1a1a1a" textLength="19.4" lengthAdjust="spacingAndGlyphs">40</text>
<line x1="481" y1="1590.8" x2="481" y2="1595.3" stroke="#a0a0a0" stroke-width="1.4"/>
<text x="471.3" y="1613.4" font-size="17.2" fill="#1a1a1a" textLength="19.4" lengthAdjust="spacingAndGlyphs">50</text>
<line x1="671.8" y1="1590.8" x2="671.8" y2="1595.3" stroke="#a0a0a0" stroke-width="1.4"/>
<text x="662.1" y="1613.4" font-size="17.2" fill="#1a1a1a" textLength="19.4" lengthAdjust="spacingAndGlyphs">60</text>
<line x1="862.6" y1="1590.8" x2="862.6" y2="1595.3" stroke="#a0a0a0" stroke-width="1.4"/>
<text x="852.9" y="1613.4" font-size="17.2" fill="#1a1a1a" textLength="19.4" lengthAdjust="spacingAndGlyphs">70</text>
<line x1="94.4" y1="1590.3" x2="98.9" y2="1590.3" stroke="#a0a0a0" stroke-width="1.4"/>
<text x="68.7" y="1593.8" font-size="17.2" fill="#1a1a1a" textLength="19.6" lengthAdjust="spacingAndGlyphs">10</text>
<line x1="94.4" y1="1492.3" x2="98.9" y2="1492.3" stroke="#a0a0a0" stroke-width="1.4"/>
<text x="68.7" y="1495.8" font-size="17.2" fill="#1a1a1a" textLength="19.6" lengthAdjust="spacingAndGlyphs">15</text>
<line x1="94.4" y1="1394.3" x2="98.9" y2="1394.3" stroke="#a0a0a0" stroke-width="1.4"/>
<text x="68.7" y="1397.8" font-size="17.2" fill="#1a1a1a" textLength="19.6" lengthAdjust="spacingAndGlyphs">20</text>
<line x1="94.4" y1="1296.3" x2="98.9" y2="1296.3" stroke="#a0a0a0" stroke-width="1.4"/>
<text x="68.7" y="1299.8" font-size="17.2" fill="#1a1a1a" textLength="19.6" lengthAdjust="spacingAndGlyphs">25</text>
<line x1="94.4" y1="1198.3" x2="98.9" y2="1198.3" stroke="#a0a0a0" stroke-width="1.4"/>
<text x="68.7" y="1201.8" font-size="17.2" fill="#1a1a1a" textLength="19.6" lengthAdjust="spacingAndGlyphs">30</text>
<line x1="94.4" y1="1100.3" x2="98.9" y2="1100.3" stroke="#a0a0a0" stroke-width="1.4"/>
<text x="68.7" y="1103.8" font-size="17.2" fill="#1a1a1a" textLength="19.6" lengthAdjust="spacingAndGlyphs">35</text>
<text x="102.7" y="1200" font-size="20.4" fill="#ffffff" textLength="61.3" lengthAdjust="spacingAndGlyphs">&lt;1950</text>
<text x="105" y="1271" font-size="20.4" fill="#ffffff" textLength="106.2" lengthAdjust="spacingAndGlyphs">1950-2000</text>
<text x="142" y="1361" font-size="20.4" fill="#ffffff" textLength="106.2" lengthAdjust="spacingAndGlyphs">2000-2050</text>
<text x="332.4" y="1346" font-size="20.4" fill="#1a1a1a" textLength="106.2" lengthAdjust="spacingAndGlyphs">2050-2100</text>
<text x="625.6" y="1361" font-size="20.4" fill="#1a1a1a" textLength="106.2" lengthAdjust="spacingAndGlyphs">2100-2150</text>
<text x="761.8" y="1183.7" font-size="20.4" fill="#1a1a1a" textLength="106.2" lengthAdjust="spacingAndGlyphs">2150-2200</text>
<text x="883" y="1126.6" font-size="20.4" fill="#1a1a1a" textLength="61.8" lengthAdjust="spacingAndGlyphs">&gt;2200</text>
<text x="367" y="1125.4" font-size="20.4" fill="#1a1a1a" textLength="254.6" lengthAdjust="spacingAndGlyphs">(E) Peak area (Colchicine)</text>
<text x="392.4" y="1647.7" font-size="22" fill="#1a1a1a" textLength="269.6" lengthAdjust="spacingAndGlyphs" stroke="#1a1a1a" stroke-width="0.3">Migration distance (mm)</text>
<text x="0" y="0" font-size="22" fill="#1a1a1a" textLength="220.6" lengthAdjust="spacingAndGlyphs" transform="translate(50.5 1455.6) rotate(-90)" stroke="#1a1a1a" stroke-width="0.3">Saturation time (min)</text>
<rect x="1009.3" y="1045" width="980" height="636.5" fill="#e8e8ea" stroke="#c4c4c6" stroke-width="1.6"/>
<clipPath id="cp1104"><rect x="1104.6" y="1100.2" width="832.4" height="492.1"/></clipPath>
<rect x="1104.6" y="1100.2" width="832.4" height="492.1" fill="#54b05e"/>
<g clip-path="url(#cp1104)">
<path d="M1501.1 1086.2L1501.1 1099.4C1505.4 1101.6 1517.9 1106.2 1527 1112.1C1536.2 1118.1 1547.7 1127.1 1555.9 1135.2C1564.1 1143.4 1570.8 1152.1 1576.1 1161.2C1581.4 1170.3 1585.7 1180.4 1587.6 1190.1C1589.6 1199.7 1588.9 1210.7 1587.6 1218.9C1586.4 1227.1 1583.5 1231.9 1580.1 1239.1C1576.8 1246.3 1574.4 1254 1567.4 1262.2C1560.5 1270.4 1549.2 1280.5 1538.6 1288.2C1528 1295.9 1516.5 1301.2 1504 1308.4C1491.5 1315.6 1478 1321.4 1463.6 1331.5C1449.1 1341.6 1431.8 1356 1417.4 1369C1403 1382 1391.4 1395.4 1377 1409.4C1362.6 1423.3 1346.2 1438.2 1330.8 1452.7C1315.4 1467.1 1300 1483 1284.7 1495.9C1269.3 1508.9 1253.9 1520 1238.5 1530.6C1223.1 1541.1 1205.8 1551.2 1192.3 1559.4C1178.8 1567.6 1168.3 1574.1 1157.7 1579.6C1147.1 1585.1 1133.6 1590.2 1128.8 1592.3L1123.1 1605.6L1088.4 1605.6L1088.4 1086.2Z" fill="#82ce90"/>
<path d="M1203.9 1086.2L1203.9 1099.4C1207.7 1102 1220.2 1109.1 1226.9 1115C1233.7 1121 1239 1127.1 1244.3 1135.2C1249.5 1143.4 1255.1 1154 1258.7 1164.1C1262.2 1174.2 1265.4 1184.8 1265.6 1195.8C1265.8 1206.9 1263.9 1218.9 1259.8 1230.5C1255.8 1242 1248.8 1255.5 1241.4 1265.1C1234 1274.7 1225.5 1281 1215.4 1288.2C1205.3 1295.4 1193.3 1302.6 1180.8 1308.4C1168.3 1314.1 1153.1 1319.1 1140.4 1322.8C1127.7 1326.5 1110.6 1329 1104.6 1330.3L1088.4 1332L1088.4 1086.2Z" fill="#a8e6be"/>
<path d="M1649.4 1086.2L1649.4 1099.4C1651.1 1104 1655.7 1115.3 1659.8 1126.6C1663.9 1137.8 1669.4 1153.5 1674.2 1167C1679 1180.4 1685.3 1196.8 1688.6 1207.4C1692 1217.9 1691.1 1221.3 1694.4 1230.5C1697.8 1239.6 1702.1 1252.6 1708.8 1262.2C1715.6 1271.8 1724.7 1281 1734.8 1288.2C1744.9 1295.4 1758.9 1301.6 1769.4 1305.5C1780 1309.3 1784.8 1309.3 1798.3 1311.3C1811.8 1313.2 1833.9 1314.9 1850.2 1317C1866.6 1319.1 1881.8 1321.5 1896.4 1323.9C1911 1326.4 1931 1330.2 1938 1331.5L1954.1 1333.2L1954.1 1086.2Z" fill="#04841e"/>
<path d="M1768.3 1086.2L1768.3 1099.4C1772.3 1104 1783.7 1119.2 1792.5 1126.6C1801.4 1134 1809.8 1139.1 1821.4 1143.9C1832.9 1148.7 1849.3 1152.1 1861.8 1155.4C1874.3 1158.8 1886.8 1161.2 1896.4 1164.1C1906 1167 1912.6 1169.6 1919.5 1172.7C1926.4 1175.9 1934.9 1181.4 1938 1183.1L1954.1 1187.2L1954.1 1086.2Z" fill="#006a00"/>
<path d="M1861.8 1086.2L1861.8 1099.4C1866.6 1102.5 1882 1112.9 1890.6 1117.9C1899.3 1122.9 1905.8 1125.9 1913.7 1129.5C1921.6 1133 1933.9 1137.6 1938 1139.3L1954.1 1141.6L1954.1 1086.2Z" fill="#044d18"/>
<path d="M1703.1 1605.6L1707.1 1592.3C1708.8 1589.7 1711.9 1582.2 1717.5 1576.7C1723.1 1571.3 1731 1564.2 1740.6 1559.4C1750.2 1554.6 1761.7 1551.7 1775.2 1547.9C1788.7 1544 1806 1538.3 1821.4 1536.3C1836.8 1534.4 1853.1 1534.9 1867.6 1536.3C1882 1537.8 1896.2 1541.4 1908 1545C1919.7 1548.6 1933 1555.6 1938 1557.7L1954.1 1562.3L1954.1 1605.6Z" fill="#82ce90"/>
</g>
<rect x="1104" y="1099.6" width="833.6" height="493.3" fill="none" stroke="#a6a6a8" stroke-width="1.6"/>
<line x1="1104.6" y1="1592.8" x2="1104.6" y2="1597.3" stroke="#a0a0a0" stroke-width="1.4"/>
<text x="1094.9" y="1614.2" font-size="17.2" fill="#1a1a1a" textLength="19.4" lengthAdjust="spacingAndGlyphs">30</text>
<line x1="1289.6" y1="1592.8" x2="1289.6" y2="1597.3" stroke="#a0a0a0" stroke-width="1.4"/>
<text x="1279.9" y="1614.2" font-size="17.2" fill="#1a1a1a" textLength="19.4" lengthAdjust="spacingAndGlyphs">40</text>
<line x1="1474.6" y1="1592.8" x2="1474.6" y2="1597.3" stroke="#a0a0a0" stroke-width="1.4"/>
<text x="1464.9" y="1614.2" font-size="17.2" fill="#1a1a1a" textLength="19.4" lengthAdjust="spacingAndGlyphs">50</text>
<line x1="1659.5" y1="1592.8" x2="1659.5" y2="1597.3" stroke="#a0a0a0" stroke-width="1.4"/>
<text x="1649.8" y="1614.2" font-size="17.2" fill="#1a1a1a" textLength="19.4" lengthAdjust="spacingAndGlyphs">60</text>
<line x1="1844.5" y1="1592.8" x2="1844.5" y2="1597.3" stroke="#a0a0a0" stroke-width="1.4"/>
<text x="1834.8" y="1614.2" font-size="17.2" fill="#1a1a1a" textLength="19.4" lengthAdjust="spacingAndGlyphs">70</text>
<line x1="1099.6" y1="1592.3" x2="1104.1" y2="1592.3" stroke="#a0a0a0" stroke-width="1.4"/>
<text x="1076.4" y="1595.8" font-size="17.2" fill="#1a1a1a" textLength="19.6" lengthAdjust="spacingAndGlyphs">10</text>
<line x1="1099.6" y1="1493.9" x2="1104.1" y2="1493.9" stroke="#a0a0a0" stroke-width="1.4"/>
<text x="1076.4" y="1497.4" font-size="17.2" fill="#1a1a1a" textLength="19.6" lengthAdjust="spacingAndGlyphs">15</text>
<line x1="1099.6" y1="1395.5" x2="1104.1" y2="1395.5" stroke="#a0a0a0" stroke-width="1.4"/>
<text x="1076.4" y="1399" font-size="17.2" fill="#1a1a1a" textLength="19.6" lengthAdjust="spacingAndGlyphs">20</text>
<line x1="1099.6" y1="1297" x2="1104.1" y2="1297" stroke="#a0a0a0" stroke-width="1.4"/>
<text x="1076.4" y="1300.5" font-size="17.2" fill="#1a1a1a" textLength="19.6" lengthAdjust="spacingAndGlyphs">25</text>
<line x1="1099.6" y1="1198.6" x2="1104.1" y2="1198.6" stroke="#a0a0a0" stroke-width="1.4"/>
<text x="1076.4" y="1202.1" font-size="17.2" fill="#1a1a1a" textLength="19.6" lengthAdjust="spacingAndGlyphs">30</text>
<line x1="1099.6" y1="1100.2" x2="1104.1" y2="1100.2" stroke="#a0a0a0" stroke-width="1.4"/>
<text x="1076.4" y="1103.7" font-size="17.2" fill="#1a1a1a" textLength="19.6" lengthAdjust="spacingAndGlyphs">35</text>
<text x="1117.3" y="1201.6" font-size="20.4" fill="#1a1a1a" textLength="72.1" lengthAdjust="spacingAndGlyphs">&lt;10100</text>
<text x="1323.9" y="1235" font-size="20.4" fill="#1a1a1a" textLength="127" lengthAdjust="spacingAndGlyphs">10100-10200</text>
<text x="1552.4" y="1381.7" font-size="20.4" fill="#1a1a1a" textLength="127" lengthAdjust="spacingAndGlyphs">10200-10300</text>
<text x="1735.4" y="1235" font-size="20.4" fill="#1a1a1a" textLength="127" lengthAdjust="spacingAndGlyphs">10300-10400</text>
<text x="1802.9" y="1152" font-size="20.4" fill="#1a1a1a" textLength="127" lengthAdjust="spacingAndGlyphs">10400-10500</text>
<text x="1858.9" y="1122.5" font-size="20.4" fill="#1a1a1a" textLength="73.3" lengthAdjust="spacingAndGlyphs">&gt;10500</text>
<text x="1404" y="1125.4" font-size="20.4" fill="#1a1a1a" textLength="246" lengthAdjust="spacingAndGlyphs">(F) Peak area (Probencid)</text>
<text x="1388.5" y="1650" font-size="22" fill="#1a1a1a" textLength="262.5" lengthAdjust="spacingAndGlyphs" stroke="#1a1a1a" stroke-width="0.3">Migration distance (mm)</text>
<text x="0" y="0" font-size="22" fill="#1a1a1a" textLength="221.7" lengthAdjust="spacingAndGlyphs" transform="translate(1059.5 1456.7) rotate(-90)" stroke="#1a1a1a" stroke-width="0.3">Saturation time (min)</text>
<rect x="9" y="1691.8" width="984.4" height="690" fill="#e8e8ea" stroke="#c4c4c6" stroke-width="1.6"/>
<clipPath id="cp105"><rect x="105.6" y="1751.3" width="840.9" height="529.9"/></clipPath>
<rect x="105.6" y="1751.3" width="840.9" height="529.9" fill="#04841e"/>
<g clip-path="url(#cp105)">
<path d="M777.4 1737.7L777.4 1751C776.2 1754.5 773.6 1764.9 770.5 1772.3C767.4 1779.7 762.6 1787.7 758.9 1795.4C755.3 1803.1 751.4 1808.9 748.5 1818.5C745.7 1828.1 742.3 1841.6 741.6 1853.1C740.9 1864.7 743.1 1878.1 744.5 1887.8C745.9 1897.4 748.8 1901.7 750.3 1910.9C751.7 1920 754.6 1933.9 753.2 1942.6C751.7 1951.3 747.9 1954.6 741.6 1962.8C735.4 1971 724.8 1982 715.6 1991.7C706.5 2001.3 695.4 2010.9 686.8 2020.5C678.1 2030.1 670.4 2038.8 663.7 2049.4C657 2059.9 652.6 2071.5 646.4 2084C640.1 2096.5 632.9 2111.9 626.2 2124.4C619.5 2136.9 612.2 2149.4 606 2159C599.7 2168.6 594.9 2173.4 588.7 2182.1C582.4 2190.8 575.2 2201.3 568.5 2211C561.7 2220.6 555.5 2228.1 548.3 2239.8C541.1 2251.6 529 2274.4 525.2 2281.4L516.5 2297.5L86.6 2297.5L86.6 1737.7Z" fill="#54b05e"/>
<path d="M652.2 1737.7L652.2 1751C653.1 1756.5 656 1772.6 657.9 1783.9C659.9 1795.1 662.5 1807.5 663.7 1818.5C665 1829.6 666.1 1837.7 665.4 1850.3C664.8 1862.8 662.4 1879.6 659.7 1893.5C657 1907.5 655.3 1921.4 649.3 1933.9C643.2 1946.4 633.4 1957.5 623.3 1968.6C613.2 1979.6 600.2 1990.7 588.7 2000.3C577.1 2009.9 565.6 2018.1 554 2026.3C542.5 2034.5 531.9 2039.7 519.4 2049.4C506.9 2059 492.5 2072 479 2084C465.6 2096 451.1 2110 438.6 2121.5C426.1 2133.1 415.5 2142.2 404 2153.2C392.5 2164.3 380.9 2176.3 369.4 2187.9C357.8 2199.4 346.3 2211.4 334.7 2222.5C323.2 2233.6 311.2 2244.4 300.1 2254.2C289 2264.1 273.7 2276.9 268.4 2281.4L253.9 2297.5L86.6 2297.5L86.6 1737.7Z" fill="#82ce90"/>
<path d="M540.8 1737.7L540.8 1751C543.9 1753.6 553.3 1760.1 559.8 1766.6C566.4 1773 574.2 1781 580 1789.7C585.8 1798.3 590.8 1808.4 594.4 1818.5C598.1 1828.6 602 1837.7 602 1850.3C602 1862.8 598.6 1882.5 594.4 1893.5C590.3 1904.6 583.9 1909.9 577.1 1916.6C570.4 1923.4 563.7 1927.7 554 1933.9C544.4 1940.2 531.9 1947.4 519.4 1954.1C506.9 1960.9 492.5 1967.6 479 1974.3C465.6 1981.1 451.1 1987.8 438.6 1994.5C426.1 2001.3 415.5 2007.5 404 2014.7C392.5 2022 380.9 2029.6 369.4 2037.8C357.8 2046 346.3 2055.6 334.7 2063.8C323.2 2072 312.6 2078.7 300.1 2086.9C287.6 2095.1 273.2 2104.7 259.7 2112.9C246.2 2121 233.7 2128.7 219.3 2135.9C204.9 2143.1 187.6 2149.9 173.1 2156.1C158.7 2162.4 144.1 2168.4 132.7 2173.4C121.4 2178.5 109.7 2184.5 105 2186.7L86.6 2193.6L86.6 1737.7Z" fill="#7fa8da"/>
<path d="M329 1737.7L329 1751C330.9 1755.5 337.1 1768.8 340.5 1778.1C343.9 1787.4 346.8 1796.4 349.2 1807C351.6 1817.6 354.3 1831 354.9 1841.6C355.6 1852.2 354.6 1860.8 353.2 1870.5C351.8 1880.1 349.4 1889.7 346.3 1899.3C343.2 1908.9 339.5 1919 334.7 1928.2C329.9 1937.3 324.2 1945.5 317.4 1954.1C310.7 1962.8 303 1971.9 294.3 1980.1C285.7 1988.3 275.1 1996 265.5 2003.2C255.9 2010.4 248.2 2017.1 236.6 2023.4C225.1 2029.6 209.2 2035.4 196.2 2040.7C183.2 2046 173.9 2050.3 158.7 2055.1C143.5 2059.9 114 2067.2 105 2069.6L86.6 2073.6L86.6 1737.7Z" fill="#2660e2"/>
<path d="M204.9 1737.7L204.9 1751C208.2 1753.6 218.8 1760.1 225.1 1766.6C231.3 1773 237.1 1781 242.4 1789.7C247.7 1798.3 253.3 1807.9 256.8 1818.5C260.4 1829.1 263.3 1842.6 263.8 1853.1C264.2 1863.7 262.3 1872.4 259.7 1882C257.1 1891.6 253.5 1901.7 248.2 1910.9C242.9 1920 235.7 1929.1 228 1936.8C220.3 1944.5 212.1 1950.8 202 1957C191.9 1963.3 178.4 1969.7 167.4 1974.3C156.3 1979 146 1982.1 135.6 1984.7C125.2 1987.3 110.1 1989.1 105 1989.9L86.6 1991.7L86.6 1737.7Z" fill="#1414e4"/>
<path d="M86.6 1789.7L105 1789.7C109.7 1790.3 124.3 1791.3 132.7 1793.7C141.2 1796.1 149.1 1799.5 155.8 1804.1C162.6 1808.7 168.3 1815.6 173.1 1821.4C177.9 1827.2 181.8 1833.4 184.7 1838.7C187.6 1844 190 1846.9 190.5 1853.1C190.9 1859.4 190.5 1869 187.6 1876.2C184.7 1883.4 179.4 1891.1 173.1 1896.4C166.9 1901.7 157.7 1904.6 150.1 1908C142.4 1911.3 134.5 1914.4 127 1916.6C119.5 1918.8 108.7 1920.5 105 1921.2L86.6 1922.4Z" fill="#1010a8"/>
</g>
<rect x="105" y="1750.7" width="842.1" height="531.1" fill="none" stroke="#a6a6a8" stroke-width="1.6"/>
<line x1="105.6" y1="2281.7" x2="105.6" y2="2286.2" stroke="#a0a0a0" stroke-width="1.4"/>
<text x="95.9" y="2306" font-size="17.2" fill="#1a1a1a" textLength="19.4" lengthAdjust="spacingAndGlyphs">30</text>
<line x1="292.5" y1="2281.7" x2="292.5" y2="2286.2" stroke="#a0a0a0" stroke-width="1.4"/>
<text x="282.8" y="2306" font-size="17.2" fill="#1a1a1a" textLength="19.4" lengthAdjust="spacingAndGlyphs">40</text>
<line x1="479.3" y1="2281.7" x2="479.3" y2="2286.2" stroke="#a0a0a0" stroke-width="1.4"/>
<text x="469.6" y="2306" font-size="17.2" fill="#1a1a1a" textLength="19.4" lengthAdjust="spacingAndGlyphs">50</text>
<line x1="666.2" y1="2281.7" x2="666.2" y2="2286.2" stroke="#a0a0a0" stroke-width="1.4"/>
<text x="656.5" y="2306" font-size="17.2" fill="#1a1a1a" textLength="19.4" lengthAdjust="spacingAndGlyphs">60</text>
<line x1="853.1" y1="2281.7" x2="853.1" y2="2286.2" stroke="#a0a0a0" stroke-width="1.4"/>
<text x="843.4" y="2306" font-size="17.2" fill="#1a1a1a" textLength="19.4" lengthAdjust="spacingAndGlyphs">70</text>
<line x1="100.6" y1="2281.2" x2="105.1" y2="2281.2" stroke="#a0a0a0" stroke-width="1.4"/>
<text x="74.8" y="2284.7" font-size="17.2" fill="#1a1a1a" textLength="19.6" lengthAdjust="spacingAndGlyphs">10</text>
<line x1="100.6" y1="2175.2" x2="105.1" y2="2175.2" stroke="#a0a0a0" stroke-width="1.4"/>
<text x="74.8" y="2178.7" font-size="17.2" fill="#1a1a1a" textLength="19.6" lengthAdjust="spacingAndGlyphs">15</text>
<line x1="100.6" y1="2069.2" x2="105.1" y2="2069.2" stroke="#a0a0a0" stroke-width="1.4"/>
<text x="74.8" y="2072.7" font-size="17.2" fill="#1a1a1a" textLength="19.6" lengthAdjust="spacingAndGlyphs">20</text>
<line x1="100.6" y1="1963.3" x2="105.1" y2="1963.3" stroke="#a0a0a0" stroke-width="1.4"/>
<text x="74.8" y="1966.8" font-size="17.2" fill="#1a1a1a" textLength="19.6" lengthAdjust="spacingAndGlyphs">25</text>
<line x1="100.6" y1="1857.3" x2="105.1" y2="1857.3" stroke="#a0a0a0" stroke-width="1.4"/>
<text x="74.8" y="1860.8" font-size="17.2" fill="#1a1a1a" textLength="19.6" lengthAdjust="spacingAndGlyphs">30</text>
<line x1="100.6" y1="1751.3" x2="105.1" y2="1751.3" stroke="#a0a0a0" stroke-width="1.4"/>
<text x="74.8" y="1754.8" font-size="17.2" fill="#1a1a1a" textLength="19.6" lengthAdjust="spacingAndGlyphs">35</text>
<text x="105.6" y="1857.2" font-size="20.4" fill="#ffffff" textLength="53.1" lengthAdjust="spacingAndGlyphs">&lt;0.50</text>
<text x="113" y="1938" font-size="20.4" fill="#ffffff" textLength="90" lengthAdjust="spacingAndGlyphs">0.50-0.52</text>
<text x="113" y="2016.5" font-size="20.4" fill="#ffffff" textLength="90" lengthAdjust="spacingAndGlyphs">0.52-0.54</text>
<text x="287.4" y="2007.8" font-size="20.4" fill="#ffffff" textLength="90.6" lengthAdjust="spacingAndGlyphs">0.54-0.56</text>
<text x="251.6" y="2159" font-size="20.4" fill="#1a1a1a" textLength="90.6" lengthAdjust="spacingAndGlyphs">0.56-0.58</text>
<text x="451.9" y="2159" font-size="20.4" fill="#1a1a1a" textLength="90.6" lengthAdjust="spacingAndGlyphs">0.58-0.60</text>
<text x="708.7" y="2153.3" font-size="20.4" fill="#1a1a1a" textLength="90.6" lengthAdjust="spacingAndGlyphs">0.60-0.62</text>
<text x="413" y="1787.3" font-size="20.4" fill="#1a1a1a" textLength="175" lengthAdjust="spacingAndGlyphs">(G) Rf (Colchicine)</text>
<text x="392.5" y="2343.7" font-size="22" fill="#1a1a1a" textLength="265.5" lengthAdjust="spacingAndGlyphs" stroke="#1a1a1a" stroke-width="0.3">Migration distance (mm)</text>
<text x="0" y="0" font-size="22" fill="#1a1a1a" textLength="238.4" lengthAdjust="spacingAndGlyphs" transform="translate(58 2136) rotate(-90)" stroke="#1a1a1a" stroke-width="0.3">Saturation time (min)</text>
<rect x="995.6" y="1691.8" width="976" height="683.6" fill="#e8e8ea" stroke="#c4c4c6" stroke-width="1.6"/>
<clipPath id="cp1091"><rect x="1091.3" y="1751" width="835.1" height="528"/></clipPath>
<rect x="1091.3" y="1751" width="835.1" height="528" fill="#54b05e"/>
<g clip-path="url(#cp1091)">
<path d="M1149 1737.7L1149 1751C1152.4 1752.6 1162 1756.3 1169.2 1760.8C1176.4 1765.3 1185.6 1772.3 1192.3 1778.1C1199 1783.9 1204.8 1789.2 1209.6 1795.4C1214.4 1801.7 1217.8 1807 1221.2 1815.6C1224.5 1824.3 1229.3 1837.3 1229.8 1847.4C1230.3 1857.5 1227.4 1866.6 1224.1 1876.2C1220.7 1885.8 1216.4 1896.4 1209.6 1905.1C1202.9 1913.7 1192.3 1921.9 1183.7 1928.2C1175 1934.4 1166.3 1938.5 1157.7 1942.6C1149 1946.7 1142.8 1949.6 1131.7 1953C1120.7 1956.4 1098 1961.2 1091.3 1962.8L1059.6 1965.7L1059.6 1737.7Z" fill="#82ce90"/>
<path d="M1059.6 2216.7L1091.3 2208.1C1100.5 2204.2 1127.4 2193.6 1146.1 2185C1164.9 2176.3 1184.6 2165.3 1203.9 2156.1C1223.1 2147 1242.3 2138.8 1261.6 2130.2C1280.8 2121.5 1300 2113.3 1319.3 2104.2C1338.5 2095.1 1357.8 2084.5 1377 2075.3C1396.2 2066.2 1415.5 2058 1434.7 2049.4C1453.9 2040.7 1473.2 2032.1 1492.4 2023.4C1511.7 2014.7 1531.9 2005.3 1550.1 1997.4C1568.4 1989.5 1585.7 1981.8 1602.1 1976.1C1618.4 1970.3 1633.8 1966.6 1648.2 1962.8C1662.7 1958.9 1674.2 1954.9 1688.6 1953C1703.1 1951.1 1714.6 1951.5 1734.8 1951.3C1755 1951 1786.8 1951.3 1809.8 1951.3C1832.9 1951.3 1853.9 1952 1873.3 1951.3C1892.8 1950.5 1917.6 1947.4 1926.4 1946.6L1954.1 1945.5L1954.1 2297.5L1059.6 2297.5Z" fill="#04841e"/>
<path d="M1428.9 2297.5L1443.4 2279.1C1448.7 2273 1464 2254.5 1475.1 2242.7C1486.2 2230.9 1497.2 2218.7 1509.7 2208.1C1522.2 2197.5 1535.7 2188.8 1550.1 2179.2C1564.6 2169.6 1580.9 2160 1596.3 2150.4C1611.7 2140.7 1628 2131.6 1642.5 2121.5C1656.9 2111.4 1671.3 2099.9 1682.9 2089.8C1694.4 2079.7 1703.1 2069.6 1711.7 2060.9C1720.4 2052.3 1725.2 2044.4 1734.8 2037.8C1744.4 2031.3 1757.9 2025.5 1769.4 2021.7C1781 2017.8 1792.5 2016.3 1804.1 2014.7C1815.6 2013.2 1826.2 2012.2 1838.7 2012.4C1851.2 2012.6 1867.6 2014.4 1879.1 2015.9C1890.6 2017.4 1900.1 2019.6 1908 2021.7C1915.8 2023.7 1923.3 2027 1926.4 2028L1954.1 2032.1L1954.1 2297.5Z" fill="#006a00"/>
<path d="M1656.9 2297.5L1664.4 2279.1C1666 2275.9 1669.2 2266.6 1674.2 2260C1679.2 2253.5 1686.2 2246.1 1694.4 2239.8C1702.6 2233.6 1713.7 2227.8 1723.3 2222.5C1732.9 2217.2 1740.6 2211.9 1752.1 2208.1C1763.7 2204.2 1778.1 2201.3 1792.5 2199.4C1807 2197.5 1824.3 2196.5 1838.7 2196.5C1853.1 2196.5 1867.6 2198 1879.1 2199.4C1890.6 2200.9 1900.1 2203.3 1908 2205.2C1915.8 2207.1 1923.3 2210 1926.4 2211L1954.1 2213.8L1954.1 2297.5Z" fill="#044d18"/>
</g>
<rect x="1090.7" y="1750.4" width="836.3" height="529.2" fill="none" stroke="#a6a6a8" stroke-width="1.6"/>
<line x1="1091.3" y1="2279.5" x2="1091.3" y2="2284" stroke="#a0a0a0" stroke-width="1.4"/>
<text x="1081.6" y="2304.5" font-size="17.2" fill="#1a1a1a" textLength="19.4" lengthAdjust="spacingAndGlyphs">30</text>
<line x1="1276.9" y1="2279.5" x2="1276.9" y2="2284" stroke="#a0a0a0" stroke-width="1.4"/>
<text x="1267.2" y="2304.5" font-size="17.2" fill="#1a1a1a" textLength="19.4" lengthAdjust="spacingAndGlyphs">40</text>
<line x1="1462.5" y1="2279.5" x2="1462.5" y2="2284" stroke="#a0a0a0" stroke-width="1.4"/>
<text x="1452.8" y="2304.5" font-size="17.2" fill="#1a1a1a" textLength="19.4" lengthAdjust="spacingAndGlyphs">50</text>
<line x1="1648" y1="2279.5" x2="1648" y2="2284" stroke="#a0a0a0" stroke-width="1.4"/>
<text x="1638.3" y="2304.5" font-size="17.2" fill="#1a1a1a" textLength="19.4" lengthAdjust="spacingAndGlyphs">60</text>
<line x1="1833.6" y1="2279.5" x2="1833.6" y2="2284" stroke="#a0a0a0" stroke-width="1.4"/>
<text x="1823.9" y="2304.5" font-size="17.2" fill="#1a1a1a" textLength="19.4" lengthAdjust="spacingAndGlyphs">70</text>
<line x1="1086.3" y1="2279" x2="1090.8" y2="2279" stroke="#a0a0a0" stroke-width="1.4"/>
<text x="1061.9" y="2282.5" font-size="17.2" fill="#1a1a1a" textLength="19.6" lengthAdjust="spacingAndGlyphs">10</text>
<line x1="1086.3" y1="2173.4" x2="1090.8" y2="2173.4" stroke="#a0a0a0" stroke-width="1.4"/>
<text x="1061.9" y="2176.9" font-size="17.2" fill="#1a1a1a" textLength="19.6" lengthAdjust="spacingAndGlyphs">15</text>
<line x1="1086.3" y1="2067.8" x2="1090.8" y2="2067.8" stroke="#a0a0a0" stroke-width="1.4"/>
<text x="1061.9" y="2071.3" font-size="17.2" fill="#1a1a1a" textLength="19.6" lengthAdjust="spacingAndGlyphs">20</text>
<line x1="1086.3" y1="1962.2" x2="1090.8" y2="1962.2" stroke="#a0a0a0" stroke-width="1.4"/>
<text x="1061.9" y="1965.7" font-size="17.2" fill="#1a1a1a" textLength="19.6" lengthAdjust="spacingAndGlyphs">25</text>
<line x1="1086.3" y1="1856.6" x2="1090.8" y2="1856.6" stroke="#a0a0a0" stroke-width="1.4"/>
<text x="1061.9" y="1860.1" font-size="17.2" fill="#1a1a1a" textLength="19.6" lengthAdjust="spacingAndGlyphs">30</text>
<line x1="1086.3" y1="1751" x2="1090.8" y2="1751" stroke="#a0a0a0" stroke-width="1.4"/>
<text x="1061.9" y="1754.5" font-size="17.2" fill="#1a1a1a" textLength="19.6" lengthAdjust="spacingAndGlyphs">35</text>
<text x="1092.5" y="1858.9" font-size="20.4" fill="#1a1a1a" textLength="112.5" lengthAdjust="spacingAndGlyphs">0.300-0.315</text>
<text x="1309.5" y="1892.4" font-size="20.4" fill="#1a1a1a" textLength="112.5" lengthAdjust="spacingAndGlyphs">0.315-0.330</text>
<text x="1379.3" y="2155" font-size="20.4" fill="#1a1a1a" textLength="112.5" lengthAdjust="spacingAndGlyphs">0.330-0.345</text>
<text x="1693.3" y="2153.3" font-size="20.4" fill="#1a1a1a" textLength="113.1" lengthAdjust="spacingAndGlyphs">0.345-0.360</text>
<text x="1772.3" y="2253.1" font-size="20.4" fill="#1a1a1a" textLength="64.7" lengthAdjust="spacingAndGlyphs">&gt;0.360</text>
<text x="1424.9" y="1776.4" font-size="20.4" fill="#1a1a1a" textLength="176.1" lengthAdjust="spacingAndGlyphs">(H) Rf (Probencid)</text>
<text x="1375.8" y="2340.8" font-size="22" fill="#1a1a1a" textLength="263.8" lengthAdjust="spacingAndGlyphs" stroke="#1a1a1a" stroke-width="0.3">Migration distance (mm)</text>
<text x="0" y="0" font-size="22" fill="#1a1a1a" textLength="239.6" lengthAdjust="spacingAndGlyphs" transform="translate(1046 2136) rotate(-90)" stroke="#1a1a1a" stroke-width="0.3">Saturation time (min)</text></svg></body></html>
